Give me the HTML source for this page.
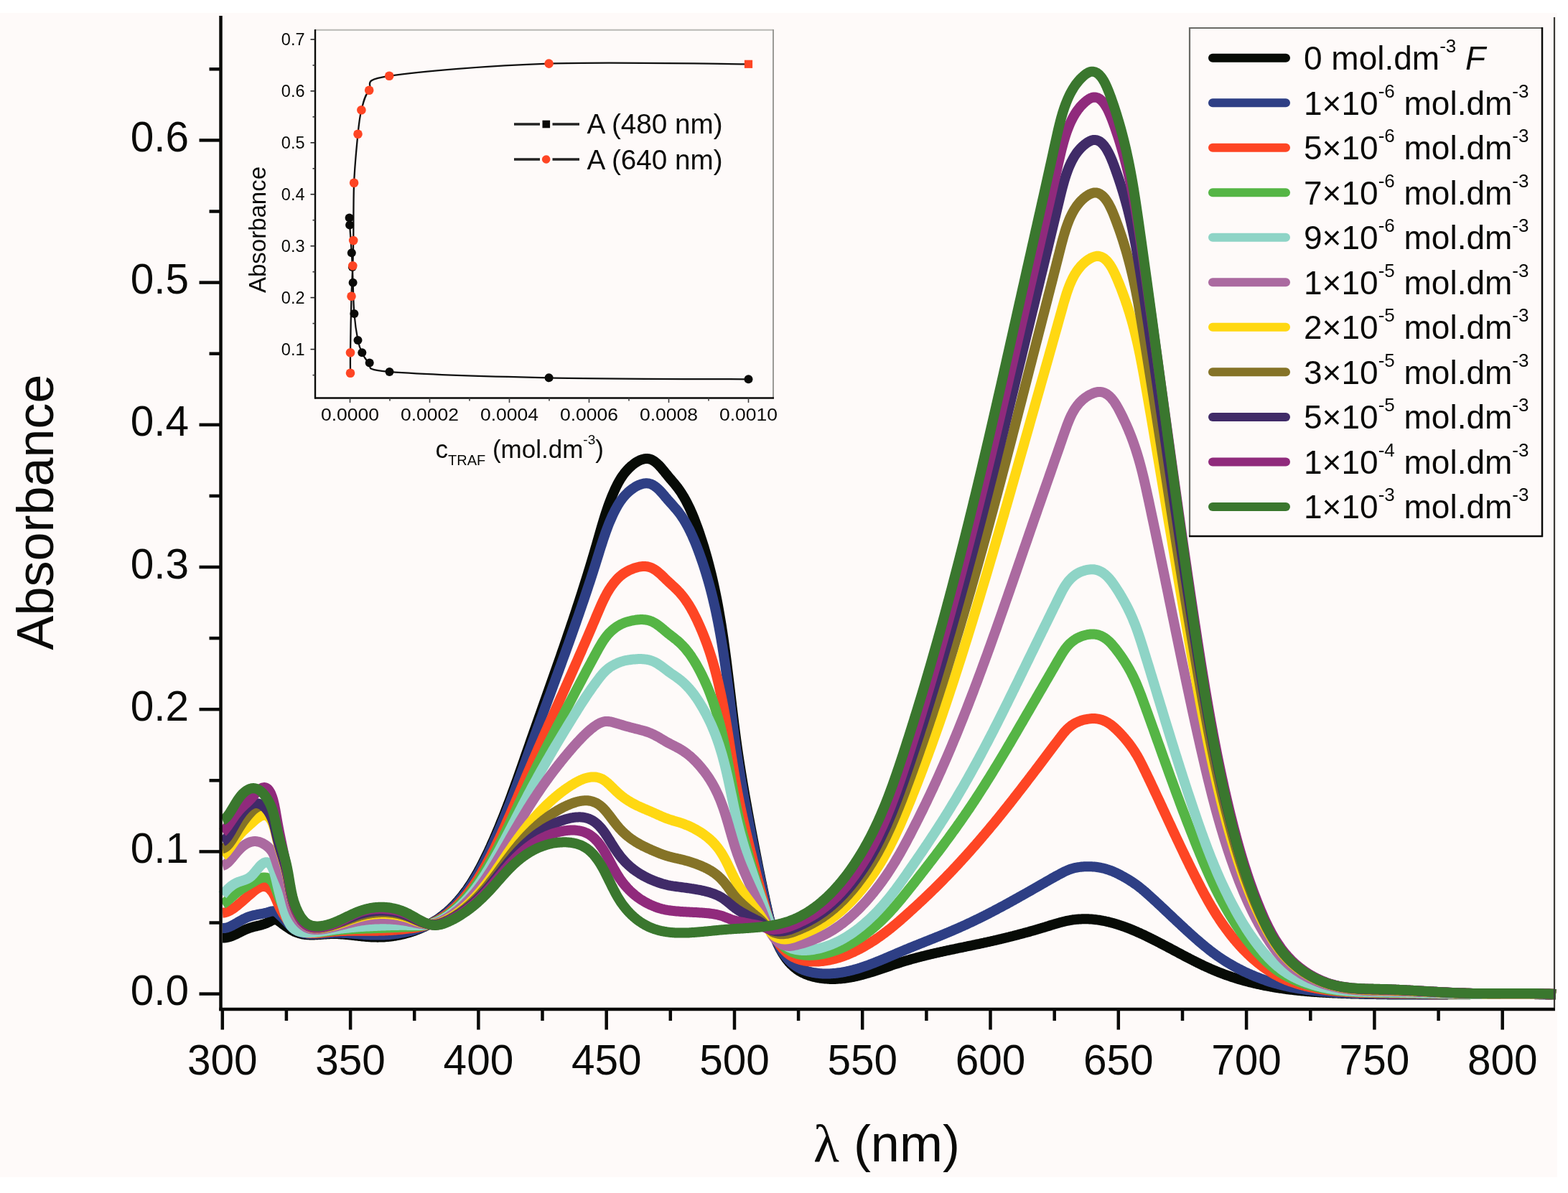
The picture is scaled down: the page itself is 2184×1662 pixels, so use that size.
<!DOCTYPE html><html><head><meta charset="utf-8"><style>html,body{margin:0;padding:0;background:#fff;}svg{display:block;}text{font-family:"Liberation Sans",Arial,sans-serif;fill:#0a0a08;}</style></head><body>
<svg width="2184" height="1662" viewBox="0 0 2184 1662" xmlns="http://www.w3.org/2000/svg">
<rect x="0" y="0" width="2184" height="1662" fill="#ffffff"/>
<rect x="0" y="18" width="2169" height="1622" fill="#fefaf9"/>
<path d="M310.0,1306.4L311.5,1306.4L313.0,1306.4L314.5,1306.3L316.0,1306.1L317.5,1305.7L319.0,1305.3L320.5,1304.9L322.0,1304.4L323.5,1303.8L325.0,1303.2L326.5,1302.5L328.0,1301.8L329.5,1301.1L331.0,1300.4L332.5,1299.6L334.0,1298.9L335.5,1298.1L337.0,1297.4L338.5,1296.6L340.0,1295.9L341.5,1295.2L343.0,1294.6L344.5,1294.0L346.0,1293.4L347.5,1292.9L349.0,1292.4L350.5,1291.9L352.0,1291.5L353.5,1291.1L355.0,1290.7L356.5,1290.4L358.0,1290.0L359.5,1289.6L361.0,1289.3L362.5,1288.9L364.0,1288.5L365.5,1288.0L367.0,1287.6L368.5,1287.1L370.0,1286.5L371.5,1285.9L373.0,1285.2L374.5,1284.5L376.0,1283.7L377.5,1282.9L379.0,1282.2L380.5,1281.7L382.0,1281.3L383.5,1281.2L385.0,1281.5L386.5,1282.1L388.0,1283.0L389.5,1284.1L391.0,1285.2L392.5,1286.4L394.0,1287.5L395.5,1288.6L397.0,1289.7L398.5,1290.8L400.0,1291.8L401.5,1292.8L403.0,1293.8L404.5,1294.8L406.0,1295.6L407.5,1296.5L409.0,1297.2L410.5,1298.0L412.0,1298.6L413.5,1299.2L415.0,1299.7L416.5,1300.2L418.0,1300.6L419.5,1301.0L421.0,1301.3L422.5,1301.6L424.0,1301.8L425.5,1302.0L427.0,1302.1L428.5,1302.3L430.0,1302.3L431.5,1302.4L433.0,1302.4L434.5,1302.4L436.0,1302.4L437.5,1302.4L439.0,1302.3L440.5,1302.3L442.0,1302.2L443.5,1302.1L445.0,1302.0L446.5,1301.9L448.0,1301.8L449.5,1301.7L451.0,1301.6L452.5,1301.5L454.0,1301.4L455.5,1301.3L457.0,1301.2L458.5,1301.2L460.0,1301.1L461.5,1301.1L463.0,1301.0L464.5,1301.0L466.0,1301.0L467.5,1301.0L469.0,1301.1L470.5,1301.1L472.0,1301.2L473.5,1301.3L475.0,1301.4L476.5,1301.5L478.0,1301.6L479.5,1301.7L481.0,1301.8L482.5,1302.0L484.0,1302.1L485.5,1302.3L487.0,1302.4L488.5,1302.6L490.0,1302.8L491.5,1302.9L493.0,1303.1L494.5,1303.3L496.0,1303.5L497.5,1303.6L499.0,1303.8L500.5,1304.0L502.0,1304.1L503.5,1304.3L505.0,1304.5L506.5,1304.6L508.0,1304.7L509.5,1304.9L511.0,1305.0L512.5,1305.1L514.0,1305.2L515.5,1305.3L517.0,1305.4L518.5,1305.5L520.0,1305.6L521.5,1305.6L523.0,1305.6L524.5,1305.6L526.0,1305.7L527.5,1305.6L529.0,1305.6L530.5,1305.6L532.0,1305.5L533.5,1305.4L535.0,1305.4L536.5,1305.3L538.0,1305.1L539.5,1305.0L541.0,1304.9L542.5,1304.7L544.0,1304.5L545.5,1304.4L547.0,1304.2L548.5,1303.9L550.0,1303.7L551.5,1303.5L553.0,1303.2L554.5,1302.9L556.0,1302.6L557.5,1302.3L559.0,1302.0L560.5,1301.6L562.0,1301.3L563.5,1300.9L565.0,1300.5L566.5,1300.1L568.0,1299.7L569.5,1299.3L571.0,1298.8L572.5,1298.3L574.0,1297.9L575.5,1297.4L577.0,1296.8L578.5,1296.3L580.0,1295.7L581.5,1295.2L583.0,1294.6L584.5,1293.9L586.0,1293.3L587.5,1292.7L589.0,1292.0L590.5,1291.3L592.0,1290.6L593.5,1289.8L595.0,1289.1L596.5,1288.3L598.0,1287.5L599.5,1286.7L601.0,1285.8L602.5,1285.0L604.0,1284.1L605.5,1283.1L607.0,1282.2L608.5,1281.2L610.0,1280.2L611.5,1279.2L613.0,1278.1L614.5,1277.0L616.0,1275.9L617.5,1274.7L619.0,1273.5L620.5,1272.3L622.0,1271.1L623.5,1269.8L625.0,1268.4L626.5,1267.0L628.0,1265.6L629.5,1264.2L631.0,1262.7L632.5,1261.1L634.0,1259.6L635.5,1257.9L637.0,1256.3L638.5,1254.6L640.0,1252.8L641.5,1251.0L643.0,1249.2L644.5,1247.3L646.0,1245.3L647.5,1243.3L649.0,1241.3L650.5,1239.2L652.0,1237.0L653.5,1234.8L655.0,1232.5L656.5,1230.2L658.0,1227.9L659.5,1225.4L661.0,1222.9L662.5,1220.4L664.0,1217.8L665.5,1215.2L667.0,1212.4L668.5,1209.7L670.0,1206.9L671.5,1204.0L673.0,1201.0L674.5,1198.0L676.0,1195.0L677.5,1191.9L679.0,1188.8L680.5,1185.6L682.0,1182.3L683.5,1179.1L685.0,1175.7L686.5,1172.4L688.0,1169.0L689.5,1165.5L691.0,1162.1L692.5,1158.5L694.0,1155.0L695.5,1151.4L697.0,1147.7L698.5,1144.0L700.0,1140.3L701.5,1136.5L703.0,1132.7L704.5,1128.9L706.0,1125.0L707.5,1121.1L709.0,1117.1L710.5,1113.1L712.0,1109.1L713.5,1105.0L715.0,1100.9L716.5,1096.8L718.0,1092.7L719.5,1088.5L721.0,1084.3L722.5,1080.1L724.0,1075.8L725.5,1071.6L727.0,1067.3L728.5,1063.0L730.0,1058.7L731.5,1054.4L733.0,1050.1L734.5,1045.8L736.0,1041.5L737.5,1037.2L739.0,1032.9L740.5,1028.6L742.0,1024.4L743.5,1020.1L745.0,1015.8L746.5,1011.6L748.0,1007.3L749.5,1003.1L751.0,998.8L752.5,994.6L754.0,990.4L755.5,986.1L757.0,981.9L758.5,977.6L760.0,973.4L761.5,969.2L763.0,964.9L764.5,960.7L766.0,956.4L767.5,952.2L769.0,947.9L770.5,943.7L772.0,939.4L773.5,935.1L775.0,930.9L776.5,926.6L778.0,922.3L779.5,918.0L781.0,913.7L782.5,909.3L784.0,905.0L785.5,900.7L787.0,896.3L788.5,891.9L790.0,887.5L791.5,883.1L793.0,878.7L794.5,874.3L796.0,869.8L797.5,865.4L799.0,860.9L800.5,856.4L802.0,851.8L803.5,847.3L805.0,842.7L806.5,838.1L808.0,833.5L809.5,828.8L811.0,824.2L812.5,819.4L814.0,814.7L815.5,809.9L817.0,805.1L818.5,800.3L820.0,795.4L821.5,790.5L823.0,785.5L824.5,780.5L826.0,775.5L827.5,770.4L829.0,765.3L830.5,760.1L832.0,754.9L833.5,749.6L835.0,744.3L836.5,739.1L838.0,734.0L839.5,728.9L841.0,723.9L842.5,719.1L844.0,714.5L845.5,710.0L847.0,705.6L848.5,701.4L850.0,697.4L851.5,693.6L853.0,689.9L854.5,686.4L856.0,683.0L857.5,679.8L859.0,676.7L860.5,673.8L862.0,671.0L863.5,668.4L865.0,666.0L866.5,663.8L868.0,661.6L869.5,659.6L871.0,657.8L872.5,656.0L874.0,654.4L875.5,652.8L877.0,651.3L878.5,649.9L880.0,648.6L881.5,647.4L883.0,646.2L884.5,645.1L886.0,644.1L887.5,643.2L889.0,642.4L890.5,641.6L892.0,640.9L893.5,640.4L895.0,639.9L896.5,639.5L898.0,639.2L899.5,639.1L901.0,639.0L902.5,639.1L904.0,639.3L905.5,639.7L907.0,640.2L908.5,640.9L910.0,641.8L911.5,642.7L913.0,643.9L914.5,645.1L916.0,646.5L917.5,647.9L919.0,649.5L920.5,651.2L922.0,652.9L923.5,654.7L925.0,656.5L926.5,658.4L928.0,660.2L929.5,662.1L931.0,663.9L932.5,665.7L934.0,667.5L935.5,669.2L937.0,671.0L938.5,672.8L940.0,674.6L941.5,676.4L943.0,678.3L944.5,680.3L946.0,682.4L947.5,684.5L949.0,686.8L950.5,689.2L952.0,691.6L953.5,694.2L955.0,696.9L956.5,699.8L958.0,702.7L959.5,705.8L961.0,708.9L962.5,712.3L964.0,715.7L965.5,719.3L967.0,723.0L968.5,726.9L970.0,730.9L971.5,735.0L973.0,739.2L974.5,743.6L976.0,748.1L977.5,752.7L979.0,757.4L980.5,762.2L982.0,767.2L983.5,772.4L985.0,777.7L986.5,783.3L988.0,789.0L989.5,794.9L991.0,801.0L992.5,807.4L994.0,814.0L995.5,820.9L997.0,828.1L998.5,835.7L1000.0,843.6L1001.5,851.9L1003.0,860.6L1004.5,869.7L1006.0,879.3L1007.5,889.3L1009.0,899.9L1010.5,911.0L1012.0,922.5L1013.5,934.5L1015.0,946.8L1016.5,959.3L1018.0,971.9L1019.5,984.5L1021.0,996.9L1022.5,1009.1L1024.0,1020.8L1025.5,1032.1L1027.0,1042.9L1028.5,1053.2L1030.0,1063.1L1031.5,1072.7L1033.0,1081.9L1034.5,1090.9L1036.0,1099.7L1037.5,1108.4L1039.0,1116.8L1040.5,1125.1L1042.0,1133.4L1043.5,1141.5L1045.0,1149.5L1046.5,1157.5L1048.0,1165.3L1049.5,1173.2L1051.0,1181.0L1052.5,1188.7L1054.0,1196.4L1055.5,1204.0L1057.0,1211.5L1058.5,1218.9L1060.0,1226.3L1061.5,1233.5L1063.0,1240.7L1064.5,1247.7L1066.0,1254.7L1067.5,1261.6L1069.0,1268.3L1070.5,1274.9L1072.0,1281.1L1073.5,1286.9L1075.0,1292.2L1076.5,1297.1L1078.0,1301.7L1079.5,1305.9L1081.0,1309.8L1082.5,1313.4L1084.0,1316.7L1085.5,1319.8L1087.0,1322.7L1088.5,1325.4L1090.0,1328.0L1091.5,1330.4L1093.0,1332.6L1094.5,1334.7L1096.0,1336.7L1097.5,1338.6L1099.0,1340.4L1100.5,1342.0L1102.0,1343.6L1103.5,1345.0L1105.0,1346.4L1106.5,1347.7L1108.0,1348.9L1109.5,1350.1L1111.0,1351.1L1112.5,1352.1L1114.0,1353.1L1115.5,1353.9L1117.0,1354.8L1118.5,1355.5L1120.0,1356.2L1121.5,1356.9L1123.0,1357.5L1124.5,1358.1L1126.0,1358.6L1127.5,1359.2L1129.0,1359.6L1130.5,1360.1L1132.0,1360.5L1133.5,1360.9L1135.0,1361.2L1136.5,1361.6L1138.0,1361.9L1139.5,1362.2L1141.0,1362.4L1142.5,1362.7L1144.0,1362.9L1145.5,1363.1L1147.0,1363.2L1148.5,1363.4L1150.0,1363.5L1151.5,1363.6L1153.0,1363.7L1154.5,1363.8L1156.0,1363.9L1157.5,1363.9L1159.0,1363.9L1160.5,1363.9L1162.0,1363.9L1163.5,1363.9L1165.0,1363.8L1166.5,1363.7L1168.0,1363.6L1169.5,1363.5L1171.0,1363.4L1172.5,1363.3L1174.0,1363.1L1175.5,1363.0L1177.0,1362.8L1178.5,1362.6L1180.0,1362.4L1181.5,1362.1L1183.0,1361.9L1184.5,1361.6L1186.0,1361.3L1187.5,1361.1L1189.0,1360.8L1190.5,1360.4L1192.0,1360.1L1193.5,1359.8L1195.0,1359.4L1196.5,1359.1L1198.0,1358.7L1199.5,1358.3L1201.0,1357.9L1202.5,1357.5L1204.0,1357.1L1205.5,1356.7L1207.0,1356.2L1208.5,1355.8L1210.0,1355.4L1211.5,1354.9L1213.0,1354.4L1214.5,1354.0L1216.0,1353.5L1217.5,1353.0L1219.0,1352.5L1220.5,1352.0L1222.0,1351.5L1223.5,1351.0L1225.0,1350.5L1226.5,1350.0L1228.0,1349.5L1229.5,1349.0L1231.0,1348.5L1232.5,1348.0L1234.0,1347.5L1235.5,1347.0L1237.0,1346.5L1238.5,1346.0L1240.0,1345.5L1241.5,1344.9L1243.0,1344.4L1244.5,1343.9L1246.0,1343.4L1247.5,1342.9L1249.0,1342.5L1250.5,1342.0L1252.0,1341.5L1253.5,1341.0L1255.0,1340.5L1256.5,1340.1L1258.0,1339.6L1259.5,1339.2L1261.0,1338.7L1262.5,1338.3L1264.0,1337.8L1265.5,1337.4L1267.0,1337.0L1268.5,1336.5L1270.0,1336.1L1271.5,1335.7L1273.0,1335.3L1274.5,1334.9L1276.0,1334.5L1277.5,1334.1L1279.0,1333.7L1280.5,1333.3L1282.0,1332.9L1283.5,1332.5L1285.0,1332.1L1286.5,1331.8L1288.0,1331.4L1289.5,1331.0L1291.0,1330.7L1292.5,1330.3L1294.0,1329.9L1295.5,1329.6L1297.0,1329.2L1298.5,1328.9L1300.0,1328.5L1301.5,1328.2L1303.0,1327.8L1304.5,1327.5L1306.0,1327.2L1307.5,1326.8L1309.0,1326.5L1310.5,1326.2L1312.0,1325.8L1313.5,1325.5L1315.0,1325.2L1316.5,1324.8L1318.0,1324.5L1319.5,1324.2L1321.0,1323.9L1322.5,1323.6L1324.0,1323.2L1325.5,1322.9L1327.0,1322.6L1328.5,1322.3L1330.0,1322.0L1331.5,1321.7L1333.0,1321.3L1334.5,1321.0L1336.0,1320.7L1337.5,1320.4L1339.0,1320.1L1340.5,1319.8L1342.0,1319.5L1343.5,1319.2L1345.0,1318.8L1346.5,1318.5L1348.0,1318.2L1349.5,1317.9L1351.0,1317.6L1352.5,1317.3L1354.0,1317.0L1355.5,1316.7L1357.0,1316.3L1358.5,1316.0L1360.0,1315.7L1361.5,1315.4L1363.0,1315.1L1364.5,1314.8L1366.0,1314.4L1367.5,1314.1L1369.0,1313.8L1370.5,1313.5L1372.0,1313.1L1373.5,1312.8L1375.0,1312.5L1376.5,1312.2L1378.0,1311.8L1379.5,1311.5L1381.0,1311.2L1382.5,1310.8L1384.0,1310.5L1385.5,1310.1L1387.0,1309.8L1388.5,1309.4L1390.0,1309.1L1391.5,1308.7L1393.0,1308.4L1394.5,1308.0L1396.0,1307.7L1397.5,1307.3L1399.0,1306.9L1400.5,1306.6L1402.0,1306.2L1403.5,1305.8L1405.0,1305.5L1406.5,1305.1L1408.0,1304.7L1409.5,1304.3L1411.0,1304.0L1412.5,1303.6L1414.0,1303.2L1415.5,1302.8L1417.0,1302.4L1418.5,1302.0L1420.0,1301.6L1421.5,1301.2L1423.0,1300.8L1424.5,1300.4L1426.0,1300.0L1427.5,1299.6L1429.0,1299.2L1430.5,1298.8L1432.0,1298.4L1433.5,1298.0L1435.0,1297.5L1436.5,1297.1L1438.0,1296.7L1439.5,1296.3L1441.0,1295.8L1442.5,1295.4L1444.0,1294.9L1445.5,1294.5L1447.0,1294.1L1448.5,1293.6L1450.0,1293.2L1451.5,1292.7L1453.0,1292.3L1454.5,1291.8L1456.0,1291.4L1457.5,1290.9L1459.0,1290.4L1460.5,1290.0L1462.0,1289.5L1463.5,1289.0L1465.0,1288.6L1466.5,1288.1L1468.0,1287.7L1469.5,1287.2L1471.0,1286.8L1472.5,1286.3L1474.0,1285.9L1475.5,1285.5L1477.0,1285.1L1478.5,1284.7L1480.0,1284.3L1481.5,1283.9L1483.0,1283.6L1484.5,1283.2L1486.0,1282.9L1487.5,1282.6L1489.0,1282.3L1490.5,1282.0L1492.0,1281.8L1493.5,1281.5L1495.0,1281.3L1496.5,1281.1L1498.0,1280.9L1499.5,1280.8L1501.0,1280.7L1502.5,1280.5L1504.0,1280.4L1505.5,1280.4L1507.0,1280.3L1508.5,1280.3L1510.0,1280.2L1511.5,1280.2L1513.0,1280.3L1514.5,1280.3L1516.0,1280.3L1517.5,1280.4L1519.0,1280.5L1520.5,1280.6L1522.0,1280.7L1523.5,1280.9L1525.0,1281.0L1526.5,1281.2L1528.0,1281.4L1529.5,1281.6L1531.0,1281.8L1532.5,1282.0L1534.0,1282.3L1535.5,1282.6L1537.0,1282.9L1538.5,1283.1L1540.0,1283.5L1541.5,1283.8L1543.0,1284.1L1544.5,1284.5L1546.0,1284.9L1547.5,1285.3L1549.0,1285.7L1550.5,1286.1L1552.0,1286.5L1553.5,1286.9L1555.0,1287.4L1556.5,1287.8L1558.0,1288.3L1559.5,1288.8L1561.0,1289.3L1562.5,1289.8L1564.0,1290.4L1565.5,1290.9L1567.0,1291.4L1568.5,1292.0L1570.0,1292.6L1571.5,1293.1L1573.0,1293.7L1574.5,1294.3L1576.0,1294.9L1577.5,1295.6L1579.0,1296.2L1580.5,1296.8L1582.0,1297.5L1583.5,1298.1L1585.0,1298.8L1586.5,1299.5L1588.0,1300.1L1589.5,1300.8L1591.0,1301.5L1592.5,1302.2L1594.0,1302.9L1595.5,1303.6L1597.0,1304.4L1598.5,1305.1L1600.0,1305.8L1601.5,1306.6L1603.0,1307.3L1604.5,1308.1L1606.0,1308.8L1607.5,1309.6L1609.0,1310.3L1610.5,1311.1L1612.0,1311.9L1613.5,1312.6L1615.0,1313.4L1616.5,1314.2L1618.0,1315.0L1619.5,1315.8L1621.0,1316.6L1622.5,1317.4L1624.0,1318.1L1625.5,1318.9L1627.0,1319.7L1628.5,1320.5L1630.0,1321.3L1631.5,1322.1L1633.0,1322.9L1634.5,1323.7L1636.0,1324.5L1637.5,1325.3L1639.0,1326.1L1640.5,1326.9L1642.0,1327.7L1643.5,1328.5L1645.0,1329.3L1646.5,1330.1L1648.0,1330.9L1649.5,1331.7L1651.0,1332.5L1652.5,1333.3L1654.0,1334.0L1655.5,1334.8L1657.0,1335.6L1658.5,1336.4L1660.0,1337.1L1661.5,1337.9L1663.0,1338.7L1664.5,1339.4L1666.0,1340.2L1667.5,1340.9L1669.0,1341.7L1670.5,1342.4L1672.0,1343.1L1673.5,1343.8L1675.0,1344.6L1676.5,1345.3L1678.0,1346.0L1679.5,1346.7L1681.0,1347.3L1682.5,1348.0L1684.0,1348.7L1685.5,1349.4L1687.0,1350.0L1688.5,1350.7L1690.0,1351.3L1691.5,1352.0L1693.0,1352.6L1694.5,1353.2L1696.0,1353.8L1697.5,1354.4L1699.0,1355.0L1700.5,1355.6L1702.0,1356.2L1703.5,1356.7L1705.0,1357.3L1706.5,1357.8L1708.0,1358.4L1709.5,1358.9L1711.0,1359.4L1712.5,1359.9L1714.0,1360.4L1715.5,1361.0L1717.0,1361.4L1718.5,1361.9L1720.0,1362.4L1721.5,1362.9L1723.0,1363.3L1724.5,1363.8L1726.0,1364.3L1727.5,1364.7L1729.0,1365.1L1730.5,1365.6L1732.0,1366.0L1733.5,1366.4L1735.0,1366.8L1736.5,1367.2L1738.0,1367.6L1739.5,1368.0L1741.0,1368.4L1742.5,1368.7L1744.0,1369.1L1745.5,1369.5L1747.0,1369.8L1748.5,1370.2L1750.0,1370.5L1751.5,1370.9L1753.0,1371.2L1754.5,1371.5L1756.0,1371.8L1757.5,1372.2L1759.0,1372.5L1760.5,1372.8L1762.0,1373.1L1763.5,1373.4L1765.0,1373.6L1766.5,1373.9L1768.0,1374.2L1769.5,1374.5L1771.0,1374.7L1772.5,1375.0L1774.0,1375.3L1775.5,1375.5L1777.0,1375.8L1778.5,1376.0L1780.0,1376.2L1781.5,1376.5L1783.0,1376.7L1784.5,1376.9L1786.0,1377.1L1787.5,1377.3L1789.0,1377.6L1790.5,1377.8L1792.0,1378.0L1793.5,1378.2L1795.0,1378.4L1796.5,1378.5L1798.0,1378.7L1799.5,1378.9L1801.0,1379.1L1802.5,1379.3L1804.0,1379.4L1805.5,1379.6L1807.0,1379.8L1808.5,1379.9L1810.0,1380.1L1811.5,1380.2L1813.0,1380.4L1814.5,1380.5L1816.0,1380.6L1817.5,1380.8L1819.0,1380.9L1820.5,1381.0L1822.0,1381.2L1823.5,1381.3L1825.0,1381.4L1826.5,1381.5L1828.0,1381.7L1829.5,1381.8L1831.0,1381.9L1832.5,1382.0L1834.0,1382.1L1835.5,1382.2L1837.0,1382.3L1838.5,1382.4L1840.0,1382.5L1841.5,1382.6L1843.0,1382.7L1844.5,1382.8L1846.0,1382.8L1847.5,1382.9L1849.0,1383.0L1850.5,1383.1L1852.0,1383.2L1853.5,1383.2L1855.0,1383.3L1856.5,1383.4L1858.0,1383.4L1859.5,1383.5L1861.0,1383.6L1862.5,1383.6L1864.0,1383.7L1865.5,1383.8L1867.0,1383.8L1868.5,1383.9L1870.0,1383.9L1871.5,1384.0L1873.0,1384.1L1874.5,1384.1L1876.0,1384.2L1877.5,1384.2L1879.0,1384.3L1880.5,1384.3L1882.0,1384.4L1883.5,1384.4L1885.0,1384.4L1886.5,1384.5L1888.0,1384.5L1889.5,1384.6L1891.0,1384.6L1892.5,1384.6L1894.0,1384.7L1895.5,1384.7L1897.0,1384.8L1898.5,1384.8L1900.0,1384.8L1901.5,1384.9L1903.0,1384.9L1904.5,1384.9L1906.0,1385.0L1907.5,1385.0L1909.0,1385.0L1910.5,1385.0L1912.0,1385.1L1913.5,1385.1L1915.0,1385.1L1916.5,1385.1L1918.0,1385.2L1919.5,1385.2L1921.0,1385.2L1922.5,1385.2L1924.0,1385.2L1925.5,1385.3L1927.0,1385.3L1928.5,1385.3L1930.0,1385.3L1931.5,1385.3L1933.0,1385.4L1934.5,1385.4L1936.0,1385.4L1937.5,1385.4L1939.0,1385.4L1940.5,1385.4L1942.0,1385.4L1943.5,1385.4L1945.0,1385.4L1946.5,1385.5L1948.0,1385.5L1949.5,1385.5L1951.0,1385.5L1952.5,1385.5L1954.0,1385.5L1955.5,1385.5L1957.0,1385.5L1958.5,1385.5L1960.0,1385.5L1961.5,1385.5L1963.0,1385.5L1964.5,1385.5L1966.0,1385.5L1967.5,1385.5L1969.0,1385.5L1970.5,1385.5L1972.0,1385.5L1973.5,1385.5L1975.0,1385.5L1976.5,1385.5L1978.0,1385.5L1979.5,1385.5L1981.0,1385.5L1982.5,1385.5L1984.0,1385.5L1985.5,1385.5L1987.0,1385.5L1988.5,1385.5L1990.0,1385.5L1991.5,1385.5L1993.0,1385.5L1994.5,1385.5L1996.0,1385.5L1997.5,1385.5L1999.0,1385.4L2000.5,1385.4L2002.0,1385.4L2003.5,1385.4L2005.0,1385.4L2006.5,1385.4L2008.0,1385.4L2009.5,1385.4L2011.0,1385.4L2012.5,1385.4L2014.0,1385.4L2015.5,1385.4L2017.0,1385.3L2018.5,1385.3L2020.0,1385.3L2021.5,1385.3L2023.0,1385.3L2024.5,1385.3L2026.0,1385.3L2027.5,1385.3L2029.0,1385.3L2030.5,1385.3L2032.0,1385.3L2033.5,1385.2L2035.0,1385.2L2036.5,1385.2L2038.0,1385.2L2039.5,1385.2L2041.0,1385.2L2042.5,1385.2L2044.0,1385.2L2045.5,1385.2L2047.0,1385.2L2048.5,1385.1L2050.0,1385.1L2051.5,1385.1L2053.0,1385.1L2054.5,1385.1L2056.0,1385.1L2057.5,1385.1L2059.0,1385.1L2060.5,1385.1L2062.0,1385.1L2063.5,1385.1L2065.0,1385.0L2066.5,1385.0L2068.0,1385.0L2069.5,1385.0L2071.0,1385.0L2072.5,1385.0L2074.0,1385.0L2075.5,1385.0L2077.0,1385.0L2078.5,1385.0L2080.0,1385.0L2081.5,1385.0L2083.0,1385.0L2084.5,1385.0L2086.0,1385.0L2087.5,1385.0L2089.0,1385.0L2090.5,1385.0L2092.0,1385.0L2093.5,1385.0L2095.0,1385.0L2096.5,1385.0L2098.0,1385.0L2099.5,1385.0L2101.0,1385.0L2102.5,1385.0L2104.0,1385.0L2105.5,1385.0L2107.0,1385.0L2108.5,1385.0L2110.0,1385.0L2111.5,1385.0L2113.0,1385.0L2114.5,1385.0L2116.0,1385.0L2117.5,1385.0L2119.0,1385.0L2120.5,1385.0L2122.0,1385.0L2123.5,1385.0L2125.0,1385.0L2126.5,1385.1L2128.0,1385.1L2129.5,1385.1L2131.0,1385.1L2132.5,1385.1L2134.0,1385.1L2135.5,1385.1L2137.0,1385.1L2138.5,1385.2L2140.0,1385.2L2141.5,1385.2L2143.0,1385.2L2144.5,1385.2L2146.0,1385.3L2147.5,1385.3L2149.0,1385.3L2150.5,1385.3L2152.0,1385.3L2153.5,1385.4L2155.0,1385.4L2156.5,1385.4L2158.0,1385.5L2159.5,1385.5L2161.0,1385.5L2162.5,1385.5L2164.0,1385.6L2165.5,1385.6L2167.0,1385.6" fill="none" stroke="#070b06" stroke-width="14" stroke-linejoin="round"/>
<path d="M310.0,1293.0L311.5,1293.0L313.0,1292.9L314.5,1292.6L316.0,1292.3L317.5,1291.8L319.0,1291.3L320.5,1290.7L322.0,1290.0L323.5,1289.2L325.0,1288.4L326.5,1287.6L328.0,1286.8L329.5,1285.9L331.0,1285.0L332.5,1284.1L334.0,1283.3L335.5,1282.4L337.0,1281.6L338.5,1280.8L340.0,1280.0L341.5,1279.3L343.0,1278.6L344.5,1277.9L346.0,1277.4L347.5,1276.8L349.0,1276.3L350.5,1275.9L352.0,1275.5L353.5,1275.1L355.0,1274.8L356.5,1274.5L358.0,1274.2L359.5,1273.9L361.0,1273.6L362.5,1273.3L364.0,1273.1L365.5,1272.8L367.0,1272.5L368.5,1272.2L370.0,1271.8L371.5,1271.5L373.0,1271.1L374.5,1270.6L376.0,1270.1L377.5,1269.7L379.0,1269.4L380.5,1269.3L382.0,1269.4L383.5,1269.9L385.0,1270.7L386.5,1271.9L388.0,1273.2L389.5,1274.7L391.0,1276.2L392.5,1277.6L394.0,1279.1L395.5,1280.6L397.0,1282.0L398.5,1283.5L400.0,1285.0L401.5,1286.6L403.0,1288.2L404.5,1289.8L406.0,1291.3L407.5,1292.6L409.0,1293.8L410.5,1294.8L412.0,1295.8L413.5,1296.6L415.0,1297.3L416.5,1298.0L418.0,1298.6L419.5,1299.1L421.0,1299.6L422.5,1300.0L424.0,1300.3L425.5,1300.6L427.0,1300.8L428.5,1301.0L430.0,1301.2L431.5,1301.3L433.0,1301.4L434.5,1301.4L436.0,1301.4L437.5,1301.4L439.0,1301.4L440.5,1301.3L442.0,1301.3L443.5,1301.2L445.0,1301.1L446.5,1301.0L448.0,1300.9L449.5,1300.8L451.0,1300.7L452.5,1300.5L454.0,1300.4L455.5,1300.3L457.0,1300.2L458.5,1300.1L460.0,1300.0L461.5,1299.9L463.0,1299.9L464.5,1299.8L466.0,1299.8L467.5,1299.7L469.0,1299.7L470.5,1299.7L472.0,1299.7L473.5,1299.8L475.0,1299.8L476.5,1299.8L478.0,1299.9L479.5,1299.9L481.0,1300.0L482.5,1300.1L484.0,1300.2L485.5,1300.3L487.0,1300.4L488.5,1300.5L490.0,1300.6L491.5,1300.7L493.0,1300.8L494.5,1300.9L496.0,1301.0L497.5,1301.2L499.0,1301.3L500.5,1301.4L502.0,1301.5L503.5,1301.6L505.0,1301.7L506.5,1301.9L508.0,1302.0L509.5,1302.1L511.0,1302.2L512.5,1302.2L514.0,1302.3L515.5,1302.4L517.0,1302.5L518.5,1302.5L520.0,1302.6L521.5,1302.6L523.0,1302.6L524.5,1302.6L526.0,1302.6L527.5,1302.6L529.0,1302.6L530.5,1302.6L532.0,1302.5L533.5,1302.5L535.0,1302.4L536.5,1302.3L538.0,1302.2L539.5,1302.1L541.0,1302.0L542.5,1301.9L544.0,1301.8L545.5,1301.6L547.0,1301.4L548.5,1301.3L550.0,1301.1L551.5,1300.9L553.0,1300.7L554.5,1300.5L556.0,1300.2L557.5,1300.0L559.0,1299.7L560.5,1299.4L562.0,1299.2L563.5,1298.9L565.0,1298.5L566.5,1298.2L568.0,1297.9L569.5,1297.5L571.0,1297.2L572.5,1296.8L574.0,1296.4L575.5,1296.0L577.0,1295.6L578.5,1295.1L580.0,1294.6L581.5,1294.2L583.0,1293.7L584.5,1293.1L586.0,1292.6L587.5,1292.1L589.0,1291.5L590.5,1290.9L592.0,1290.2L593.5,1289.6L595.0,1288.9L596.5,1288.2L598.0,1287.5L599.5,1286.8L601.0,1286.0L602.5,1285.2L604.0,1284.4L605.5,1283.5L607.0,1282.6L608.5,1281.7L610.0,1280.7L611.5,1279.8L613.0,1278.7L614.5,1277.7L616.0,1276.6L617.5,1275.5L619.0,1274.3L620.5,1273.1L622.0,1271.9L623.5,1270.6L625.0,1269.3L626.5,1268.0L628.0,1266.6L629.5,1265.2L631.0,1263.7L632.5,1262.2L634.0,1260.7L635.5,1259.1L637.0,1257.5L638.5,1255.8L640.0,1254.1L641.5,1252.4L643.0,1250.6L644.5,1248.7L646.0,1246.8L647.5,1244.9L649.0,1242.9L650.5,1240.8L652.0,1238.8L653.5,1236.6L655.0,1234.4L656.5,1232.2L658.0,1229.9L659.5,1227.5L661.0,1225.1L662.5,1222.6L664.0,1220.1L665.5,1217.5L667.0,1214.9L668.5,1212.2L670.0,1209.4L671.5,1206.6L673.0,1203.8L674.5,1200.9L676.0,1197.9L677.5,1194.9L679.0,1191.8L680.5,1188.7L682.0,1185.6L683.5,1182.4L685.0,1179.2L686.5,1175.9L688.0,1172.6L689.5,1169.2L691.0,1165.9L692.5,1162.4L694.0,1159.0L695.5,1155.5L697.0,1151.9L698.5,1148.4L700.0,1144.7L701.5,1141.1L703.0,1137.4L704.5,1133.7L706.0,1129.9L707.5,1126.1L709.0,1122.3L710.5,1118.4L712.0,1114.5L713.5,1110.6L715.0,1106.7L716.5,1102.7L718.0,1098.7L719.5,1094.6L721.0,1090.6L722.5,1086.5L724.0,1082.4L725.5,1078.3L727.0,1074.2L728.5,1070.1L730.0,1065.9L731.5,1061.8L733.0,1057.7L734.5,1053.5L736.0,1049.4L737.5,1045.2L739.0,1041.1L740.5,1037.0L742.0,1032.9L743.5,1028.8L745.0,1024.7L746.5,1020.6L748.0,1016.5L749.5,1012.4L751.0,1008.3L752.5,1004.3L754.0,1000.2L755.5,996.1L757.0,992.0L758.5,988.0L760.0,983.9L761.5,979.8L763.0,975.8L764.5,971.7L766.0,967.7L767.5,963.6L769.0,959.5L770.5,955.4L772.0,951.4L773.5,947.3L775.0,943.2L776.5,939.1L778.0,935.0L779.5,930.9L781.0,926.8L782.5,922.7L784.0,918.5L785.5,914.4L787.0,910.3L788.5,906.1L790.0,901.9L791.5,897.8L793.0,893.6L794.5,889.4L796.0,885.1L797.5,880.9L799.0,876.7L800.5,872.4L802.0,868.1L803.5,863.8L805.0,859.5L806.5,855.2L808.0,850.8L809.5,846.5L811.0,842.1L812.5,837.7L814.0,833.2L815.5,828.8L817.0,824.3L818.5,819.8L820.0,815.2L821.5,810.7L823.0,806.1L824.5,801.4L826.0,796.8L827.5,792.0L829.0,787.3L830.5,782.5L832.0,777.7L833.5,772.9L835.0,768.0L836.5,763.2L838.0,758.5L839.5,753.8L841.0,749.3L842.5,744.9L844.0,740.7L845.5,736.6L847.0,732.6L848.5,728.8L850.0,725.2L851.5,721.8L853.0,718.4L854.5,715.3L856.0,712.2L857.5,709.3L859.0,706.6L860.5,703.9L862.0,701.5L863.5,699.1L865.0,697.0L866.5,695.0L868.0,693.1L869.5,691.3L871.0,689.6L872.5,688.1L874.0,686.6L875.5,685.2L877.0,683.9L878.5,682.7L880.0,681.6L881.5,680.5L883.0,679.5L884.5,678.5L886.0,677.6L887.5,676.8L889.0,676.1L890.5,675.5L892.0,674.9L893.5,674.4L895.0,674.0L896.5,673.7L898.0,673.4L899.5,673.3L901.0,673.3L902.5,673.4L904.0,673.7L905.5,674.0L907.0,674.6L908.5,675.2L910.0,676.0L911.5,677.0L913.0,678.1L914.5,679.2L916.0,680.5L917.5,681.9L919.0,683.4L920.5,685.0L922.0,686.7L923.5,688.4L925.0,690.1L926.5,691.9L928.0,693.7L929.5,695.4L931.0,697.2L932.5,698.9L934.0,700.5L935.5,702.2L937.0,703.9L938.5,705.6L940.0,707.3L941.5,709.0L943.0,710.8L944.5,712.7L946.0,714.6L947.5,716.6L949.0,718.8L950.5,721.0L952.0,723.3L953.5,725.7L955.0,728.3L956.5,730.9L958.0,733.7L959.5,736.5L961.0,739.5L962.5,742.7L964.0,745.9L965.5,749.3L967.0,752.8L968.5,756.4L970.0,760.1L971.5,764.0L973.0,768.0L974.5,772.1L976.0,776.3L977.5,780.6L979.0,785.0L980.5,789.6L982.0,794.3L983.5,799.2L985.0,804.2L986.5,809.4L988.0,814.7L989.5,820.3L991.0,826.1L992.5,832.0L994.0,838.3L995.5,844.8L997.0,851.6L998.5,858.7L1000.0,866.1L1001.5,873.9L1003.0,882.0L1004.5,890.6L1006.0,899.6L1007.5,909.1L1009.0,919.1L1010.5,929.5L1012.0,940.4L1013.5,951.7L1015.0,963.3L1016.5,975.2L1018.0,987.2L1019.5,999.1L1021.0,1010.9L1022.5,1022.5L1024.0,1033.6L1025.5,1044.4L1027.0,1054.6L1028.5,1064.5L1030.0,1073.9L1031.5,1083.0L1033.0,1091.8L1034.5,1100.3L1036.0,1108.7L1037.5,1116.9L1039.0,1124.9L1040.5,1132.8L1042.0,1140.6L1043.5,1148.3L1045.0,1155.9L1046.5,1163.5L1048.0,1171.0L1049.5,1178.4L1051.0,1185.8L1052.5,1193.2L1054.0,1200.4L1055.5,1207.7L1057.0,1214.8L1058.5,1221.9L1060.0,1228.9L1061.5,1235.9L1063.0,1242.8L1064.5,1249.6L1066.0,1256.3L1067.5,1262.9L1069.0,1269.4L1070.5,1275.7L1072.0,1281.7L1073.5,1287.3L1075.0,1292.4L1076.5,1297.2L1078.0,1301.6L1079.5,1305.6L1081.0,1309.3L1082.5,1312.7L1084.0,1315.9L1085.5,1318.8L1087.0,1321.6L1088.5,1324.1L1090.0,1326.5L1091.5,1328.7L1093.0,1330.8L1094.5,1332.8L1096.0,1334.6L1097.5,1336.3L1099.0,1337.9L1100.5,1339.4L1102.0,1340.8L1103.5,1342.0L1105.0,1343.2L1106.5,1344.4L1108.0,1345.4L1109.5,1346.4L1111.0,1347.3L1112.5,1348.2L1114.0,1348.9L1115.5,1349.7L1117.0,1350.3L1118.5,1351.0L1120.0,1351.5L1121.5,1352.1L1123.0,1352.6L1124.5,1353.0L1126.0,1353.4L1127.5,1353.8L1129.0,1354.2L1130.5,1354.5L1132.0,1354.8L1133.5,1355.1L1135.0,1355.3L1136.5,1355.5L1138.0,1355.7L1139.5,1355.9L1141.0,1356.1L1142.5,1356.2L1144.0,1356.3L1145.5,1356.4L1147.0,1356.4L1148.5,1356.5L1150.0,1356.5L1151.5,1356.5L1153.0,1356.5L1154.5,1356.4L1156.0,1356.4L1157.5,1356.3L1159.0,1356.2L1160.5,1356.1L1162.0,1356.0L1163.5,1355.9L1165.0,1355.7L1166.5,1355.5L1168.0,1355.3L1169.5,1355.1L1171.0,1354.9L1172.5,1354.7L1174.0,1354.4L1175.5,1354.1L1177.0,1353.8L1178.5,1353.5L1180.0,1353.2L1181.5,1352.9L1183.0,1352.5L1184.5,1352.2L1186.0,1351.8L1187.5,1351.4L1189.0,1351.0L1190.5,1350.6L1192.0,1350.2L1193.5,1349.8L1195.0,1349.3L1196.5,1348.8L1198.0,1348.4L1199.5,1347.9L1201.0,1347.4L1202.5,1346.9L1204.0,1346.4L1205.5,1345.9L1207.0,1345.3L1208.5,1344.8L1210.0,1344.3L1211.5,1343.7L1213.0,1343.1L1214.5,1342.6L1216.0,1342.0L1217.5,1341.4L1219.0,1340.8L1220.5,1340.2L1222.0,1339.6L1223.5,1339.0L1225.0,1338.4L1226.5,1337.8L1228.0,1337.2L1229.5,1336.5L1231.0,1335.9L1232.5,1335.3L1234.0,1334.6L1235.5,1334.0L1237.0,1333.4L1238.5,1332.7L1240.0,1332.1L1241.5,1331.4L1243.0,1330.8L1244.5,1330.2L1246.0,1329.5L1247.5,1328.9L1249.0,1328.2L1250.5,1327.6L1252.0,1326.9L1253.5,1326.3L1255.0,1325.7L1256.5,1325.0L1258.0,1324.4L1259.5,1323.8L1261.0,1323.1L1262.5,1322.5L1264.0,1321.9L1265.5,1321.3L1267.0,1320.6L1268.5,1320.0L1270.0,1319.4L1271.5,1318.8L1273.0,1318.2L1274.5,1317.6L1276.0,1317.0L1277.5,1316.4L1279.0,1315.8L1280.5,1315.2L1282.0,1314.6L1283.5,1314.0L1285.0,1313.4L1286.5,1312.8L1288.0,1312.2L1289.5,1311.6L1291.0,1311.0L1292.5,1310.4L1294.0,1309.8L1295.5,1309.2L1297.0,1308.6L1298.5,1308.0L1300.0,1307.4L1301.5,1306.8L1303.0,1306.2L1304.5,1305.6L1306.0,1305.0L1307.5,1304.4L1309.0,1303.8L1310.5,1303.2L1312.0,1302.6L1313.5,1302.0L1315.0,1301.3L1316.5,1300.7L1318.0,1300.1L1319.5,1299.5L1321.0,1298.8L1322.5,1298.2L1324.0,1297.6L1325.5,1296.9L1327.0,1296.3L1328.5,1295.6L1330.0,1295.0L1331.5,1294.3L1333.0,1293.7L1334.5,1293.0L1336.0,1292.4L1337.5,1291.7L1339.0,1291.0L1340.5,1290.3L1342.0,1289.7L1343.5,1289.0L1345.0,1288.3L1346.5,1287.6L1348.0,1286.9L1349.5,1286.2L1351.0,1285.5L1352.5,1284.8L1354.0,1284.1L1355.5,1283.4L1357.0,1282.7L1358.5,1281.9L1360.0,1281.2L1361.5,1280.5L1363.0,1279.8L1364.5,1279.0L1366.0,1278.3L1367.5,1277.5L1369.0,1276.8L1370.5,1276.0L1372.0,1275.3L1373.5,1274.5L1375.0,1273.8L1376.5,1273.0L1378.0,1272.2L1379.5,1271.4L1381.0,1270.7L1382.5,1269.9L1384.0,1269.1L1385.5,1268.3L1387.0,1267.5L1388.5,1266.7L1390.0,1265.9L1391.5,1265.1L1393.0,1264.3L1394.5,1263.5L1396.0,1262.7L1397.5,1261.9L1399.0,1261.1L1400.5,1260.3L1402.0,1259.5L1403.5,1258.7L1405.0,1257.8L1406.5,1257.0L1408.0,1256.2L1409.5,1255.3L1411.0,1254.5L1412.5,1253.7L1414.0,1252.8L1415.5,1252.0L1417.0,1251.2L1418.5,1250.3L1420.0,1249.5L1421.5,1248.6L1423.0,1247.8L1424.5,1247.0L1426.0,1246.1L1427.5,1245.3L1429.0,1244.4L1430.5,1243.6L1432.0,1242.7L1433.5,1241.9L1435.0,1241.0L1436.5,1240.2L1438.0,1239.3L1439.5,1238.4L1441.0,1237.6L1442.5,1236.7L1444.0,1235.9L1445.5,1235.0L1447.0,1234.2L1448.5,1233.3L1450.0,1232.5L1451.5,1231.6L1453.0,1230.7L1454.5,1229.9L1456.0,1229.0L1457.5,1228.1L1459.0,1227.3L1460.5,1226.4L1462.0,1225.6L1463.5,1224.7L1465.0,1223.8L1466.5,1223.0L1468.0,1222.2L1469.5,1221.3L1471.0,1220.5L1472.5,1219.7L1474.0,1218.9L1475.5,1218.1L1477.0,1217.3L1478.5,1216.5L1480.0,1215.7L1481.5,1214.9L1483.0,1214.2L1484.5,1213.5L1486.0,1212.8L1487.5,1212.2L1489.0,1211.6L1490.5,1211.0L1492.0,1210.5L1493.5,1210.1L1495.0,1209.6L1496.5,1209.2L1498.0,1208.9L1499.5,1208.6L1501.0,1208.3L1502.5,1208.1L1504.0,1207.9L1505.5,1207.7L1507.0,1207.5L1508.5,1207.4L1510.0,1207.3L1511.5,1207.2L1513.0,1207.2L1514.5,1207.2L1516.0,1207.2L1517.5,1207.2L1519.0,1207.2L1520.5,1207.3L1522.0,1207.4L1523.5,1207.5L1525.0,1207.6L1526.5,1207.8L1528.0,1208.0L1529.5,1208.2L1531.0,1208.5L1532.5,1208.7L1534.0,1209.0L1535.5,1209.4L1537.0,1209.7L1538.5,1210.1L1540.0,1210.5L1541.5,1211.0L1543.0,1211.4L1544.5,1211.9L1546.0,1212.5L1547.5,1213.0L1549.0,1213.6L1550.5,1214.2L1552.0,1214.9L1553.5,1215.5L1555.0,1216.2L1556.5,1217.0L1558.0,1217.7L1559.5,1218.5L1561.0,1219.3L1562.5,1220.1L1564.0,1220.9L1565.5,1221.7L1567.0,1222.6L1568.5,1223.4L1570.0,1224.3L1571.5,1225.2L1573.0,1226.1L1574.5,1227.1L1576.0,1228.1L1577.5,1229.0L1579.0,1230.1L1580.5,1231.1L1582.0,1232.1L1583.5,1233.2L1585.0,1234.3L1586.5,1235.5L1588.0,1236.7L1589.5,1237.9L1591.0,1239.1L1592.5,1240.4L1594.0,1241.6L1595.5,1242.9L1597.0,1244.3L1598.5,1245.6L1600.0,1247.0L1601.5,1248.3L1603.0,1249.7L1604.5,1251.0L1606.0,1252.4L1607.5,1253.8L1609.0,1255.1L1610.5,1256.5L1612.0,1257.9L1613.5,1259.3L1615.0,1260.7L1616.5,1262.1L1618.0,1263.5L1619.5,1264.9L1621.0,1266.3L1622.5,1267.7L1624.0,1269.2L1625.5,1270.6L1627.0,1272.0L1628.5,1273.4L1630.0,1274.8L1631.5,1276.2L1633.0,1277.7L1634.5,1279.1L1636.0,1280.5L1637.5,1281.9L1639.0,1283.3L1640.5,1284.7L1642.0,1286.1L1643.5,1287.5L1645.0,1288.9L1646.5,1290.3L1648.0,1291.7L1649.5,1293.1L1651.0,1294.5L1652.5,1295.9L1654.0,1297.2L1655.5,1298.6L1657.0,1300.0L1658.5,1301.3L1660.0,1302.7L1661.5,1304.0L1663.0,1305.3L1664.5,1306.7L1666.0,1308.0L1667.5,1309.3L1669.0,1310.6L1670.5,1311.9L1672.0,1313.2L1673.5,1314.4L1675.0,1315.7L1676.5,1316.9L1678.0,1318.2L1679.5,1319.4L1681.0,1320.6L1682.5,1321.8L1684.0,1323.0L1685.5,1324.2L1687.0,1325.4L1688.5,1326.5L1690.0,1327.6L1691.5,1328.7L1693.0,1329.8L1694.5,1330.9L1696.0,1332.0L1697.5,1333.0L1699.0,1334.0L1700.5,1335.0L1702.0,1336.0L1703.5,1337.0L1705.0,1338.0L1706.5,1338.9L1708.0,1339.9L1709.5,1340.8L1711.0,1341.7L1712.5,1342.6L1714.0,1343.5L1715.5,1344.3L1717.0,1345.2L1718.5,1346.0L1720.0,1346.9L1721.5,1347.7L1723.0,1348.5L1724.5,1349.3L1726.0,1350.0L1727.5,1350.8L1729.0,1351.6L1730.5,1352.3L1732.0,1353.1L1733.5,1353.8L1735.0,1354.5L1736.5,1355.2L1738.0,1355.9L1739.5,1356.5L1741.0,1357.2L1742.5,1357.9L1744.0,1358.5L1745.5,1359.1L1747.0,1359.8L1748.5,1360.4L1750.0,1361.0L1751.5,1361.6L1753.0,1362.2L1754.5,1362.7L1756.0,1363.3L1757.5,1363.8L1759.0,1364.4L1760.5,1364.9L1762.0,1365.4L1763.5,1366.0L1765.0,1366.5L1766.5,1367.0L1768.0,1367.5L1769.5,1368.0L1771.0,1368.4L1772.5,1368.9L1774.0,1369.3L1775.5,1369.8L1777.0,1370.2L1778.5,1370.6L1780.0,1371.0L1781.5,1371.4L1783.0,1371.8L1784.5,1372.2L1786.0,1372.6L1787.5,1373.0L1789.0,1373.3L1790.5,1373.7L1792.0,1374.0L1793.5,1374.3L1795.0,1374.6L1796.5,1375.0L1798.0,1375.3L1799.5,1375.6L1801.0,1375.8L1802.5,1376.1L1804.0,1376.4L1805.5,1376.7L1807.0,1376.9L1808.5,1377.2L1810.0,1377.4L1811.5,1377.7L1813.0,1377.9L1814.5,1378.1L1816.0,1378.3L1817.5,1378.6L1819.0,1378.8L1820.5,1379.0L1822.0,1379.2L1823.5,1379.4L1825.0,1379.6L1826.5,1379.7L1828.0,1379.9L1829.5,1380.1L1831.0,1380.3L1832.5,1380.4L1834.0,1380.6L1835.5,1380.7L1837.0,1380.9L1838.5,1381.0L1840.0,1381.2L1841.5,1381.3L1843.0,1381.4L1844.5,1381.6L1846.0,1381.7L1847.5,1381.8L1849.0,1381.9L1850.5,1382.1L1852.0,1382.2L1853.5,1382.3L1855.0,1382.4L1856.5,1382.5L1858.0,1382.6L1859.5,1382.7L1861.0,1382.8L1862.5,1382.9L1864.0,1382.9L1865.5,1383.0L1867.0,1383.1L1868.5,1383.2L1870.0,1383.3L1871.5,1383.3L1873.0,1383.4L1874.5,1383.5L1876.0,1383.5L1877.5,1383.6L1879.0,1383.7L1880.5,1383.7L1882.0,1383.8L1883.5,1383.8L1885.0,1383.9L1886.5,1384.0L1888.0,1384.0L1889.5,1384.1L1891.0,1384.1L1892.5,1384.1L1894.0,1384.2L1895.5,1384.2L1897.0,1384.3L1898.5,1384.3L1900.0,1384.3L1901.5,1384.4L1903.0,1384.4L1904.5,1384.5L1906.0,1384.5L1907.5,1384.5L1909.0,1384.5L1910.5,1384.6L1912.0,1384.6L1913.5,1384.6L1915.0,1384.7L1916.5,1384.7L1918.0,1384.7L1919.5,1384.7L1921.0,1384.7L1922.5,1384.8L1924.0,1384.8L1925.5,1384.8L1927.0,1384.8L1928.5,1384.8L1930.0,1384.9L1931.5,1384.9L1933.0,1384.9L1934.5,1384.9L1936.0,1384.9L1937.5,1384.9L1939.0,1385.0L1940.5,1385.0L1942.0,1385.0L1943.5,1385.0L1945.0,1385.0L1946.5,1385.0L1948.0,1385.0L1949.5,1385.0L1951.0,1385.0L1952.5,1385.1L1954.0,1385.1L1955.5,1385.1L1957.0,1385.1L1958.5,1385.1L1960.0,1385.1L1961.5,1385.1L1963.0,1385.1L1964.5,1385.1L1966.0,1385.1L1967.5,1385.1L1969.0,1385.1L1970.5,1385.1L1972.0,1385.1L1973.5,1385.1L1975.0,1385.2L1976.5,1385.2L1978.0,1385.2L1979.5,1385.2L1981.0,1385.2L1982.5,1385.2L1984.0,1385.2L1985.5,1385.2L1987.0,1385.2L1988.5,1385.2L1990.0,1385.2L1991.5,1385.2L1993.0,1385.2L1994.5,1385.2L1996.0,1385.2L1997.5,1385.2L1999.0,1385.2L2000.5,1385.2L2002.0,1385.2L2003.5,1385.2L2005.0,1385.2L2006.5,1385.2L2008.0,1385.2L2009.5,1385.2L2011.0,1385.2L2012.5,1385.2L2014.0,1385.2L2015.5,1385.2L2017.0,1385.1L2018.5,1385.1L2020.0,1385.1L2021.5,1385.1L2023.0,1385.1L2024.5,1385.1L2026.0,1385.1L2027.5,1385.1L2029.0,1385.1L2030.5,1385.1L2032.0,1385.1L2033.5,1385.1L2035.0,1385.1L2036.5,1385.1L2038.0,1385.1L2039.5,1385.1L2041.0,1385.1L2042.5,1385.1L2044.0,1385.1L2045.5,1385.1L2047.0,1385.0L2048.5,1385.0L2050.0,1385.0L2051.5,1385.0L2053.0,1385.0L2054.5,1385.0L2056.0,1385.0L2057.5,1385.0L2059.0,1385.0L2060.5,1385.0L2062.0,1385.0L2063.5,1385.0L2065.0,1385.0L2066.5,1385.0L2068.0,1385.0L2069.5,1385.0L2071.0,1385.0L2072.5,1384.9L2074.0,1384.9L2075.5,1384.9L2077.0,1384.9L2078.5,1384.9L2080.0,1384.9L2081.5,1384.9L2083.0,1384.9L2084.5,1384.9L2086.0,1384.9L2087.5,1384.9L2089.0,1384.9L2090.5,1384.9L2092.0,1384.9L2093.5,1384.9L2095.0,1384.9L2096.5,1384.9L2098.0,1384.9L2099.5,1384.9L2101.0,1384.9L2102.5,1384.9L2104.0,1384.9L2105.5,1384.9L2107.0,1384.9L2108.5,1384.9L2110.0,1384.9L2111.5,1384.9L2113.0,1384.9L2114.5,1384.9L2116.0,1384.9L2117.5,1384.9L2119.0,1384.9L2120.5,1384.9L2122.0,1385.0L2123.5,1385.0L2125.0,1385.0L2126.5,1385.0L2128.0,1385.0L2129.5,1385.0L2131.0,1385.0L2132.5,1385.0L2134.0,1385.0L2135.5,1385.1L2137.0,1385.1L2138.5,1385.1L2140.0,1385.1L2141.5,1385.1L2143.0,1385.1L2144.5,1385.2L2146.0,1385.2L2147.5,1385.2L2149.0,1385.2L2150.5,1385.3L2152.0,1385.3L2153.5,1385.3L2155.0,1385.3L2156.5,1385.4L2158.0,1385.4L2159.5,1385.4L2161.0,1385.4L2162.5,1385.5L2164.0,1385.5L2165.5,1385.5L2167.0,1385.6" fill="none" stroke="#2e3f85" stroke-width="14" stroke-linejoin="round"/>
<path d="M310.0,1271.7L311.5,1271.6L313.0,1271.3L314.5,1270.9L316.0,1270.4L317.5,1269.8L319.0,1269.1L320.5,1268.4L322.0,1267.5L323.5,1266.6L325.0,1265.6L326.5,1264.5L328.0,1263.4L329.5,1262.2L331.0,1261.0L332.5,1259.8L334.0,1258.5L335.5,1257.2L337.0,1255.9L338.5,1254.6L340.0,1253.3L341.5,1251.9L343.0,1250.6L344.5,1249.3L346.0,1248.0L347.5,1246.7L349.0,1245.4L350.5,1244.1L352.0,1242.8L353.5,1241.6L355.0,1240.4L356.5,1239.2L358.0,1238.2L359.5,1237.3L361.0,1236.5L362.5,1235.8L364.0,1235.3L365.5,1235.0L367.0,1234.9L368.5,1235.0L370.0,1235.3L371.5,1235.8L373.0,1236.5L374.5,1237.5L376.0,1238.8L377.5,1240.4L379.0,1242.2L380.5,1244.5L382.0,1247.2L383.5,1250.3L385.0,1253.7L386.5,1257.2L388.0,1260.6L389.5,1263.8L391.0,1266.8L392.5,1269.6L394.0,1272.2L395.5,1274.6L397.0,1276.9L398.5,1279.0L400.0,1281.1L401.5,1283.2L403.0,1285.3L404.5,1287.3L406.0,1289.1L407.5,1290.6L409.0,1291.9L410.5,1293.1L412.0,1294.1L413.5,1294.9L415.0,1295.7L416.5,1296.4L418.0,1297.1L419.5,1297.6L421.0,1298.1L422.5,1298.5L424.0,1298.9L425.5,1299.2L427.0,1299.4L428.5,1299.6L430.0,1299.8L431.5,1299.9L433.0,1300.0L434.5,1300.0L436.0,1300.1L437.5,1300.0L439.0,1300.0L440.5,1299.9L442.0,1299.9L443.5,1299.8L445.0,1299.7L446.5,1299.5L448.0,1299.4L449.5,1299.2L451.0,1299.1L452.5,1298.9L454.0,1298.8L455.5,1298.6L457.0,1298.5L458.5,1298.3L460.0,1298.1L461.5,1298.0L463.0,1297.9L464.5,1297.7L466.0,1297.6L467.5,1297.5L469.0,1297.4L470.5,1297.3L472.0,1297.2L473.5,1297.1L475.0,1297.1L476.5,1297.0L478.0,1297.0L479.5,1296.9L481.0,1296.9L482.5,1296.8L484.0,1296.8L485.5,1296.8L487.0,1296.7L488.5,1296.7L490.0,1296.7L491.5,1296.7L493.0,1296.7L494.5,1296.7L496.0,1296.7L497.5,1296.7L499.0,1296.7L500.5,1296.7L502.0,1296.7L503.5,1296.7L505.0,1296.7L506.5,1296.7L508.0,1296.7L509.5,1296.7L511.0,1296.8L512.5,1296.8L514.0,1296.8L515.5,1296.8L517.0,1296.8L518.5,1296.8L520.0,1296.8L521.5,1296.7L523.0,1296.7L524.5,1296.7L526.0,1296.7L527.5,1296.6L529.0,1296.6L530.5,1296.6L532.0,1296.5L533.5,1296.4L535.0,1296.4L536.5,1296.3L538.0,1296.2L539.5,1296.2L541.0,1296.1L542.5,1296.0L544.0,1295.9L545.5,1295.8L547.0,1295.7L548.5,1295.6L550.0,1295.5L551.5,1295.4L553.0,1295.2L554.5,1295.1L556.0,1295.0L557.5,1294.8L559.0,1294.7L560.5,1294.5L562.0,1294.4L563.5,1294.2L565.0,1294.1L566.5,1293.9L568.0,1293.7L569.5,1293.6L571.0,1293.4L572.5,1293.2L574.0,1293.0L575.5,1292.8L577.0,1292.6L578.5,1292.3L580.0,1292.1L581.5,1291.8L583.0,1291.5L584.5,1291.2L586.0,1290.9L587.5,1290.6L589.0,1290.2L590.5,1289.9L592.0,1289.4L593.5,1289.0L595.0,1288.6L596.5,1288.1L598.0,1287.5L599.5,1287.0L601.0,1286.4L602.5,1285.8L604.0,1285.1L605.5,1284.4L607.0,1283.7L608.5,1282.9L610.0,1282.1L611.5,1281.2L613.0,1280.3L614.5,1279.4L616.0,1278.4L617.5,1277.4L619.0,1276.4L620.5,1275.3L622.0,1274.2L623.5,1273.1L625.0,1271.9L626.5,1270.7L628.0,1269.4L629.5,1268.1L631.0,1266.8L632.5,1265.4L634.0,1264.0L635.5,1262.6L637.0,1261.1L638.5,1259.6L640.0,1258.0L641.5,1256.4L643.0,1254.8L644.5,1253.1L646.0,1251.4L647.5,1249.6L649.0,1247.8L650.5,1245.9L652.0,1244.0L653.5,1242.0L655.0,1240.0L656.5,1238.0L658.0,1235.9L659.5,1233.7L661.0,1231.5L662.5,1229.3L664.0,1227.0L665.5,1224.6L667.0,1222.2L668.5,1219.8L670.0,1217.3L671.5,1214.7L673.0,1212.1L674.5,1209.5L676.0,1206.8L677.5,1204.1L679.0,1201.3L680.5,1198.4L682.0,1195.6L683.5,1192.7L685.0,1189.7L686.5,1186.8L688.0,1183.8L689.5,1180.7L691.0,1177.6L692.5,1174.5L694.0,1171.4L695.5,1168.2L697.0,1165.0L698.5,1161.8L700.0,1158.5L701.5,1155.2L703.0,1151.9L704.5,1148.6L706.0,1145.2L707.5,1141.8L709.0,1138.4L710.5,1134.9L712.0,1131.5L713.5,1128.0L715.0,1124.5L716.5,1121.0L718.0,1117.5L719.5,1113.9L721.0,1110.4L722.5,1106.8L724.0,1103.3L725.5,1099.7L727.0,1096.1L728.5,1092.6L730.0,1089.0L731.5,1085.4L733.0,1081.8L734.5,1078.3L736.0,1074.7L737.5,1071.2L739.0,1067.7L740.5,1064.2L742.0,1060.6L743.5,1057.2L745.0,1053.7L746.5,1050.2L748.0,1046.8L749.5,1043.3L751.0,1039.9L752.5,1036.4L754.0,1033.0L755.5,1029.6L757.0,1026.2L758.5,1022.8L760.0,1019.4L761.5,1016.0L763.0,1012.6L764.5,1009.2L766.0,1005.9L767.5,1002.5L769.0,999.1L770.5,995.8L772.0,992.4L773.5,989.0L775.0,985.7L776.5,982.3L778.0,979.0L779.5,975.6L781.0,972.2L782.5,968.9L784.0,965.5L785.5,962.2L787.0,958.8L788.5,955.4L790.0,952.0L791.5,948.7L793.0,945.3L794.5,941.9L796.0,938.5L797.5,935.1L799.0,931.7L800.5,928.3L802.0,924.9L803.5,921.5L805.0,918.1L806.5,914.6L808.0,911.2L809.5,907.8L811.0,904.3L812.5,900.8L814.0,897.4L815.5,893.9L817.0,890.4L818.5,887.0L820.0,883.5L821.5,880.0L823.0,876.5L824.5,873.0L826.0,869.4L827.5,865.9L829.0,862.4L830.5,858.8L832.0,855.3L833.5,851.7L835.0,848.2L836.5,844.7L838.0,841.4L839.5,838.1L841.0,835.0L842.5,832.0L844.0,829.1L845.5,826.3L847.0,823.7L848.5,821.3L850.0,819.0L851.5,816.8L853.0,814.7L854.5,812.7L856.0,810.8L857.5,809.1L859.0,807.4L860.5,805.8L862.0,804.3L863.5,802.9L865.0,801.7L866.5,800.5L868.0,799.4L869.5,798.4L871.0,797.4L872.5,796.5L874.0,795.7L875.5,794.9L877.0,794.2L878.5,793.5L880.0,792.9L881.5,792.3L883.0,791.7L884.5,791.2L886.0,790.8L887.5,790.3L889.0,790.0L890.5,789.7L892.0,789.4L893.5,789.2L895.0,789.1L896.5,789.0L898.0,789.0L899.5,789.1L901.0,789.3L902.5,789.5L904.0,789.9L905.5,790.4L907.0,790.9L908.5,791.6L910.0,792.4L911.5,793.3L913.0,794.2L914.5,795.3L916.0,796.5L917.5,797.7L919.0,799.0L920.5,800.3L922.0,801.7L923.5,803.2L925.0,804.6L926.5,806.1L928.0,807.6L929.5,809.0L931.0,810.4L932.5,811.8L934.0,813.2L935.5,814.6L937.0,816.0L938.5,817.3L940.0,818.7L941.5,820.2L943.0,821.6L944.5,823.2L946.0,824.8L947.5,826.4L949.0,828.2L950.5,830.0L952.0,831.9L953.5,833.9L955.0,836.0L956.5,838.2L958.0,840.4L959.5,842.8L961.0,845.2L962.5,847.8L964.0,850.5L965.5,853.2L967.0,856.1L968.5,859.1L970.0,862.1L971.5,865.3L973.0,868.6L974.5,871.9L976.0,875.3L977.5,878.9L979.0,882.5L980.5,886.3L982.0,890.1L983.5,894.1L985.0,898.2L986.5,902.5L988.0,906.8L989.5,911.4L991.0,916.1L992.5,921.1L994.0,926.2L995.5,931.5L997.0,937.1L998.5,942.9L1000.0,949.0L1001.5,955.5L1003.0,962.2L1004.5,969.2L1006.0,976.7L1007.5,984.5L1009.0,992.6L1010.5,1001.2L1012.0,1010.1L1013.5,1019.4L1015.0,1028.8L1016.5,1038.5L1018.0,1048.2L1019.5,1057.8L1021.0,1067.4L1022.5,1076.6L1024.0,1085.6L1025.5,1094.2L1027.0,1102.4L1028.5,1110.3L1030.0,1117.8L1031.5,1125.1L1033.0,1132.1L1034.5,1139.0L1036.0,1145.7L1037.5,1152.3L1039.0,1158.8L1040.5,1165.2L1042.0,1171.4L1043.5,1177.6L1045.0,1183.8L1046.5,1189.8L1048.0,1195.9L1049.5,1201.9L1051.0,1207.8L1052.5,1213.7L1054.0,1219.6L1055.5,1225.4L1057.0,1231.1L1058.5,1236.9L1060.0,1242.6L1061.5,1248.2L1063.0,1253.8L1064.5,1259.4L1066.0,1264.9L1067.5,1270.4L1069.0,1275.7L1070.5,1280.9L1072.0,1285.8L1073.5,1290.3L1075.0,1294.4L1076.5,1298.2L1078.0,1301.6L1079.5,1304.8L1081.0,1307.7L1082.5,1310.4L1084.0,1312.9L1085.5,1315.1L1087.0,1317.3L1088.5,1319.2L1090.0,1321.1L1091.5,1322.7L1093.0,1324.3L1094.5,1325.8L1096.0,1327.1L1097.5,1328.4L1099.0,1329.5L1100.5,1330.6L1102.0,1331.6L1103.5,1332.5L1105.0,1333.3L1106.5,1334.0L1108.0,1334.7L1109.5,1335.3L1111.0,1335.9L1112.5,1336.4L1114.0,1336.9L1115.5,1337.3L1117.0,1337.7L1118.5,1338.0L1120.0,1338.3L1121.5,1338.6L1123.0,1338.8L1124.5,1339.0L1126.0,1339.2L1127.5,1339.3L1129.0,1339.4L1130.5,1339.5L1132.0,1339.5L1133.5,1339.6L1135.0,1339.6L1136.5,1339.6L1138.0,1339.5L1139.5,1339.4L1141.0,1339.4L1142.5,1339.2L1144.0,1339.1L1145.5,1339.0L1147.0,1338.8L1148.5,1338.6L1150.0,1338.4L1151.5,1338.1L1153.0,1337.9L1154.5,1337.6L1156.0,1337.3L1157.5,1337.0L1159.0,1336.7L1160.5,1336.3L1162.0,1335.9L1163.5,1335.6L1165.0,1335.1L1166.5,1334.7L1168.0,1334.3L1169.5,1333.8L1171.0,1333.3L1172.5,1332.8L1174.0,1332.3L1175.5,1331.8L1177.0,1331.2L1178.5,1330.6L1180.0,1330.1L1181.5,1329.4L1183.0,1328.8L1184.5,1328.2L1186.0,1327.5L1187.5,1326.8L1189.0,1326.2L1190.5,1325.4L1192.0,1324.7L1193.5,1324.0L1195.0,1323.2L1196.5,1322.5L1198.0,1321.7L1199.5,1320.9L1201.0,1320.0L1202.5,1319.2L1204.0,1318.4L1205.5,1317.5L1207.0,1316.6L1208.5,1315.7L1210.0,1314.8L1211.5,1313.9L1213.0,1313.0L1214.5,1312.0L1216.0,1311.1L1217.5,1310.1L1219.0,1309.1L1220.5,1308.1L1222.0,1307.0L1223.5,1306.0L1225.0,1305.0L1226.5,1303.9L1228.0,1302.8L1229.5,1301.7L1231.0,1300.6L1232.5,1299.5L1234.0,1298.3L1235.5,1297.2L1237.0,1296.0L1238.5,1294.9L1240.0,1293.7L1241.5,1292.5L1243.0,1291.2L1244.5,1290.0L1246.0,1288.8L1247.5,1287.5L1249.0,1286.2L1250.5,1285.0L1252.0,1283.7L1253.5,1282.4L1255.0,1281.1L1256.5,1279.7L1258.0,1278.4L1259.5,1277.1L1261.0,1275.8L1262.5,1274.4L1264.0,1273.1L1265.5,1271.7L1267.0,1270.4L1268.5,1269.0L1270.0,1267.6L1271.5,1266.3L1273.0,1264.9L1274.5,1263.5L1276.0,1262.2L1277.5,1260.8L1279.0,1259.4L1280.5,1258.0L1282.0,1256.6L1283.5,1255.2L1285.0,1253.8L1286.5,1252.4L1288.0,1251.0L1289.5,1249.5L1291.0,1248.1L1292.5,1246.7L1294.0,1245.2L1295.5,1243.8L1297.0,1242.3L1298.5,1240.9L1300.0,1239.4L1301.5,1238.0L1303.0,1236.5L1304.5,1235.0L1306.0,1233.5L1307.5,1232.0L1309.0,1230.5L1310.5,1229.0L1312.0,1227.5L1313.5,1226.0L1315.0,1224.4L1316.5,1222.9L1318.0,1221.4L1319.5,1219.8L1321.0,1218.3L1322.5,1216.7L1324.0,1215.1L1325.5,1213.6L1327.0,1212.0L1328.5,1210.4L1330.0,1208.8L1331.5,1207.2L1333.0,1205.6L1334.5,1204.0L1336.0,1202.3L1337.5,1200.7L1339.0,1199.1L1340.5,1197.4L1342.0,1195.8L1343.5,1194.1L1345.0,1192.5L1346.5,1190.8L1348.0,1189.1L1349.5,1187.5L1351.0,1185.8L1352.5,1184.1L1354.0,1182.4L1355.5,1180.7L1357.0,1179.0L1358.5,1177.3L1360.0,1175.6L1361.5,1173.8L1363.0,1172.1L1364.5,1170.4L1366.0,1168.6L1367.5,1166.9L1369.0,1165.1L1370.5,1163.3L1372.0,1161.6L1373.5,1159.8L1375.0,1158.0L1376.5,1156.2L1378.0,1154.4L1379.5,1152.6L1381.0,1150.8L1382.5,1149.0L1384.0,1147.2L1385.5,1145.4L1387.0,1143.6L1388.5,1141.7L1390.0,1139.9L1391.5,1138.0L1393.0,1136.2L1394.5,1134.3L1396.0,1132.5L1397.5,1130.6L1399.0,1128.7L1400.5,1126.8L1402.0,1125.0L1403.5,1123.1L1405.0,1121.2L1406.5,1119.3L1408.0,1117.4L1409.5,1115.5L1411.0,1113.6L1412.5,1111.6L1414.0,1109.7L1415.5,1107.8L1417.0,1105.9L1418.5,1103.9L1420.0,1102.0L1421.5,1100.1L1423.0,1098.1L1424.5,1096.2L1426.0,1094.2L1427.5,1092.3L1429.0,1090.3L1430.5,1088.4L1432.0,1086.4L1433.5,1084.4L1435.0,1082.5L1436.5,1080.5L1438.0,1078.5L1439.5,1076.6L1441.0,1074.6L1442.5,1072.6L1444.0,1070.7L1445.5,1068.7L1447.0,1066.7L1448.5,1064.7L1450.0,1062.8L1451.5,1060.8L1453.0,1058.8L1454.5,1056.8L1456.0,1054.8L1457.5,1052.8L1459.0,1050.8L1460.5,1048.8L1462.0,1046.8L1463.5,1044.8L1465.0,1042.8L1466.5,1040.8L1468.0,1038.8L1469.5,1036.8L1471.0,1034.9L1472.5,1032.9L1474.0,1030.9L1475.5,1028.9L1477.0,1027.0L1478.5,1025.0L1480.0,1023.1L1481.5,1021.2L1483.0,1019.5L1484.5,1017.8L1486.0,1016.2L1487.5,1014.8L1489.0,1013.4L1490.5,1012.2L1492.0,1011.0L1493.5,1009.9L1495.0,1009.0L1496.5,1008.1L1498.0,1007.2L1499.5,1006.5L1501.0,1005.8L1502.5,1005.1L1504.0,1004.6L1505.5,1004.0L1507.0,1003.5L1508.5,1003.1L1510.0,1002.7L1511.5,1002.4L1513.0,1002.1L1514.5,1001.8L1516.0,1001.6L1517.5,1001.4L1519.0,1001.2L1520.5,1001.1L1522.0,1001.1L1523.5,1001.1L1525.0,1001.1L1526.5,1001.2L1528.0,1001.4L1529.5,1001.6L1531.0,1001.9L1532.5,1002.3L1534.0,1002.7L1535.5,1003.2L1537.0,1003.8L1538.5,1004.4L1540.0,1005.1L1541.5,1005.9L1543.0,1006.8L1544.5,1007.7L1546.0,1008.7L1547.5,1009.8L1549.0,1011.0L1550.5,1012.2L1552.0,1013.6L1553.5,1014.9L1555.0,1016.3L1556.5,1017.8L1558.0,1019.3L1559.5,1020.8L1561.0,1022.4L1562.5,1024.0L1564.0,1025.6L1565.5,1027.3L1567.0,1029.1L1568.5,1030.8L1570.0,1032.7L1571.5,1034.5L1573.0,1036.5L1574.5,1038.5L1576.0,1040.6L1577.5,1042.7L1579.0,1044.9L1580.5,1047.3L1582.0,1049.7L1583.5,1052.1L1585.0,1054.7L1586.5,1057.4L1588.0,1060.2L1589.5,1063.1L1591.0,1066.1L1592.5,1069.1L1594.0,1072.2L1595.5,1075.3L1597.0,1078.4L1598.5,1081.5L1600.0,1084.6L1601.5,1087.8L1603.0,1090.9L1604.5,1094.1L1606.0,1097.3L1607.5,1100.5L1609.0,1103.7L1610.5,1106.9L1612.0,1110.1L1613.5,1113.3L1615.0,1116.5L1616.5,1119.7L1618.0,1123.0L1619.5,1126.2L1621.0,1129.4L1622.5,1132.7L1624.0,1135.9L1625.5,1139.1L1627.0,1142.4L1628.5,1145.6L1630.0,1148.8L1631.5,1152.0L1633.0,1155.3L1634.5,1158.5L1636.0,1161.7L1637.5,1164.9L1639.0,1168.1L1640.5,1171.2L1642.0,1174.4L1643.5,1177.6L1645.0,1180.7L1646.5,1183.9L1648.0,1187.0L1649.5,1190.1L1651.0,1193.3L1652.5,1196.3L1654.0,1199.4L1655.5,1202.5L1657.0,1205.6L1658.5,1208.6L1660.0,1211.6L1661.5,1214.6L1663.0,1217.6L1664.5,1220.6L1666.0,1223.5L1667.5,1226.5L1669.0,1229.4L1670.5,1232.3L1672.0,1235.2L1673.5,1238.1L1675.0,1240.9L1676.5,1243.7L1678.0,1246.5L1679.5,1249.2L1681.0,1251.9L1682.5,1254.6L1684.0,1257.2L1685.5,1259.8L1687.0,1262.4L1688.5,1264.9L1690.0,1267.4L1691.5,1269.9L1693.0,1272.3L1694.5,1274.7L1696.0,1277.0L1697.5,1279.3L1699.0,1281.6L1700.5,1283.8L1702.0,1286.0L1703.5,1288.1L1705.0,1290.2L1706.5,1292.3L1708.0,1294.4L1709.5,1296.4L1711.0,1298.4L1712.5,1300.3L1714.0,1302.3L1715.5,1304.2L1717.0,1306.0L1718.5,1307.9L1720.0,1309.7L1721.5,1311.4L1723.0,1313.2L1724.5,1314.9L1726.0,1316.6L1727.5,1318.3L1729.0,1319.9L1730.5,1321.5L1732.0,1323.1L1733.5,1324.6L1735.0,1326.1L1736.5,1327.6L1738.0,1329.1L1739.5,1330.5L1741.0,1331.9L1742.5,1333.3L1744.0,1334.6L1745.5,1335.9L1747.0,1337.2L1748.5,1338.5L1750.0,1339.8L1751.5,1341.0L1753.0,1342.2L1754.5,1343.4L1756.0,1344.5L1757.5,1345.7L1759.0,1346.8L1760.5,1347.9L1762.0,1348.9L1763.5,1350.0L1765.0,1351.0L1766.5,1352.0L1768.0,1353.0L1769.5,1354.0L1771.0,1354.9L1772.5,1355.8L1774.0,1356.7L1775.5,1357.5L1777.0,1358.3L1778.5,1359.1L1780.0,1359.9L1781.5,1360.7L1783.0,1361.4L1784.5,1362.1L1786.0,1362.8L1787.5,1363.5L1789.0,1364.2L1790.5,1364.8L1792.0,1365.4L1793.5,1366.0L1795.0,1366.6L1796.5,1367.1L1798.0,1367.7L1799.5,1368.2L1801.0,1368.7L1802.5,1369.2L1804.0,1369.7L1805.5,1370.2L1807.0,1370.6L1808.5,1371.1L1810.0,1371.5L1811.5,1371.9L1813.0,1372.3L1814.5,1372.7L1816.0,1373.1L1817.5,1373.5L1819.0,1373.9L1820.5,1374.2L1822.0,1374.6L1823.5,1374.9L1825.0,1375.2L1826.5,1375.6L1828.0,1375.9L1829.5,1376.2L1831.0,1376.5L1832.5,1376.7L1834.0,1377.0L1835.5,1377.3L1837.0,1377.5L1838.5,1377.8L1840.0,1378.0L1841.5,1378.3L1843.0,1378.5L1844.5,1378.7L1846.0,1379.0L1847.5,1379.2L1849.0,1379.4L1850.5,1379.6L1852.0,1379.8L1853.5,1379.9L1855.0,1380.1L1856.5,1380.3L1858.0,1380.4L1859.5,1380.6L1861.0,1380.8L1862.5,1380.9L1864.0,1381.0L1865.5,1381.2L1867.0,1381.3L1868.5,1381.4L1870.0,1381.5L1871.5,1381.6L1873.0,1381.8L1874.5,1381.9L1876.0,1382.0L1877.5,1382.0L1879.0,1382.1L1880.5,1382.2L1882.0,1382.3L1883.5,1382.4L1885.0,1382.5L1886.5,1382.5L1888.0,1382.6L1889.5,1382.7L1891.0,1382.7L1892.5,1382.8L1894.0,1382.8L1895.5,1382.9L1897.0,1382.9L1898.5,1383.0L1900.0,1383.0L1901.5,1383.1L1903.0,1383.1L1904.5,1383.1L1906.0,1383.2L1907.5,1383.2L1909.0,1383.2L1910.5,1383.3L1912.0,1383.3L1913.5,1383.3L1915.0,1383.4L1916.5,1383.4L1918.0,1383.4L1919.5,1383.4L1921.0,1383.5L1922.5,1383.5L1924.0,1383.5L1925.5,1383.5L1927.0,1383.5L1928.5,1383.6L1930.0,1383.6L1931.5,1383.6L1933.0,1383.6L1934.5,1383.6L1936.0,1383.7L1937.5,1383.7L1939.0,1383.7L1940.5,1383.7L1942.0,1383.7L1943.5,1383.8L1945.0,1383.8L1946.5,1383.8L1948.0,1383.8L1949.5,1383.8L1951.0,1383.9L1952.5,1383.9L1954.0,1383.9L1955.5,1383.9L1957.0,1383.9L1958.5,1384.0L1960.0,1384.0L1961.5,1384.0L1963.0,1384.0L1964.5,1384.0L1966.0,1384.1L1967.5,1384.1L1969.0,1384.1L1970.5,1384.1L1972.0,1384.1L1973.5,1384.2L1975.0,1384.2L1976.5,1384.2L1978.0,1384.2L1979.5,1384.2L1981.0,1384.3L1982.5,1384.3L1984.0,1384.3L1985.5,1384.3L1987.0,1384.3L1988.5,1384.3L1990.0,1384.4L1991.5,1384.4L1993.0,1384.4L1994.5,1384.4L1996.0,1384.4L1997.5,1384.4L1999.0,1384.5L2000.5,1384.5L2002.0,1384.5L2003.5,1384.5L2005.0,1384.5L2006.5,1384.5L2008.0,1384.6L2009.5,1384.6L2011.0,1384.6L2012.5,1384.6L2014.0,1384.6L2015.5,1384.6L2017.0,1384.6L2018.5,1384.6L2020.0,1384.7L2021.5,1384.7L2023.0,1384.7L2024.5,1384.7L2026.0,1384.7L2027.5,1384.7L2029.0,1384.7L2030.5,1384.7L2032.0,1384.7L2033.5,1384.7L2035.0,1384.7L2036.5,1384.8L2038.0,1384.8L2039.5,1384.8L2041.0,1384.8L2042.5,1384.8L2044.0,1384.8L2045.5,1384.8L2047.0,1384.8L2048.5,1384.8L2050.0,1384.8L2051.5,1384.8L2053.0,1384.8L2054.5,1384.8L2056.0,1384.8L2057.5,1384.8L2059.0,1384.8L2060.5,1384.8L2062.0,1384.8L2063.5,1384.8L2065.0,1384.8L2066.5,1384.8L2068.0,1384.8L2069.5,1384.8L2071.0,1384.8L2072.5,1384.8L2074.0,1384.8L2075.5,1384.8L2077.0,1384.8L2078.5,1384.8L2080.0,1384.8L2081.5,1384.8L2083.0,1384.8L2084.5,1384.7L2086.0,1384.7L2087.5,1384.7L2089.0,1384.7L2090.5,1384.7L2092.0,1384.7L2093.5,1384.7L2095.0,1384.7L2096.5,1384.7L2098.0,1384.7L2099.5,1384.7L2101.0,1384.7L2102.5,1384.7L2104.0,1384.7L2105.5,1384.7L2107.0,1384.7L2108.5,1384.7L2110.0,1384.7L2111.5,1384.7L2113.0,1384.7L2114.5,1384.7L2116.0,1384.7L2117.5,1384.7L2119.0,1384.8L2120.5,1384.8L2122.0,1384.8L2123.5,1384.8L2125.0,1384.8L2126.5,1384.8L2128.0,1384.8L2129.5,1384.8L2131.0,1384.8L2132.5,1384.8L2134.0,1384.9L2135.5,1384.9L2137.0,1384.9L2138.5,1384.9L2140.0,1384.9L2141.5,1384.9L2143.0,1385.0L2144.5,1385.0L2146.0,1385.0L2147.5,1385.0L2149.0,1385.1L2150.5,1385.1L2152.0,1385.1L2153.5,1385.1L2155.0,1385.2L2156.5,1385.2L2158.0,1385.2L2159.5,1385.3L2161.0,1385.3L2162.5,1385.3L2164.0,1385.4L2165.5,1385.4L2167.0,1385.5" fill="none" stroke="#fe4524" stroke-width="14" stroke-linejoin="round"/>
<path d="M310.0,1259.7L311.5,1258.7L313.0,1257.7L314.5,1256.5L316.0,1255.4L317.5,1254.1L319.0,1252.9L320.5,1251.6L322.0,1250.2L323.5,1248.9L325.0,1247.6L326.5,1246.3L328.0,1245.0L329.5,1243.8L331.0,1242.6L332.5,1241.4L334.0,1240.3L335.5,1239.3L337.0,1238.3L338.5,1237.3L340.0,1236.4L341.5,1235.5L343.0,1234.6L344.5,1233.7L346.0,1232.8L347.5,1232.0L349.0,1231.1L350.5,1230.2L352.0,1229.3L353.5,1228.4L355.0,1227.4L356.5,1226.5L358.0,1225.7L359.5,1224.9L361.0,1224.2L362.5,1223.6L364.0,1223.1L365.5,1222.7L367.0,1222.5L368.5,1222.4L370.0,1222.6L371.5,1222.8L373.0,1223.3L374.5,1224.0L376.0,1225.0L377.5,1226.2L379.0,1227.9L380.5,1230.1L382.0,1232.8L383.5,1236.3L385.0,1240.2L386.5,1244.4L388.0,1248.4L389.5,1252.2L391.0,1255.6L392.5,1258.9L394.0,1262.0L395.5,1264.9L397.0,1267.6L398.5,1270.3L400.0,1273.1L401.5,1275.9L403.0,1278.9L404.5,1281.7L406.0,1284.2L407.5,1286.3L409.0,1288.1L410.5,1289.7L412.0,1291.0L413.5,1292.2L415.0,1293.2L416.5,1294.2L418.0,1295.0L419.5,1295.7L421.0,1296.4L422.5,1296.9L424.0,1297.4L425.5,1297.8L427.0,1298.2L428.5,1298.4L430.0,1298.6L431.5,1298.8L433.0,1298.9L434.5,1299.0L436.0,1299.0L437.5,1299.0L439.0,1298.9L440.5,1298.9L442.0,1298.8L443.5,1298.7L445.0,1298.6L446.5,1298.4L448.0,1298.3L449.5,1298.1L451.0,1298.0L452.5,1297.8L454.0,1297.6L455.5,1297.4L457.0,1297.2L458.5,1297.0L460.0,1296.9L461.5,1296.7L463.0,1296.5L464.5,1296.3L466.0,1296.2L467.5,1296.0L469.0,1295.9L470.5,1295.7L472.0,1295.6L473.5,1295.5L475.0,1295.3L476.5,1295.2L478.0,1295.1L479.5,1295.0L481.0,1294.9L482.5,1294.8L484.0,1294.7L485.5,1294.6L487.0,1294.5L488.5,1294.4L490.0,1294.4L491.5,1294.3L493.0,1294.2L494.5,1294.1L496.0,1294.1L497.5,1294.0L499.0,1293.9L500.5,1293.9L502.0,1293.8L503.5,1293.8L505.0,1293.7L506.5,1293.7L508.0,1293.6L509.5,1293.6L511.0,1293.5L512.5,1293.5L514.0,1293.5L515.5,1293.4L517.0,1293.4L518.5,1293.3L520.0,1293.3L521.5,1293.2L523.0,1293.2L524.5,1293.1L526.0,1293.1L527.5,1293.0L529.0,1293.0L530.5,1292.9L532.0,1292.9L533.5,1292.8L535.0,1292.7L536.5,1292.7L538.0,1292.6L539.5,1292.5L541.0,1292.5L542.5,1292.4L544.0,1292.3L545.5,1292.2L547.0,1292.2L548.5,1292.1L550.0,1292.0L551.5,1292.0L553.0,1291.9L554.5,1291.8L556.0,1291.7L557.5,1291.7L559.0,1291.6L560.5,1291.5L562.0,1291.4L563.5,1291.4L565.0,1291.3L566.5,1291.2L568.0,1291.2L569.5,1291.1L571.0,1291.0L572.5,1290.9L574.0,1290.9L575.5,1290.8L577.0,1290.7L578.5,1290.6L580.0,1290.5L581.5,1290.3L583.0,1290.2L584.5,1290.0L586.0,1289.9L587.5,1289.7L589.0,1289.4L590.5,1289.2L592.0,1288.9L593.5,1288.6L595.0,1288.3L596.5,1288.0L598.0,1287.6L599.5,1287.1L601.0,1286.7L602.5,1286.2L604.0,1285.6L605.5,1285.0L607.0,1284.4L608.5,1283.7L610.0,1283.0L611.5,1282.2L613.0,1281.4L614.5,1280.6L616.0,1279.7L617.5,1278.8L619.0,1277.8L620.5,1276.8L622.0,1275.8L623.5,1274.7L625.0,1273.6L626.5,1272.5L628.0,1271.3L629.5,1270.1L631.0,1268.9L632.5,1267.6L634.0,1266.3L635.5,1264.9L637.0,1263.5L638.5,1262.1L640.0,1260.7L641.5,1259.2L643.0,1257.6L644.5,1256.0L646.0,1254.4L647.5,1252.8L649.0,1251.1L650.5,1249.3L652.0,1247.5L653.5,1245.7L655.0,1243.8L656.5,1241.9L658.0,1239.9L659.5,1237.9L661.0,1235.8L662.5,1233.7L664.0,1231.6L665.5,1229.4L667.0,1227.2L668.5,1224.9L670.0,1222.5L671.5,1220.2L673.0,1217.7L674.5,1215.3L676.0,1212.7L677.5,1210.2L679.0,1207.6L680.5,1204.9L682.0,1202.3L683.5,1199.5L685.0,1196.8L686.5,1194.0L688.0,1191.2L689.5,1188.4L691.0,1185.5L692.5,1182.6L694.0,1179.7L695.5,1176.7L697.0,1173.8L698.5,1170.8L700.0,1167.7L701.5,1164.7L703.0,1161.6L704.5,1158.5L706.0,1155.4L707.5,1152.3L709.0,1149.2L710.5,1146.0L712.0,1142.9L713.5,1139.7L715.0,1136.5L716.5,1133.3L718.0,1130.1L719.5,1126.9L721.0,1123.7L722.5,1120.5L724.0,1117.3L725.5,1114.1L727.0,1110.9L728.5,1107.7L730.0,1104.5L731.5,1101.3L733.0,1098.1L734.5,1095.0L736.0,1091.8L737.5,1088.7L739.0,1085.5L740.5,1082.4L742.0,1079.4L743.5,1076.3L745.0,1073.2L746.5,1070.2L748.0,1067.1L749.5,1064.1L751.0,1061.1L752.5,1058.1L754.0,1055.1L755.5,1052.1L757.0,1049.2L758.5,1046.2L760.0,1043.3L761.5,1040.3L763.0,1037.4L764.5,1034.5L766.0,1031.6L767.5,1028.6L769.0,1025.7L770.5,1022.9L772.0,1020.0L773.5,1017.1L775.0,1014.2L776.5,1011.3L778.0,1008.5L779.5,1005.6L781.0,1002.7L782.5,999.9L784.0,997.0L785.5,994.2L787.0,991.3L788.5,988.4L790.0,985.6L791.5,982.7L793.0,979.9L794.5,977.0L796.0,974.2L797.5,971.3L799.0,968.5L800.5,965.6L802.0,962.8L803.5,959.9L805.0,957.1L806.5,954.2L808.0,951.4L809.5,948.6L811.0,945.7L812.5,942.9L814.0,940.1L815.5,937.2L817.0,934.4L818.5,931.6L820.0,928.8L821.5,926.0L823.0,923.2L824.5,920.4L826.0,917.7L827.5,914.9L829.0,912.1L830.5,909.4L832.0,906.6L833.5,903.9L835.0,901.3L836.5,898.7L838.0,896.2L839.5,893.8L841.0,891.5L842.5,889.4L844.0,887.3L845.5,885.4L847.0,883.7L848.5,882.0L850.0,880.5L851.5,879.1L853.0,877.7L854.5,876.5L856.0,875.3L857.5,874.2L859.0,873.1L860.5,872.2L862.0,871.3L863.5,870.4L865.0,869.7L866.5,869.0L868.0,868.3L869.5,867.7L871.0,867.2L872.5,866.7L874.0,866.2L875.5,865.8L877.0,865.4L878.5,865.0L880.0,864.7L881.5,864.4L883.0,864.1L884.5,863.9L886.0,863.6L887.5,863.5L889.0,863.3L890.5,863.2L892.0,863.1L893.5,863.1L895.0,863.1L896.5,863.2L898.0,863.3L899.5,863.5L901.0,863.7L902.5,864.0L904.0,864.4L905.5,864.9L907.0,865.5L908.5,866.1L910.0,866.9L911.5,867.7L913.0,868.6L914.5,869.5L916.0,870.6L917.5,871.6L919.0,872.8L920.5,874.0L922.0,875.2L923.5,876.4L925.0,877.7L926.5,879.0L928.0,880.2L929.5,881.5L931.0,882.7L932.5,883.9L934.0,885.0L935.5,886.2L937.0,887.3L938.5,888.5L940.0,889.7L941.5,890.9L943.0,892.1L944.5,893.4L946.0,894.7L947.5,896.1L949.0,897.6L950.5,899.1L952.0,900.7L953.5,902.3L955.0,904.1L956.5,905.9L958.0,907.8L959.5,909.7L961.0,911.8L962.5,913.9L964.0,916.2L965.5,918.5L967.0,920.9L968.5,923.4L970.0,925.9L971.5,928.6L973.0,931.3L974.5,934.1L976.0,937.0L977.5,940.0L979.0,943.1L980.5,946.2L982.0,949.5L983.5,952.8L985.0,956.3L986.5,959.9L988.0,963.6L989.5,967.5L991.0,971.5L992.5,975.6L994.0,980.0L995.5,984.5L997.0,989.3L998.5,994.2L1000.0,999.4L1001.5,1004.9L1003.0,1010.6L1004.5,1016.6L1006.0,1022.9L1007.5,1029.6L1009.0,1036.6L1010.5,1043.9L1012.0,1051.5L1013.5,1059.4L1015.0,1067.5L1016.5,1075.7L1018.0,1084.0L1019.5,1092.2L1021.0,1100.4L1022.5,1108.3L1024.0,1115.9L1025.5,1123.2L1027.0,1130.3L1028.5,1137.0L1030.0,1143.4L1031.5,1149.6L1033.0,1155.7L1034.5,1161.5L1036.0,1167.3L1037.5,1172.9L1039.0,1178.4L1040.5,1183.8L1042.0,1189.2L1043.5,1194.5L1045.0,1199.7L1046.5,1204.9L1048.0,1210.0L1049.5,1215.1L1051.0,1220.2L1052.5,1225.2L1054.0,1230.2L1055.5,1235.1L1057.0,1240.1L1058.5,1244.9L1060.0,1249.8L1061.5,1254.7L1063.0,1259.5L1064.5,1264.2L1066.0,1268.9L1067.5,1273.6L1069.0,1278.2L1070.5,1282.7L1072.0,1286.8L1073.5,1290.7L1075.0,1294.2L1076.5,1297.4L1078.0,1300.4L1079.5,1303.1L1081.0,1305.6L1082.5,1307.8L1084.0,1310.0L1085.5,1311.9L1087.0,1313.7L1088.5,1315.4L1090.0,1316.9L1091.5,1318.3L1093.0,1319.7L1094.5,1320.9L1096.0,1322.0L1097.5,1323.1L1099.0,1324.0L1100.5,1324.9L1102.0,1325.7L1103.5,1326.4L1105.0,1327.0L1106.5,1327.6L1108.0,1328.1L1109.5,1328.5L1111.0,1329.0L1112.5,1329.3L1114.0,1329.6L1115.5,1329.9L1117.0,1330.1L1118.5,1330.3L1120.0,1330.5L1121.5,1330.6L1123.0,1330.7L1124.5,1330.8L1126.0,1330.8L1127.5,1330.9L1129.0,1330.8L1130.5,1330.8L1132.0,1330.7L1133.5,1330.6L1135.0,1330.5L1136.5,1330.4L1138.0,1330.2L1139.5,1330.0L1141.0,1329.8L1142.5,1329.6L1144.0,1329.4L1145.5,1329.1L1147.0,1328.8L1148.5,1328.5L1150.0,1328.2L1151.5,1327.8L1153.0,1327.4L1154.5,1327.0L1156.0,1326.6L1157.5,1326.2L1159.0,1325.7L1160.5,1325.2L1162.0,1324.7L1163.5,1324.2L1165.0,1323.7L1166.5,1323.1L1168.0,1322.5L1169.5,1321.9L1171.0,1321.3L1172.5,1320.7L1174.0,1320.0L1175.5,1319.3L1177.0,1318.6L1178.5,1317.9L1180.0,1317.2L1181.5,1316.4L1183.0,1315.6L1184.5,1314.8L1186.0,1314.0L1187.5,1313.1L1189.0,1312.2L1190.5,1311.4L1192.0,1310.5L1193.5,1309.5L1195.0,1308.6L1196.5,1307.6L1198.0,1306.6L1199.5,1305.6L1201.0,1304.6L1202.5,1303.5L1204.0,1302.4L1205.5,1301.3L1207.0,1300.2L1208.5,1299.1L1210.0,1297.9L1211.5,1296.7L1213.0,1295.5L1214.5,1294.3L1216.0,1293.1L1217.5,1291.8L1219.0,1290.5L1220.5,1289.2L1222.0,1287.8L1223.5,1286.5L1225.0,1285.1L1226.5,1283.7L1228.0,1282.3L1229.5,1280.8L1231.0,1279.3L1232.5,1277.8L1234.0,1276.3L1235.5,1274.8L1237.0,1273.2L1238.5,1271.6L1240.0,1270.0L1241.5,1268.3L1243.0,1266.7L1244.5,1265.0L1246.0,1263.3L1247.5,1261.6L1249.0,1259.8L1250.5,1258.1L1252.0,1256.3L1253.5,1254.5L1255.0,1252.7L1256.5,1250.9L1258.0,1249.0L1259.5,1247.2L1261.0,1245.3L1262.5,1243.5L1264.0,1241.6L1265.5,1239.7L1267.0,1237.8L1268.5,1236.0L1270.0,1234.1L1271.5,1232.2L1273.0,1230.3L1274.5,1228.4L1276.0,1226.5L1277.5,1224.6L1279.0,1222.7L1280.5,1220.8L1282.0,1218.8L1283.5,1216.9L1285.0,1215.0L1286.5,1213.1L1288.0,1211.1L1289.5,1209.2L1291.0,1207.3L1292.5,1205.3L1294.0,1203.4L1295.5,1201.4L1297.0,1199.5L1298.5,1197.5L1300.0,1195.5L1301.5,1193.6L1303.0,1191.6L1304.5,1189.6L1306.0,1187.7L1307.5,1185.7L1309.0,1183.7L1310.5,1181.7L1312.0,1179.7L1313.5,1177.7L1315.0,1175.7L1316.5,1173.6L1318.0,1171.6L1319.5,1169.6L1321.0,1167.6L1322.5,1165.5L1324.0,1163.5L1325.5,1161.4L1327.0,1159.3L1328.5,1157.2L1330.0,1155.2L1331.5,1153.1L1333.0,1151.0L1334.5,1148.8L1336.0,1146.7L1337.5,1144.6L1339.0,1142.5L1340.5,1140.3L1342.0,1138.1L1343.5,1136.0L1345.0,1133.8L1346.5,1131.6L1348.0,1129.4L1349.5,1127.2L1351.0,1125.0L1352.5,1122.7L1354.0,1120.5L1355.5,1118.2L1357.0,1116.0L1358.5,1113.7L1360.0,1111.4L1361.5,1109.1L1363.0,1106.8L1364.5,1104.5L1366.0,1102.1L1367.5,1099.8L1369.0,1097.4L1370.5,1095.1L1372.0,1092.7L1373.5,1090.3L1375.0,1087.9L1376.5,1085.5L1378.0,1083.1L1379.5,1080.7L1381.0,1078.3L1382.5,1075.8L1384.0,1073.4L1385.5,1070.9L1387.0,1068.5L1388.5,1066.0L1390.0,1063.5L1391.5,1061.0L1393.0,1058.5L1394.5,1056.0L1396.0,1053.5L1397.5,1051.0L1399.0,1048.5L1400.5,1046.0L1402.0,1043.4L1403.5,1040.9L1405.0,1038.3L1406.5,1035.8L1408.0,1033.2L1409.5,1030.7L1411.0,1028.1L1412.5,1025.5L1414.0,1023.0L1415.5,1020.4L1417.0,1017.8L1418.5,1015.2L1420.0,1012.7L1421.5,1010.1L1423.0,1007.5L1424.5,1004.9L1426.0,1002.3L1427.5,999.7L1429.0,997.2L1430.5,994.6L1432.0,992.0L1433.5,989.4L1435.0,986.8L1436.5,984.2L1438.0,981.7L1439.5,979.1L1441.0,976.5L1442.5,973.9L1444.0,971.3L1445.5,968.7L1447.0,966.2L1448.5,963.6L1450.0,961.0L1451.5,958.4L1453.0,955.8L1454.5,953.2L1456.0,950.6L1457.5,948.0L1459.0,945.4L1460.5,942.9L1462.0,940.3L1463.5,937.7L1465.0,935.1L1466.5,932.5L1468.0,929.9L1469.5,927.3L1471.0,924.7L1472.5,922.1L1474.0,919.5L1475.5,917.0L1477.0,914.4L1478.5,911.9L1480.0,909.5L1481.5,907.2L1483.0,905.0L1484.5,903.0L1486.0,901.1L1487.5,899.4L1489.0,897.8L1490.5,896.3L1492.0,895.0L1493.5,893.7L1495.0,892.6L1496.5,891.5L1498.0,890.5L1499.5,889.6L1501.0,888.8L1502.5,888.1L1504.0,887.4L1505.5,886.8L1507.0,886.2L1508.5,885.7L1510.0,885.3L1511.5,884.8L1513.0,884.5L1514.5,884.2L1516.0,883.9L1517.5,883.7L1519.0,883.5L1520.5,883.4L1522.0,883.4L1523.5,883.4L1525.0,883.6L1526.5,883.8L1528.0,884.1L1529.5,884.4L1531.0,884.9L1532.5,885.5L1534.0,886.1L1535.5,886.8L1537.0,887.7L1538.5,888.6L1540.0,889.6L1541.5,890.7L1543.0,892.0L1544.5,893.3L1546.0,894.7L1547.5,896.3L1549.0,897.9L1550.5,899.7L1552.0,901.5L1553.5,903.3L1555.0,905.3L1556.5,907.2L1558.0,909.2L1559.5,911.3L1561.0,913.4L1562.5,915.5L1564.0,917.7L1565.5,920.0L1567.0,922.4L1568.5,924.8L1570.0,927.2L1571.5,929.8L1573.0,932.4L1574.5,935.2L1576.0,938.0L1577.5,941.0L1579.0,944.0L1580.5,947.2L1582.0,950.5L1583.5,954.0L1585.0,957.6L1586.5,961.3L1588.0,965.2L1589.5,969.1L1591.0,973.2L1592.5,977.2L1594.0,981.3L1595.5,985.4L1597.0,989.6L1598.5,993.7L1600.0,997.8L1601.5,1002.0L1603.0,1006.2L1604.5,1010.3L1606.0,1014.5L1607.5,1018.7L1609.0,1022.9L1610.5,1027.1L1612.0,1031.3L1613.5,1035.5L1615.0,1039.7L1616.5,1043.9L1618.0,1048.1L1619.5,1052.3L1621.0,1056.5L1622.5,1060.7L1624.0,1064.8L1625.5,1069.0L1627.0,1073.2L1628.5,1077.3L1630.0,1081.5L1631.5,1085.6L1633.0,1089.7L1634.5,1093.8L1636.0,1097.9L1637.5,1102.0L1639.0,1106.1L1640.5,1110.1L1642.0,1114.2L1643.5,1118.2L1645.0,1122.2L1646.5,1126.2L1648.0,1130.2L1649.5,1134.1L1651.0,1138.0L1652.5,1142.0L1654.0,1145.9L1655.5,1149.7L1657.0,1153.6L1658.5,1157.4L1660.0,1161.2L1661.5,1165.0L1663.0,1168.8L1664.5,1172.6L1666.0,1176.3L1667.5,1180.0L1669.0,1183.7L1670.5,1187.4L1672.0,1191.0L1673.5,1194.6L1675.0,1198.2L1676.5,1201.8L1678.0,1205.3L1679.5,1208.7L1681.0,1212.1L1682.5,1215.5L1684.0,1218.8L1685.5,1222.1L1687.0,1225.4L1688.5,1228.5L1690.0,1231.7L1691.5,1234.8L1693.0,1237.9L1694.5,1240.9L1696.0,1243.8L1697.5,1246.7L1699.0,1249.6L1700.5,1252.5L1702.0,1255.2L1703.5,1258.0L1705.0,1260.7L1706.5,1263.4L1708.0,1266.0L1709.5,1268.6L1711.0,1271.2L1712.5,1273.7L1714.0,1276.2L1715.5,1278.6L1717.0,1281.0L1718.5,1283.4L1720.0,1285.8L1721.5,1288.1L1723.0,1290.4L1724.5,1292.6L1726.0,1294.8L1727.5,1297.0L1729.0,1299.2L1730.5,1301.3L1732.0,1303.3L1733.5,1305.4L1735.0,1307.4L1736.5,1309.3L1738.0,1311.2L1739.5,1313.1L1741.0,1315.0L1742.5,1316.8L1744.0,1318.6L1745.5,1320.4L1747.0,1322.1L1748.5,1323.8L1750.0,1325.5L1751.5,1327.1L1753.0,1328.8L1754.5,1330.3L1756.0,1331.9L1757.5,1333.4L1759.0,1335.0L1760.5,1336.4L1762.0,1337.9L1763.5,1339.3L1765.0,1340.7L1766.5,1342.0L1768.0,1343.4L1769.5,1344.6L1771.0,1345.9L1772.5,1347.1L1774.0,1348.3L1775.5,1349.4L1777.0,1350.5L1778.5,1351.6L1780.0,1352.6L1781.5,1353.6L1783.0,1354.6L1784.5,1355.6L1786.0,1356.5L1787.5,1357.4L1789.0,1358.3L1790.5,1359.1L1792.0,1359.9L1793.5,1360.7L1795.0,1361.5L1796.5,1362.2L1798.0,1362.9L1799.5,1363.6L1801.0,1364.3L1802.5,1365.0L1804.0,1365.6L1805.5,1366.2L1807.0,1366.8L1808.5,1367.4L1810.0,1368.0L1811.5,1368.5L1813.0,1369.0L1814.5,1369.5L1816.0,1370.0L1817.5,1370.5L1819.0,1371.0L1820.5,1371.5L1822.0,1371.9L1823.5,1372.3L1825.0,1372.8L1826.5,1373.2L1828.0,1373.6L1829.5,1374.0L1831.0,1374.3L1832.5,1374.7L1834.0,1375.0L1835.5,1375.4L1837.0,1375.7L1838.5,1376.0L1840.0,1376.3L1841.5,1376.6L1843.0,1376.9L1844.5,1377.2L1846.0,1377.5L1847.5,1377.7L1849.0,1378.0L1850.5,1378.2L1852.0,1378.5L1853.5,1378.7L1855.0,1378.9L1856.5,1379.1L1858.0,1379.3L1859.5,1379.5L1861.0,1379.7L1862.5,1379.8L1864.0,1380.0L1865.5,1380.2L1867.0,1380.3L1868.5,1380.5L1870.0,1380.6L1871.5,1380.7L1873.0,1380.9L1874.5,1381.0L1876.0,1381.1L1877.5,1381.2L1879.0,1381.3L1880.5,1381.4L1882.0,1381.5L1883.5,1381.6L1885.0,1381.7L1886.5,1381.7L1888.0,1381.8L1889.5,1381.9L1891.0,1381.9L1892.5,1382.0L1894.0,1382.1L1895.5,1382.1L1897.0,1382.2L1898.5,1382.2L1900.0,1382.3L1901.5,1382.3L1903.0,1382.4L1904.5,1382.4L1906.0,1382.4L1907.5,1382.5L1909.0,1382.5L1910.5,1382.5L1912.0,1382.6L1913.5,1382.6L1915.0,1382.6L1916.5,1382.6L1918.0,1382.7L1919.5,1382.7L1921.0,1382.7L1922.5,1382.7L1924.0,1382.8L1925.5,1382.8L1927.0,1382.8L1928.5,1382.8L1930.0,1382.8L1931.5,1382.9L1933.0,1382.9L1934.5,1382.9L1936.0,1382.9L1937.5,1383.0L1939.0,1383.0L1940.5,1383.0L1942.0,1383.0L1943.5,1383.1L1945.0,1383.1L1946.5,1383.1L1948.0,1383.1L1949.5,1383.2L1951.0,1383.2L1952.5,1383.2L1954.0,1383.3L1955.5,1383.3L1957.0,1383.3L1958.5,1383.3L1960.0,1383.4L1961.5,1383.4L1963.0,1383.4L1964.5,1383.4L1966.0,1383.5L1967.5,1383.5L1969.0,1383.5L1970.5,1383.6L1972.0,1383.6L1973.5,1383.6L1975.0,1383.6L1976.5,1383.7L1978.0,1383.7L1979.5,1383.7L1981.0,1383.8L1982.5,1383.8L1984.0,1383.8L1985.5,1383.8L1987.0,1383.9L1988.5,1383.9L1990.0,1383.9L1991.5,1384.0L1993.0,1384.0L1994.5,1384.0L1996.0,1384.0L1997.5,1384.1L1999.0,1384.1L2000.5,1384.1L2002.0,1384.1L2003.5,1384.2L2005.0,1384.2L2006.5,1384.2L2008.0,1384.2L2009.5,1384.3L2011.0,1384.3L2012.5,1384.3L2014.0,1384.3L2015.5,1384.3L2017.0,1384.4L2018.5,1384.4L2020.0,1384.4L2021.5,1384.4L2023.0,1384.4L2024.5,1384.5L2026.0,1384.5L2027.5,1384.5L2029.0,1384.5L2030.5,1384.5L2032.0,1384.5L2033.5,1384.6L2035.0,1384.6L2036.5,1384.6L2038.0,1384.6L2039.5,1384.6L2041.0,1384.6L2042.5,1384.6L2044.0,1384.6L2045.5,1384.6L2047.0,1384.7L2048.5,1384.7L2050.0,1384.7L2051.5,1384.7L2053.0,1384.7L2054.5,1384.7L2056.0,1384.7L2057.5,1384.7L2059.0,1384.7L2060.5,1384.7L2062.0,1384.7L2063.5,1384.7L2065.0,1384.7L2066.5,1384.7L2068.0,1384.7L2069.5,1384.7L2071.0,1384.7L2072.5,1384.7L2074.0,1384.7L2075.5,1384.7L2077.0,1384.7L2078.5,1384.7L2080.0,1384.7L2081.5,1384.7L2083.0,1384.7L2084.5,1384.7L2086.0,1384.7L2087.5,1384.6L2089.0,1384.6L2090.5,1384.6L2092.0,1384.6L2093.5,1384.6L2095.0,1384.6L2096.5,1384.6L2098.0,1384.6L2099.5,1384.6L2101.0,1384.6L2102.5,1384.6L2104.0,1384.6L2105.5,1384.6L2107.0,1384.6L2108.5,1384.6L2110.0,1384.6L2111.5,1384.6L2113.0,1384.6L2114.5,1384.6L2116.0,1384.6L2117.5,1384.6L2119.0,1384.6L2120.5,1384.7L2122.0,1384.7L2123.5,1384.7L2125.0,1384.7L2126.5,1384.7L2128.0,1384.7L2129.5,1384.7L2131.0,1384.7L2132.5,1384.7L2134.0,1384.7L2135.5,1384.8L2137.0,1384.8L2138.5,1384.8L2140.0,1384.8L2141.5,1384.8L2143.0,1384.9L2144.5,1384.9L2146.0,1384.9L2147.5,1384.9L2149.0,1385.0L2150.5,1385.0L2152.0,1385.0L2153.5,1385.0L2155.0,1385.1L2156.5,1385.1L2158.0,1385.1L2159.5,1385.2L2161.0,1385.2L2162.5,1385.3L2164.0,1385.3L2165.5,1385.3L2167.0,1385.4" fill="none" stroke="#55b545" stroke-width="14" stroke-linejoin="round"/>
<path d="M310.0,1246.9L311.5,1245.0L313.0,1243.2L314.5,1241.5L316.0,1239.9L317.5,1238.4L319.0,1237.0L320.5,1235.7L322.0,1234.5L323.5,1233.4L325.0,1232.3L326.5,1231.4L328.0,1230.6L329.5,1229.9L331.0,1229.2L332.5,1228.6L334.0,1228.1L335.5,1227.6L337.0,1227.1L338.5,1226.6L340.0,1226.1L341.5,1225.6L343.0,1225.0L344.5,1224.3L346.0,1223.4L347.5,1222.5L349.0,1221.4L350.5,1220.1L352.0,1218.6L353.5,1216.9L355.0,1215.2L356.5,1213.3L358.0,1211.5L359.5,1209.7L361.0,1207.9L362.5,1206.3L364.0,1204.8L365.5,1203.5L367.0,1202.5L368.5,1201.7L370.0,1201.3L371.5,1201.2L373.0,1201.5L374.5,1202.2L376.0,1203.5L377.5,1205.3L379.0,1207.9L380.5,1211.2L382.0,1215.5L383.5,1220.8L385.0,1226.9L386.5,1233.3L388.0,1239.6L389.5,1245.7L391.0,1251.6L392.5,1257.2L394.0,1262.5L395.5,1267.5L397.0,1272.0L398.5,1276.2L400.0,1279.8L401.5,1283.2L403.0,1286.1L404.5,1288.7L406.0,1290.7L407.5,1292.3L409.0,1293.7L410.5,1294.8L412.0,1295.6L413.5,1296.4L415.0,1297.0L416.5,1297.5L418.0,1297.9L419.5,1298.3L421.0,1298.6L422.5,1298.8L424.0,1299.0L425.5,1299.1L427.0,1299.2L428.5,1299.3L430.0,1299.3L431.5,1299.3L433.0,1299.2L434.5,1299.1L436.0,1299.0L437.5,1298.9L439.0,1298.8L440.5,1298.6L442.0,1298.4L443.5,1298.2L445.0,1298.0L446.5,1297.8L448.0,1297.6L449.5,1297.4L451.0,1297.1L452.5,1296.9L454.0,1296.7L455.5,1296.4L457.0,1296.2L458.5,1295.9L460.0,1295.7L461.5,1295.5L463.0,1295.2L464.5,1295.0L466.0,1294.8L467.5,1294.6L469.0,1294.4L470.5,1294.2L472.0,1294.0L473.5,1293.8L475.0,1293.6L476.5,1293.5L478.0,1293.3L479.5,1293.1L481.0,1293.0L482.5,1292.8L484.0,1292.7L485.5,1292.5L487.0,1292.4L488.5,1292.2L490.0,1292.1L491.5,1292.0L493.0,1291.8L494.5,1291.7L496.0,1291.6L497.5,1291.4L499.0,1291.3L500.5,1291.2L502.0,1291.1L503.5,1291.0L505.0,1290.9L506.5,1290.8L508.0,1290.7L509.5,1290.6L511.0,1290.6L512.5,1290.5L514.0,1290.4L515.5,1290.3L517.0,1290.3L518.5,1290.2L520.0,1290.1L521.5,1290.1L523.0,1290.0L524.5,1289.9L526.0,1289.8L527.5,1289.8L529.0,1289.7L530.5,1289.6L532.0,1289.6L533.5,1289.5L535.0,1289.5L536.5,1289.4L538.0,1289.3L539.5,1289.3L541.0,1289.2L542.5,1289.2L544.0,1289.1L545.5,1289.1L547.0,1289.0L548.5,1289.0L550.0,1289.0L551.5,1288.9L553.0,1288.9L554.5,1288.9L556.0,1288.8L557.5,1288.8L559.0,1288.8L560.5,1288.8L562.0,1288.8L563.5,1288.8L565.0,1288.8L566.5,1288.8L568.0,1288.9L569.5,1288.9L571.0,1288.9L572.5,1288.9L574.0,1289.0L575.5,1289.0L577.0,1289.0L578.5,1289.0L580.0,1289.0L581.5,1289.0L583.0,1289.0L584.5,1289.0L586.0,1288.9L587.5,1288.9L589.0,1288.8L590.5,1288.6L592.0,1288.5L593.5,1288.3L595.0,1288.1L596.5,1287.9L598.0,1287.6L599.5,1287.3L601.0,1286.9L602.5,1286.5L604.0,1286.0L605.5,1285.6L607.0,1285.0L608.5,1284.4L610.0,1283.8L611.5,1283.1L613.0,1282.4L614.5,1281.6L616.0,1280.8L617.5,1279.9L619.0,1279.0L620.5,1278.1L622.0,1277.2L623.5,1276.2L625.0,1275.1L626.5,1274.1L628.0,1273.0L629.5,1271.9L631.0,1270.7L632.5,1269.6L634.0,1268.3L635.5,1267.1L637.0,1265.8L638.5,1264.5L640.0,1263.1L641.5,1261.7L643.0,1260.3L644.5,1258.8L646.0,1257.3L647.5,1255.7L649.0,1254.1L650.5,1252.5L652.0,1250.8L653.5,1249.1L655.0,1247.3L656.5,1245.5L658.0,1243.7L659.5,1241.8L661.0,1239.9L662.5,1237.9L664.0,1235.9L665.5,1233.8L667.0,1231.7L668.5,1229.6L670.0,1227.4L671.5,1225.1L673.0,1222.8L674.5,1220.5L676.0,1218.1L677.5,1215.7L679.0,1213.3L680.5,1210.8L682.0,1208.2L683.5,1205.7L685.0,1203.1L686.5,1200.5L688.0,1197.8L689.5,1195.2L691.0,1192.5L692.5,1189.8L694.0,1187.0L695.5,1184.3L697.0,1181.5L698.5,1178.7L700.0,1175.9L701.5,1173.0L703.0,1170.2L704.5,1167.3L706.0,1164.4L707.5,1161.6L709.0,1158.7L710.5,1155.8L712.0,1152.9L713.5,1149.9L715.0,1147.0L716.5,1144.1L718.0,1141.2L719.5,1138.3L721.0,1135.3L722.5,1132.4L724.0,1129.5L725.5,1126.6L727.0,1123.7L728.5,1120.8L730.0,1117.9L731.5,1115.0L733.0,1112.1L734.5,1109.2L736.0,1106.3L737.5,1103.5L739.0,1100.7L740.5,1097.9L742.0,1095.1L743.5,1092.3L745.0,1089.5L746.5,1086.8L748.0,1084.1L749.5,1081.3L751.0,1078.6L752.5,1075.9L754.0,1073.3L755.5,1070.6L757.0,1068.0L758.5,1065.3L760.0,1062.7L761.5,1060.1L763.0,1057.5L764.5,1054.9L766.0,1052.3L767.5,1049.7L769.0,1047.2L770.5,1044.6L772.0,1042.1L773.5,1039.5L775.0,1037.0L776.5,1034.5L778.0,1032.0L779.5,1029.5L781.0,1027.0L782.5,1024.5L784.0,1022.0L785.5,1019.5L787.0,1017.0L788.5,1014.6L790.0,1012.1L791.5,1009.6L793.0,1007.2L794.5,1004.8L796.0,1002.3L797.5,999.9L799.0,997.5L800.5,995.1L802.0,992.7L803.5,990.3L805.0,987.9L806.5,985.5L808.0,983.1L809.5,980.8L811.0,978.5L812.5,976.2L814.0,973.9L815.5,971.6L817.0,969.3L818.5,967.1L820.0,964.9L821.5,962.7L823.0,960.5L824.5,958.4L826.0,956.3L827.5,954.2L829.0,952.2L830.5,950.1L832.0,948.1L833.5,946.1L835.0,944.1L836.5,942.2L838.0,940.4L839.5,938.7L841.0,937.0L842.5,935.5L844.0,934.0L845.5,932.7L847.0,931.5L848.5,930.3L850.0,929.3L851.5,928.3L853.0,927.4L854.5,926.5L856.0,925.8L857.5,925.0L859.0,924.3L860.5,923.6L862.0,923.0L863.5,922.4L865.0,921.9L866.5,921.4L868.0,921.0L869.5,920.6L871.0,920.2L872.5,919.9L874.0,919.7L875.5,919.4L877.0,919.2L878.5,919.0L880.0,918.8L881.5,918.6L883.0,918.5L884.5,918.4L886.0,918.3L887.5,918.2L889.0,918.1L890.5,918.1L892.0,918.1L893.5,918.1L895.0,918.2L896.5,918.3L898.0,918.4L899.5,918.6L901.0,918.8L902.5,919.1L904.0,919.4L905.5,919.8L907.0,920.3L908.5,920.8L910.0,921.5L911.5,922.2L913.0,922.9L914.5,923.7L916.0,924.6L917.5,925.6L919.0,926.6L920.5,927.6L922.0,928.7L923.5,929.8L925.0,930.9L926.5,932.1L928.0,933.2L929.5,934.4L931.0,935.5L932.5,936.6L934.0,937.7L935.5,938.7L937.0,939.7L938.5,940.8L940.0,941.8L941.5,942.8L943.0,943.9L944.5,945.0L946.0,946.1L947.5,947.3L949.0,948.5L950.5,949.8L952.0,951.1L953.5,952.5L955.0,954.0L956.5,955.5L958.0,957.1L959.5,958.7L961.0,960.4L962.5,962.2L964.0,964.1L965.5,966.0L967.0,968.0L968.5,970.1L970.0,972.2L971.5,974.5L973.0,976.8L974.5,979.1L976.0,981.6L977.5,984.1L979.0,986.6L980.5,989.3L982.0,992.0L983.5,994.8L985.0,997.7L986.5,1000.6L988.0,1003.7L989.5,1006.9L991.0,1010.2L992.5,1013.7L994.0,1017.2L995.5,1021.0L997.0,1024.8L998.5,1028.9L1000.0,1033.2L1001.5,1037.6L1003.0,1042.3L1004.5,1047.2L1006.0,1052.3L1007.5,1057.8L1009.0,1063.5L1010.5,1069.5L1012.0,1075.8L1013.5,1082.4L1015.0,1089.3L1016.5,1096.4L1018.0,1103.6L1019.5,1110.8L1021.0,1118.0L1022.5,1125.1L1024.0,1132.0L1025.5,1138.7L1027.0,1145.1L1028.5,1151.2L1030.0,1157.0L1031.5,1162.5L1033.0,1167.9L1034.5,1173.1L1036.0,1178.2L1037.5,1183.2L1039.0,1188.0L1040.5,1192.8L1042.0,1197.5L1043.5,1202.1L1045.0,1206.7L1046.5,1211.2L1048.0,1215.7L1049.5,1220.2L1051.0,1224.6L1052.5,1229.0L1054.0,1233.3L1055.5,1237.6L1057.0,1242.0L1058.5,1246.3L1060.0,1250.7L1061.5,1255.1L1063.0,1259.4L1064.5,1263.8L1066.0,1268.2L1067.5,1272.5L1069.0,1276.8L1070.5,1281.0L1072.0,1284.9L1073.5,1288.6L1075.0,1292.1L1076.5,1295.2L1078.0,1298.0L1079.5,1300.6L1081.0,1303.0L1082.5,1305.2L1084.0,1307.2L1085.5,1309.0L1087.0,1310.7L1088.5,1312.2L1090.0,1313.6L1091.5,1314.9L1093.0,1316.1L1094.5,1317.2L1096.0,1318.2L1097.5,1319.1L1099.0,1319.8L1100.5,1320.5L1102.0,1321.1L1103.5,1321.7L1105.0,1322.1L1106.5,1322.5L1108.0,1322.8L1109.5,1323.1L1111.0,1323.4L1112.5,1323.6L1114.0,1323.7L1115.5,1323.8L1117.0,1323.9L1118.5,1323.9L1120.0,1323.9L1121.5,1323.9L1123.0,1323.9L1124.5,1323.8L1126.0,1323.7L1127.5,1323.5L1129.0,1323.4L1130.5,1323.2L1132.0,1323.0L1133.5,1322.8L1135.0,1322.5L1136.5,1322.2L1138.0,1321.9L1139.5,1321.6L1141.0,1321.3L1142.5,1320.9L1144.0,1320.5L1145.5,1320.1L1147.0,1319.6L1148.5,1319.2L1150.0,1318.7L1151.5,1318.2L1153.0,1317.7L1154.5,1317.1L1156.0,1316.6L1157.5,1316.0L1159.0,1315.4L1160.5,1314.7L1162.0,1314.1L1163.5,1313.4L1165.0,1312.7L1166.5,1312.0L1168.0,1311.2L1169.5,1310.5L1171.0,1309.7L1172.5,1308.9L1174.0,1308.0L1175.5,1307.2L1177.0,1306.3L1178.5,1305.4L1180.0,1304.5L1181.5,1303.5L1183.0,1302.6L1184.5,1301.6L1186.0,1300.6L1187.5,1299.6L1189.0,1298.5L1190.5,1297.4L1192.0,1296.3L1193.5,1295.2L1195.0,1294.1L1196.5,1292.9L1198.0,1291.7L1199.5,1290.5L1201.0,1289.3L1202.5,1288.0L1204.0,1286.7L1205.5,1285.4L1207.0,1284.1L1208.5,1282.8L1210.0,1281.4L1211.5,1280.0L1213.0,1278.6L1214.5,1277.1L1216.0,1275.7L1217.5,1274.2L1219.0,1272.7L1220.5,1271.1L1222.0,1269.6L1223.5,1268.0L1225.0,1266.4L1226.5,1264.7L1228.0,1263.1L1229.5,1261.4L1231.0,1259.6L1232.5,1257.9L1234.0,1256.1L1235.5,1254.3L1237.0,1252.5L1238.5,1250.7L1240.0,1248.8L1241.5,1246.9L1243.0,1245.0L1244.5,1243.0L1246.0,1241.0L1247.5,1239.1L1249.0,1237.0L1250.5,1235.0L1252.0,1233.0L1253.5,1230.9L1255.0,1228.8L1256.5,1226.7L1258.0,1224.6L1259.5,1222.4L1261.0,1220.3L1262.5,1218.2L1264.0,1216.0L1265.5,1213.9L1267.0,1211.7L1268.5,1209.5L1270.0,1207.4L1271.5,1205.2L1273.0,1203.0L1274.5,1200.9L1276.0,1198.7L1277.5,1196.5L1279.0,1194.3L1280.5,1192.1L1282.0,1189.9L1283.5,1187.7L1285.0,1185.5L1286.5,1183.3L1288.0,1181.0L1289.5,1178.8L1291.0,1176.6L1292.5,1174.3L1294.0,1172.1L1295.5,1169.8L1297.0,1167.5L1298.5,1165.3L1300.0,1163.0L1301.5,1160.7L1303.0,1158.4L1304.5,1156.1L1306.0,1153.8L1307.5,1151.4L1309.0,1149.1L1310.5,1146.8L1312.0,1144.4L1313.5,1142.0L1315.0,1139.7L1316.5,1137.3L1318.0,1134.9L1319.5,1132.5L1321.0,1130.1L1322.5,1127.6L1324.0,1125.2L1325.5,1122.7L1327.0,1120.2L1328.5,1117.8L1330.0,1115.3L1331.5,1112.8L1333.0,1110.2L1334.5,1107.7L1336.0,1105.2L1337.5,1102.6L1339.0,1100.0L1340.5,1097.5L1342.0,1094.9L1343.5,1092.3L1345.0,1089.6L1346.5,1087.0L1348.0,1084.4L1349.5,1081.7L1351.0,1079.0L1352.5,1076.3L1354.0,1073.6L1355.5,1070.9L1357.0,1068.2L1358.5,1065.5L1360.0,1062.7L1361.5,1060.0L1363.0,1057.2L1364.5,1054.4L1366.0,1051.6L1367.5,1048.8L1369.0,1046.0L1370.5,1043.1L1372.0,1040.3L1373.5,1037.4L1375.0,1034.6L1376.5,1031.7L1378.0,1028.8L1379.5,1025.9L1381.0,1023.0L1382.5,1020.1L1384.0,1017.2L1385.5,1014.2L1387.0,1011.3L1388.5,1008.3L1390.0,1005.3L1391.5,1002.4L1393.0,999.4L1394.5,996.4L1396.0,993.4L1397.5,990.4L1399.0,987.4L1400.5,984.3L1402.0,981.3L1403.5,978.3L1405.0,975.2L1406.5,972.2L1408.0,969.1L1409.5,966.1L1411.0,963.0L1412.5,960.0L1414.0,956.9L1415.5,953.8L1417.0,950.8L1418.5,947.7L1420.0,944.6L1421.5,941.5L1423.0,938.4L1424.5,935.4L1426.0,932.3L1427.5,929.2L1429.0,926.1L1430.5,923.0L1432.0,920.0L1433.5,916.9L1435.0,913.8L1436.5,910.7L1438.0,907.7L1439.5,904.6L1441.0,901.5L1442.5,898.4L1444.0,895.4L1445.5,892.3L1447.0,889.2L1448.5,886.2L1450.0,883.1L1451.5,880.0L1453.0,877.0L1454.5,873.9L1456.0,870.8L1457.5,867.8L1459.0,864.7L1460.5,861.6L1462.0,858.6L1463.5,855.5L1465.0,852.4L1466.5,849.4L1468.0,846.3L1469.5,843.3L1471.0,840.2L1472.5,837.2L1474.0,834.1L1475.5,831.1L1477.0,828.1L1478.5,825.1L1480.0,822.3L1481.5,819.6L1483.0,817.1L1484.5,814.8L1486.0,812.6L1487.5,810.6L1489.0,808.8L1490.5,807.1L1492.0,805.6L1493.5,804.2L1495.0,802.9L1496.5,801.7L1498.0,800.6L1499.5,799.6L1501.0,798.8L1502.5,797.9L1504.0,797.2L1505.5,796.6L1507.0,796.0L1508.5,795.4L1510.0,795.0L1511.5,794.5L1513.0,794.2L1514.5,793.9L1516.0,793.6L1517.5,793.4L1519.0,793.3L1520.5,793.2L1522.0,793.2L1523.5,793.3L1525.0,793.5L1526.5,793.8L1528.0,794.2L1529.5,794.7L1531.0,795.3L1532.5,795.9L1534.0,796.7L1535.5,797.6L1537.0,798.6L1538.5,799.8L1540.0,801.0L1541.5,802.4L1543.0,803.9L1544.5,805.5L1546.0,807.2L1547.5,809.0L1549.0,811.0L1550.5,813.1L1552.0,815.2L1553.5,817.4L1555.0,819.7L1556.5,822.0L1558.0,824.4L1559.5,826.8L1561.0,829.3L1562.5,831.8L1564.0,834.4L1565.5,837.1L1567.0,839.8L1568.5,842.6L1570.0,845.5L1571.5,848.5L1573.0,851.6L1574.5,854.8L1576.0,858.1L1577.5,861.6L1579.0,865.2L1580.5,868.9L1582.0,872.8L1583.5,876.9L1585.0,881.1L1586.5,885.5L1588.0,890.0L1589.5,894.7L1591.0,899.4L1592.5,904.2L1594.0,909.0L1595.5,913.8L1597.0,918.7L1598.5,923.5L1600.0,928.4L1601.5,933.3L1603.0,938.2L1604.5,943.1L1606.0,948.0L1607.5,952.9L1609.0,957.8L1610.5,962.7L1612.0,967.7L1613.5,972.6L1615.0,977.5L1616.5,982.5L1618.0,987.4L1619.5,992.3L1621.0,997.2L1622.5,1002.2L1624.0,1007.1L1625.5,1012.0L1627.0,1016.9L1628.5,1021.7L1630.0,1026.6L1631.5,1031.5L1633.0,1036.3L1634.5,1041.1L1636.0,1046.0L1637.5,1050.8L1639.0,1055.5L1640.5,1060.3L1642.0,1065.0L1643.5,1069.8L1645.0,1074.5L1646.5,1079.2L1648.0,1083.8L1649.5,1088.5L1651.0,1093.1L1652.5,1097.7L1654.0,1102.3L1655.5,1106.8L1657.0,1111.3L1658.5,1115.8L1660.0,1120.3L1661.5,1124.8L1663.0,1129.2L1664.5,1133.6L1666.0,1138.0L1667.5,1142.4L1669.0,1146.7L1670.5,1151.0L1672.0,1155.3L1673.5,1159.5L1675.0,1163.7L1676.5,1167.8L1678.0,1171.9L1679.5,1176.0L1681.0,1180.0L1682.5,1183.9L1684.0,1187.8L1685.5,1191.7L1687.0,1195.5L1688.5,1199.2L1690.0,1202.9L1691.5,1206.6L1693.0,1210.1L1694.5,1213.7L1696.0,1217.2L1697.5,1220.6L1699.0,1224.0L1700.5,1227.3L1702.0,1230.6L1703.5,1233.8L1705.0,1237.0L1706.5,1240.1L1708.0,1243.2L1709.5,1246.3L1711.0,1249.3L1712.5,1252.3L1714.0,1255.2L1715.5,1258.1L1717.0,1261.0L1718.5,1263.8L1720.0,1266.6L1721.5,1269.4L1723.0,1272.1L1724.5,1274.7L1726.0,1277.4L1727.5,1280.0L1729.0,1282.5L1730.5,1285.0L1732.0,1287.5L1733.5,1289.9L1735.0,1292.3L1736.5,1294.7L1738.0,1297.0L1739.5,1299.2L1741.0,1301.5L1742.5,1303.6L1744.0,1305.8L1745.5,1307.9L1747.0,1310.0L1748.5,1312.0L1750.0,1314.0L1751.5,1316.0L1753.0,1318.0L1754.5,1319.9L1756.0,1321.8L1757.5,1323.6L1759.0,1325.4L1760.5,1327.2L1762.0,1329.0L1763.5,1330.7L1765.0,1332.3L1766.5,1334.0L1768.0,1335.6L1769.5,1337.1L1771.0,1338.6L1772.5,1340.1L1774.0,1341.5L1775.5,1342.8L1777.0,1344.2L1778.5,1345.5L1780.0,1346.7L1781.5,1347.9L1783.0,1349.1L1784.5,1350.3L1786.0,1351.4L1787.5,1352.4L1789.0,1353.5L1790.5,1354.5L1792.0,1355.5L1793.5,1356.4L1795.0,1357.3L1796.5,1358.2L1798.0,1359.1L1799.5,1359.9L1801.0,1360.7L1802.5,1361.5L1804.0,1362.2L1805.5,1363.0L1807.0,1363.7L1808.5,1364.4L1810.0,1365.0L1811.5,1365.7L1813.0,1366.3L1814.5,1366.9L1816.0,1367.5L1817.5,1368.1L1819.0,1368.6L1820.5,1369.2L1822.0,1369.7L1823.5,1370.2L1825.0,1370.7L1826.5,1371.2L1828.0,1371.7L1829.5,1372.1L1831.0,1372.6L1832.5,1373.0L1834.0,1373.4L1835.5,1373.8L1837.0,1374.2L1838.5,1374.5L1840.0,1374.9L1841.5,1375.3L1843.0,1375.6L1844.5,1375.9L1846.0,1376.2L1847.5,1376.5L1849.0,1376.8L1850.5,1377.1L1852.0,1377.4L1853.5,1377.6L1855.0,1377.9L1856.5,1378.1L1858.0,1378.3L1859.5,1378.6L1861.0,1378.8L1862.5,1379.0L1864.0,1379.2L1865.5,1379.3L1867.0,1379.5L1868.5,1379.7L1870.0,1379.8L1871.5,1380.0L1873.0,1380.1L1874.5,1380.3L1876.0,1380.4L1877.5,1380.5L1879.0,1380.6L1880.5,1380.7L1882.0,1380.8L1883.5,1380.9L1885.0,1381.0L1886.5,1381.1L1888.0,1381.2L1889.5,1381.3L1891.0,1381.3L1892.5,1381.4L1894.0,1381.5L1895.5,1381.5L1897.0,1381.6L1898.5,1381.6L1900.0,1381.7L1901.5,1381.7L1903.0,1381.8L1904.5,1381.8L1906.0,1381.8L1907.5,1381.9L1909.0,1381.9L1910.5,1381.9L1912.0,1382.0L1913.5,1382.0L1915.0,1382.0L1916.5,1382.1L1918.0,1382.1L1919.5,1382.1L1921.0,1382.1L1922.5,1382.2L1924.0,1382.2L1925.5,1382.2L1927.0,1382.2L1928.5,1382.2L1930.0,1382.3L1931.5,1382.3L1933.0,1382.3L1934.5,1382.3L1936.0,1382.4L1937.5,1382.4L1939.0,1382.4L1940.5,1382.5L1942.0,1382.5L1943.5,1382.5L1945.0,1382.5L1946.5,1382.6L1948.0,1382.6L1949.5,1382.6L1951.0,1382.7L1952.5,1382.7L1954.0,1382.7L1955.5,1382.8L1957.0,1382.8L1958.5,1382.8L1960.0,1382.9L1961.5,1382.9L1963.0,1382.9L1964.5,1383.0L1966.0,1383.0L1967.5,1383.0L1969.0,1383.1L1970.5,1383.1L1972.0,1383.1L1973.5,1383.2L1975.0,1383.2L1976.5,1383.2L1978.0,1383.3L1979.5,1383.3L1981.0,1383.4L1982.5,1383.4L1984.0,1383.4L1985.5,1383.5L1987.0,1383.5L1988.5,1383.5L1990.0,1383.6L1991.5,1383.6L1993.0,1383.6L1994.5,1383.7L1996.0,1383.7L1997.5,1383.7L1999.0,1383.8L2000.5,1383.8L2002.0,1383.8L2003.5,1383.9L2005.0,1383.9L2006.5,1383.9L2008.0,1384.0L2009.5,1384.0L2011.0,1384.0L2012.5,1384.1L2014.0,1384.1L2015.5,1384.1L2017.0,1384.1L2018.5,1384.2L2020.0,1384.2L2021.5,1384.2L2023.0,1384.2L2024.5,1384.3L2026.0,1384.3L2027.5,1384.3L2029.0,1384.3L2030.5,1384.4L2032.0,1384.4L2033.5,1384.4L2035.0,1384.4L2036.5,1384.4L2038.0,1384.5L2039.5,1384.5L2041.0,1384.5L2042.5,1384.5L2044.0,1384.5L2045.5,1384.5L2047.0,1384.5L2048.5,1384.5L2050.0,1384.6L2051.5,1384.6L2053.0,1384.6L2054.5,1384.6L2056.0,1384.6L2057.5,1384.6L2059.0,1384.6L2060.5,1384.6L2062.0,1384.6L2063.5,1384.6L2065.0,1384.6L2066.5,1384.6L2068.0,1384.6L2069.5,1384.6L2071.0,1384.6L2072.5,1384.6L2074.0,1384.6L2075.5,1384.6L2077.0,1384.6L2078.5,1384.6L2080.0,1384.6L2081.5,1384.6L2083.0,1384.6L2084.5,1384.6L2086.0,1384.6L2087.5,1384.6L2089.0,1384.6L2090.5,1384.6L2092.0,1384.6L2093.5,1384.6L2095.0,1384.6L2096.5,1384.6L2098.0,1384.6L2099.5,1384.6L2101.0,1384.5L2102.5,1384.5L2104.0,1384.5L2105.5,1384.5L2107.0,1384.5L2108.5,1384.5L2110.0,1384.5L2111.5,1384.5L2113.0,1384.5L2114.5,1384.6L2116.0,1384.6L2117.5,1384.6L2119.0,1384.6L2120.5,1384.6L2122.0,1384.6L2123.5,1384.6L2125.0,1384.6L2126.5,1384.6L2128.0,1384.6L2129.5,1384.6L2131.0,1384.6L2132.5,1384.6L2134.0,1384.7L2135.5,1384.7L2137.0,1384.7L2138.5,1384.7L2140.0,1384.7L2141.5,1384.7L2143.0,1384.8L2144.5,1384.8L2146.0,1384.8L2147.5,1384.8L2149.0,1384.9L2150.5,1384.9L2152.0,1384.9L2153.5,1385.0L2155.0,1385.0L2156.5,1385.0L2158.0,1385.1L2159.5,1385.1L2161.0,1385.1L2162.5,1385.2L2164.0,1385.2L2165.5,1385.3L2167.0,1385.3" fill="none" stroke="#8ed4c6" stroke-width="14" stroke-linejoin="round"/>
<path d="M310.0,1205.9L311.5,1205.5L313.0,1204.8L314.5,1203.9L316.0,1202.7L317.5,1201.5L319.0,1200.0L320.5,1198.4L322.0,1196.7L323.5,1195.0L325.0,1193.1L326.5,1191.3L328.0,1189.5L329.5,1187.7L331.0,1186.0L332.5,1184.4L334.0,1182.8L335.5,1181.4L337.0,1180.0L338.5,1178.8L340.0,1177.6L341.5,1176.6L343.0,1175.7L344.5,1174.8L346.0,1174.1L347.5,1173.5L349.0,1173.0L350.5,1172.6L352.0,1172.3L353.5,1172.1L355.0,1172.0L356.5,1172.1L358.0,1172.3L359.5,1172.6L361.0,1172.9L362.5,1173.4L364.0,1174.0L365.5,1174.7L367.0,1175.5L368.5,1176.4L370.0,1177.4L371.5,1178.5L373.0,1179.7L374.5,1181.1L376.0,1182.6L377.5,1184.4L379.0,1186.5L380.5,1189.1L382.0,1192.4L383.5,1196.4L385.0,1200.9L386.5,1205.5L388.0,1209.8L389.5,1213.7L391.0,1217.4L392.5,1221.1L394.0,1224.7L395.5,1228.4L397.0,1232.2L398.5,1236.2L400.0,1240.7L401.5,1246.0L403.0,1251.9L404.5,1257.8L406.0,1263.0L407.5,1267.4L409.0,1271.1L410.5,1274.2L412.0,1276.9L413.5,1279.4L415.0,1281.5L416.5,1283.5L418.0,1285.3L419.5,1286.8L421.0,1288.2L422.5,1289.5L424.0,1290.5L425.5,1291.5L427.0,1292.3L428.5,1292.9L430.0,1293.5L431.5,1293.9L433.0,1294.3L434.5,1294.5L436.0,1294.7L437.5,1294.9L439.0,1295.0L440.5,1295.0L442.0,1295.0L443.5,1294.9L445.0,1294.8L446.5,1294.7L448.0,1294.6L449.5,1294.4L451.0,1294.2L452.5,1293.9L454.0,1293.7L455.5,1293.4L457.0,1293.1L458.5,1292.8L460.0,1292.5L461.5,1292.2L463.0,1291.8L464.5,1291.5L466.0,1291.1L467.5,1290.8L469.0,1290.4L470.5,1290.0L472.0,1289.7L473.5,1289.3L475.0,1288.9L476.5,1288.5L478.0,1288.1L479.5,1287.8L481.0,1287.4L482.5,1287.0L484.0,1286.6L485.5,1286.2L487.0,1285.9L488.5,1285.5L490.0,1285.1L491.5,1284.8L493.0,1284.5L494.5,1284.1L496.0,1283.8L497.5,1283.5L499.0,1283.2L500.5,1283.0L502.0,1282.7L503.5,1282.4L505.0,1282.2L506.5,1282.0L508.0,1281.8L509.5,1281.6L511.0,1281.4L512.5,1281.3L514.0,1281.1L515.5,1281.0L517.0,1280.9L518.5,1280.8L520.0,1280.7L521.5,1280.6L523.0,1280.5L524.5,1280.5L526.0,1280.4L527.5,1280.4L529.0,1280.3L530.5,1280.3L532.0,1280.3L533.5,1280.3L535.0,1280.3L536.5,1280.3L538.0,1280.3L539.5,1280.4L541.0,1280.4L542.5,1280.5L544.0,1280.6L545.5,1280.7L547.0,1280.8L548.5,1280.9L550.0,1281.0L551.5,1281.1L553.0,1281.3L554.5,1281.4L556.0,1281.6L557.5,1281.8L559.0,1282.0L560.5,1282.2L562.0,1282.4L563.5,1282.7L565.0,1282.9L566.5,1283.2L568.0,1283.5L569.5,1283.8L571.0,1284.1L572.5,1284.4L574.0,1284.7L575.5,1285.0L577.0,1285.3L578.5,1285.6L580.0,1285.9L581.5,1286.2L583.0,1286.4L584.5,1286.7L586.0,1286.9L587.5,1287.1L589.0,1287.3L590.5,1287.4L592.0,1287.6L593.5,1287.6L595.0,1287.7L596.5,1287.7L598.0,1287.6L599.5,1287.5L601.0,1287.4L602.5,1287.2L604.0,1286.9L605.5,1286.6L607.0,1286.2L608.5,1285.7L610.0,1285.2L611.5,1284.6L613.0,1284.0L614.5,1283.3L616.0,1282.6L617.5,1281.8L619.0,1281.0L620.5,1280.2L622.0,1279.3L623.5,1278.3L625.0,1277.4L626.5,1276.4L628.0,1275.4L629.5,1274.3L631.0,1273.3L632.5,1272.1L634.0,1271.0L635.5,1269.8L637.0,1268.6L638.5,1267.4L640.0,1266.1L641.5,1264.8L643.0,1263.5L644.5,1262.1L646.0,1260.7L647.5,1259.3L649.0,1257.8L650.5,1256.3L652.0,1254.7L653.5,1253.2L655.0,1251.5L656.5,1249.9L658.0,1248.2L659.5,1246.5L661.0,1244.7L662.5,1242.9L664.0,1241.0L665.5,1239.2L667.0,1237.2L668.5,1235.3L670.0,1233.3L671.5,1231.2L673.0,1229.1L674.5,1227.0L676.0,1224.9L677.5,1222.7L679.0,1220.4L680.5,1218.1L682.0,1215.8L683.5,1213.5L685.0,1211.1L686.5,1208.7L688.0,1206.3L689.5,1203.9L691.0,1201.4L692.5,1198.9L694.0,1196.4L695.5,1193.9L697.0,1191.4L698.5,1188.8L700.0,1186.2L701.5,1183.7L703.0,1181.1L704.5,1178.5L706.0,1175.9L707.5,1173.3L709.0,1170.7L710.5,1168.0L712.0,1165.4L713.5,1162.8L715.0,1160.2L716.5,1157.7L718.0,1155.1L719.5,1152.5L721.0,1149.9L722.5,1147.4L724.0,1144.8L725.5,1142.3L727.0,1139.8L728.5,1137.3L730.0,1134.8L731.5,1132.3L733.0,1129.9L734.5,1127.4L736.0,1125.0L737.5,1122.6L739.0,1120.2L740.5,1117.9L742.0,1115.6L743.5,1113.2L745.0,1111.0L746.5,1108.7L748.0,1106.4L749.5,1104.2L751.0,1102.0L752.5,1099.8L754.0,1097.6L755.5,1095.5L757.0,1093.3L758.5,1091.2L760.0,1089.1L761.5,1087.0L763.0,1085.0L764.5,1082.9L766.0,1080.9L767.5,1078.9L769.0,1076.9L770.5,1074.9L772.0,1072.9L773.5,1071.0L775.0,1069.0L776.5,1067.1L778.0,1065.2L779.5,1063.3L781.0,1061.4L782.5,1059.5L784.0,1057.7L785.5,1055.8L787.0,1054.0L788.5,1052.2L790.0,1050.4L791.5,1048.6L793.0,1046.9L794.5,1045.1L796.0,1043.4L797.5,1041.6L799.0,1039.9L800.5,1038.2L802.0,1036.6L803.5,1034.9L805.0,1033.3L806.5,1031.7L808.0,1030.1L809.5,1028.5L811.0,1027.0L812.5,1025.4L814.0,1024.0L815.5,1022.5L817.0,1021.1L818.5,1019.7L820.0,1018.4L821.5,1017.1L823.0,1015.8L824.5,1014.6L826.0,1013.5L827.5,1012.3L829.0,1011.3L830.5,1010.3L832.0,1009.3L833.5,1008.4L835.0,1007.6L836.5,1006.9L838.0,1006.3L839.5,1005.8L841.0,1005.4L842.5,1005.1L844.0,1005.0L845.5,1005.0L847.0,1005.0L848.5,1005.2L850.0,1005.4L851.5,1005.7L853.0,1006.1L854.5,1006.5L856.0,1006.9L857.5,1007.3L859.0,1007.8L860.5,1008.2L862.0,1008.7L863.5,1009.1L865.0,1009.6L866.5,1010.0L868.0,1010.5L869.5,1010.9L871.0,1011.4L872.5,1011.8L874.0,1012.2L875.5,1012.6L877.0,1013.0L878.5,1013.4L880.0,1013.8L881.5,1014.2L883.0,1014.6L884.5,1015.0L886.0,1015.4L887.5,1015.7L889.0,1016.1L890.5,1016.5L892.0,1016.9L893.5,1017.3L895.0,1017.7L896.5,1018.1L898.0,1018.5L899.5,1019.0L901.0,1019.5L902.5,1020.0L904.0,1020.6L905.5,1021.1L907.0,1021.8L908.5,1022.4L910.0,1023.2L911.5,1023.9L913.0,1024.7L914.5,1025.5L916.0,1026.3L917.5,1027.1L919.0,1028.0L920.5,1028.9L922.0,1029.8L923.5,1030.7L925.0,1031.6L926.5,1032.5L928.0,1033.4L929.5,1034.2L931.0,1035.0L932.5,1035.8L934.0,1036.6L935.5,1037.4L937.0,1038.1L938.5,1038.9L940.0,1039.6L941.5,1040.4L943.0,1041.2L944.5,1042.0L946.0,1042.8L947.5,1043.7L949.0,1044.6L950.5,1045.6L952.0,1046.5L953.5,1047.6L955.0,1048.6L956.5,1049.7L958.0,1050.9L959.5,1052.1L961.0,1053.3L962.5,1054.6L964.0,1056.0L965.5,1057.4L967.0,1058.8L968.5,1060.4L970.0,1061.9L971.5,1063.5L973.0,1065.2L974.5,1066.9L976.0,1068.6L977.5,1070.4L979.0,1072.3L980.5,1074.2L982.0,1076.1L983.5,1078.2L985.0,1080.3L986.5,1082.5L988.0,1084.7L989.5,1087.1L991.0,1089.6L992.5,1092.1L994.0,1094.8L995.5,1097.6L997.0,1100.6L998.5,1103.7L1000.0,1106.9L1001.5,1110.3L1003.0,1113.9L1004.5,1117.7L1006.0,1121.7L1007.5,1125.9L1009.0,1130.4L1010.5,1135.0L1012.0,1139.9L1013.5,1144.9L1015.0,1150.0L1016.5,1155.3L1018.0,1160.5L1019.5,1165.7L1021.0,1170.8L1022.5,1175.8L1024.0,1180.6L1025.5,1185.2L1027.0,1189.6L1028.5,1193.7L1030.0,1197.8L1031.5,1201.7L1033.0,1205.5L1034.5,1209.2L1036.0,1212.8L1037.5,1216.3L1039.0,1219.8L1040.5,1223.3L1042.0,1226.7L1043.5,1230.0L1045.0,1233.4L1046.5,1236.7L1048.0,1240.0L1049.5,1243.2L1051.0,1246.5L1052.5,1249.7L1054.0,1252.9L1055.5,1256.0L1057.0,1259.3L1058.5,1262.7L1060.0,1266.2L1061.5,1269.8L1063.0,1273.5L1064.5,1277.3L1066.0,1281.0L1067.5,1284.9L1069.0,1288.6L1070.5,1292.3L1072.0,1295.7L1073.5,1298.8L1075.0,1301.5L1076.5,1303.9L1078.0,1306.1L1079.5,1307.9L1081.0,1309.6L1082.5,1311.1L1084.0,1312.3L1085.5,1313.4L1087.0,1314.4L1088.5,1315.2L1090.0,1316.0L1091.5,1316.5L1093.0,1317.0L1094.5,1317.4L1096.0,1317.7L1097.5,1317.8L1099.0,1317.9L1100.5,1317.9L1102.0,1317.8L1103.5,1317.6L1105.0,1317.3L1106.5,1317.0L1108.0,1316.7L1109.5,1316.4L1111.0,1316.0L1112.5,1315.6L1114.0,1315.2L1115.5,1314.8L1117.0,1314.4L1118.5,1314.0L1120.0,1313.5L1121.5,1313.0L1123.0,1312.5L1124.5,1312.0L1126.0,1311.5L1127.5,1311.0L1129.0,1310.5L1130.5,1310.0L1132.0,1309.4L1133.5,1308.8L1135.0,1308.2L1136.5,1307.6L1138.0,1307.0L1139.5,1306.4L1141.0,1305.7L1142.5,1305.0L1144.0,1304.3L1145.5,1303.6L1147.0,1302.9L1148.5,1302.1L1150.0,1301.4L1151.5,1300.6L1153.0,1299.8L1154.5,1298.9L1156.0,1298.1L1157.5,1297.2L1159.0,1296.3L1160.5,1295.4L1162.0,1294.4L1163.5,1293.4L1165.0,1292.4L1166.5,1291.4L1168.0,1290.4L1169.5,1289.3L1171.0,1288.2L1172.5,1287.1L1174.0,1286.0L1175.5,1284.8L1177.0,1283.6L1178.5,1282.4L1180.0,1281.2L1181.5,1279.9L1183.0,1278.6L1184.5,1277.3L1186.0,1276.0L1187.5,1274.6L1189.0,1273.2L1190.5,1271.8L1192.0,1270.4L1193.5,1269.0L1195.0,1267.5L1196.5,1266.0L1198.0,1264.5L1199.5,1262.9L1201.0,1261.3L1202.5,1259.7L1204.0,1258.1L1205.5,1256.5L1207.0,1254.8L1208.5,1253.1L1210.0,1251.4L1211.5,1249.6L1213.0,1247.9L1214.5,1246.1L1216.0,1244.3L1217.5,1242.4L1219.0,1240.5L1220.5,1238.6L1222.0,1236.7L1223.5,1234.7L1225.0,1232.8L1226.5,1230.7L1228.0,1228.7L1229.5,1226.6L1231.0,1224.5L1232.5,1222.4L1234.0,1220.2L1235.5,1218.0L1237.0,1215.8L1238.5,1213.5L1240.0,1211.2L1241.5,1208.8L1243.0,1206.5L1244.5,1204.1L1246.0,1201.6L1247.5,1199.2L1249.0,1196.6L1250.5,1194.1L1252.0,1191.5L1253.5,1188.9L1255.0,1186.3L1256.5,1183.6L1258.0,1180.9L1259.5,1178.2L1261.0,1175.4L1262.5,1172.6L1264.0,1169.8L1265.5,1166.9L1267.0,1164.1L1268.5,1161.2L1270.0,1158.3L1271.5,1155.4L1273.0,1152.4L1274.5,1149.5L1276.0,1146.5L1277.5,1143.6L1279.0,1140.6L1280.5,1137.6L1282.0,1134.5L1283.5,1131.5L1285.0,1128.5L1286.5,1125.4L1288.0,1122.3L1289.5,1119.2L1291.0,1116.1L1292.5,1112.9L1294.0,1109.8L1295.5,1106.6L1297.0,1103.4L1298.5,1100.2L1300.0,1097.0L1301.5,1093.7L1303.0,1090.5L1304.5,1087.2L1306.0,1083.9L1307.5,1080.5L1309.0,1077.2L1310.5,1073.8L1312.0,1070.4L1313.5,1067.0L1315.0,1063.6L1316.5,1060.2L1318.0,1056.7L1319.5,1053.2L1321.0,1049.7L1322.5,1046.2L1324.0,1042.7L1325.5,1039.1L1327.0,1035.5L1328.5,1031.9L1330.0,1028.3L1331.5,1024.7L1333.0,1021.0L1334.5,1017.3L1336.0,1013.6L1337.5,1009.9L1339.0,1006.2L1340.5,1002.4L1342.0,998.6L1343.5,994.8L1345.0,991.0L1346.5,987.2L1348.0,983.4L1349.5,979.5L1351.0,975.6L1352.5,971.7L1354.0,967.8L1355.5,963.9L1357.0,959.9L1358.5,955.9L1360.0,952.0L1361.5,948.0L1363.0,943.9L1364.5,939.9L1366.0,935.9L1367.5,931.8L1369.0,927.7L1370.5,923.6L1372.0,919.5L1373.5,915.4L1375.0,911.3L1376.5,907.1L1378.0,903.0L1379.5,898.8L1381.0,894.6L1382.5,890.4L1384.0,886.2L1385.5,882.0L1387.0,877.8L1388.5,873.6L1390.0,869.3L1391.5,865.1L1393.0,860.8L1394.5,856.5L1396.0,852.2L1397.5,847.9L1399.0,843.6L1400.5,839.3L1402.0,835.0L1403.5,830.7L1405.0,826.4L1406.5,822.1L1408.0,817.8L1409.5,813.4L1411.0,809.1L1412.5,804.7L1414.0,800.4L1415.5,796.1L1417.0,791.7L1418.5,787.4L1420.0,783.0L1421.5,778.7L1423.0,774.3L1424.5,770.0L1426.0,765.6L1427.5,761.3L1429.0,756.9L1430.5,752.6L1432.0,748.2L1433.5,743.9L1435.0,739.5L1436.5,735.2L1438.0,730.9L1439.5,726.5L1441.0,722.2L1442.5,717.9L1444.0,713.6L1445.5,709.3L1447.0,705.0L1448.5,700.7L1450.0,696.4L1451.5,692.0L1453.0,687.7L1454.5,683.4L1456.0,679.1L1457.5,674.8L1459.0,670.5L1460.5,666.2L1462.0,661.9L1463.5,657.6L1465.0,653.3L1466.5,649.0L1468.0,644.6L1469.5,640.3L1471.0,636.0L1472.5,631.7L1474.0,627.4L1475.5,623.1L1477.0,618.8L1478.5,614.5L1480.0,610.1L1481.5,605.8L1483.0,601.5L1484.5,597.3L1486.0,593.1L1487.5,589.2L1489.0,585.5L1490.5,582.0L1492.0,578.8L1493.5,575.9L1495.0,573.1L1496.5,570.6L1498.0,568.3L1499.5,566.2L1501.0,564.2L1502.5,562.4L1504.0,560.7L1505.5,559.2L1507.0,557.7L1508.5,556.4L1510.0,555.2L1511.5,554.0L1513.0,553.0L1514.5,552.0L1516.0,551.1L1517.5,550.2L1519.0,549.5L1520.5,548.8L1522.0,548.1L1523.5,547.5L1525.0,547.0L1526.5,546.5L1528.0,546.2L1529.5,546.0L1531.0,545.9L1532.5,545.9L1534.0,546.1L1535.5,546.4L1537.0,546.9L1538.5,547.4L1540.0,548.2L1541.5,549.0L1543.0,550.1L1544.5,551.3L1546.0,552.6L1547.5,554.1L1549.0,555.9L1550.5,557.7L1552.0,559.8L1553.5,562.1L1555.0,564.5L1556.5,567.0L1558.0,569.8L1559.5,572.6L1561.0,575.5L1562.5,578.5L1564.0,581.5L1565.5,584.7L1567.0,587.9L1568.5,591.2L1570.0,594.6L1571.5,598.1L1573.0,601.7L1574.5,605.4L1576.0,609.3L1577.5,613.3L1579.0,617.4L1580.5,621.8L1582.0,626.3L1583.5,631.0L1585.0,635.9L1586.5,641.0L1588.0,646.3L1589.5,652.0L1591.0,657.9L1592.5,664.0L1594.0,670.4L1595.5,677.0L1597.0,683.8L1598.5,690.7L1600.0,697.6L1601.5,704.6L1603.0,711.6L1604.5,718.7L1606.0,725.8L1607.5,732.9L1609.0,740.0L1610.5,747.2L1612.0,754.4L1613.5,761.6L1615.0,768.8L1616.5,776.1L1618.0,783.3L1619.5,790.6L1621.0,797.9L1622.5,805.2L1624.0,812.6L1625.5,819.9L1627.0,827.2L1628.5,834.6L1630.0,841.9L1631.5,849.2L1633.0,856.6L1634.5,863.9L1636.0,871.2L1637.5,878.5L1639.0,885.8L1640.5,893.1L1642.0,900.4L1643.5,907.6L1645.0,914.9L1646.5,922.1L1648.0,929.3L1649.5,936.4L1651.0,943.6L1652.5,950.7L1654.0,957.8L1655.5,964.8L1657.0,971.8L1658.5,978.8L1660.0,985.8L1661.5,992.7L1663.0,999.6L1664.5,1006.4L1666.0,1013.2L1667.5,1019.9L1669.0,1026.6L1670.5,1033.3L1672.0,1039.9L1673.5,1046.5L1675.0,1053.0L1676.5,1059.5L1678.0,1065.9L1679.5,1072.3L1681.0,1078.6L1682.5,1084.8L1684.0,1090.9L1685.5,1096.9L1687.0,1102.9L1688.5,1108.8L1690.0,1114.6L1691.5,1120.3L1693.0,1125.8L1694.5,1131.4L1696.0,1136.8L1697.5,1142.1L1699.0,1147.3L1700.5,1152.5L1702.0,1157.5L1703.5,1162.5L1705.0,1167.4L1706.5,1172.2L1708.0,1176.9L1709.5,1181.5L1711.0,1186.1L1712.5,1190.5L1714.0,1194.9L1715.5,1199.3L1717.0,1203.5L1718.5,1207.7L1720.0,1211.8L1721.5,1215.9L1723.0,1219.9L1724.5,1223.8L1726.0,1227.7L1727.5,1231.5L1729.0,1235.2L1730.5,1238.9L1732.0,1242.5L1733.5,1246.1L1735.0,1249.5L1736.5,1253.0L1738.0,1256.3L1739.5,1259.6L1741.0,1262.8L1742.5,1266.0L1744.0,1269.1L1745.5,1272.2L1747.0,1275.2L1748.5,1278.1L1750.0,1281.0L1751.5,1283.8L1753.0,1286.6L1754.5,1289.3L1756.0,1291.9L1757.5,1294.6L1759.0,1297.1L1760.5,1299.7L1762.0,1302.1L1763.5,1304.6L1765.0,1307.0L1766.5,1309.3L1768.0,1311.6L1769.5,1313.9L1771.0,1316.1L1772.5,1318.2L1774.0,1320.3L1775.5,1322.3L1777.0,1324.3L1778.5,1326.2L1780.0,1328.0L1781.5,1329.8L1783.0,1331.6L1784.5,1333.3L1786.0,1334.9L1787.5,1336.5L1789.0,1338.0L1790.5,1339.5L1792.0,1340.9L1793.5,1342.3L1795.0,1343.7L1796.5,1345.0L1798.0,1346.2L1799.5,1347.5L1801.0,1348.7L1802.5,1349.8L1804.0,1350.9L1805.5,1352.0L1807.0,1353.0L1808.5,1354.0L1810.0,1355.0L1811.5,1355.9L1813.0,1356.9L1814.5,1357.8L1816.0,1358.6L1817.5,1359.4L1819.0,1360.3L1820.5,1361.0L1822.0,1361.8L1823.5,1362.6L1825.0,1363.3L1826.5,1364.0L1828.0,1364.7L1829.5,1365.3L1831.0,1366.0L1832.5,1366.6L1834.0,1367.2L1835.5,1367.8L1837.0,1368.4L1838.5,1368.9L1840.0,1369.5L1841.5,1370.0L1843.0,1370.5L1844.5,1371.0L1846.0,1371.5L1847.5,1371.9L1849.0,1372.4L1850.5,1372.8L1852.0,1373.2L1853.5,1373.6L1855.0,1374.0L1856.5,1374.4L1858.0,1374.7L1859.5,1375.1L1861.0,1375.4L1862.5,1375.7L1864.0,1376.0L1865.5,1376.3L1867.0,1376.6L1868.5,1376.8L1870.0,1377.1L1871.5,1377.3L1873.0,1377.5L1874.5,1377.7L1876.0,1377.9L1877.5,1378.1L1879.0,1378.3L1880.5,1378.5L1882.0,1378.6L1883.5,1378.8L1885.0,1378.9L1886.5,1379.1L1888.0,1379.2L1889.5,1379.3L1891.0,1379.4L1892.5,1379.5L1894.0,1379.6L1895.5,1379.7L1897.0,1379.8L1898.5,1379.9L1900.0,1380.0L1901.5,1380.0L1903.0,1380.1L1904.5,1380.2L1906.0,1380.2L1907.5,1380.3L1909.0,1380.3L1910.5,1380.4L1912.0,1380.4L1913.5,1380.4L1915.0,1380.5L1916.5,1380.5L1918.0,1380.5L1919.5,1380.5L1921.0,1380.6L1922.5,1380.6L1924.0,1380.6L1925.5,1380.6L1927.0,1380.7L1928.5,1380.7L1930.0,1380.7L1931.5,1380.7L1933.0,1380.7L1934.5,1380.8L1936.0,1380.8L1937.5,1380.8L1939.0,1380.8L1940.5,1380.9L1942.0,1380.9L1943.5,1380.9L1945.0,1381.0L1946.5,1381.0L1948.0,1381.0L1949.5,1381.1L1951.0,1381.1L1952.5,1381.1L1954.0,1381.2L1955.5,1381.2L1957.0,1381.3L1958.5,1381.3L1960.0,1381.3L1961.5,1381.4L1963.0,1381.4L1964.5,1381.5L1966.0,1381.5L1967.5,1381.6L1969.0,1381.6L1970.5,1381.7L1972.0,1381.7L1973.5,1381.8L1975.0,1381.8L1976.5,1381.9L1978.0,1381.9L1979.5,1382.0L1981.0,1382.0L1982.5,1382.1L1984.0,1382.1L1985.5,1382.2L1987.0,1382.2L1988.5,1382.3L1990.0,1382.3L1991.5,1382.4L1993.0,1382.4L1994.5,1382.5L1996.0,1382.6L1997.5,1382.6L1999.0,1382.7L2000.5,1382.7L2002.0,1382.8L2003.5,1382.8L2005.0,1382.9L2006.5,1382.9L2008.0,1383.0L2009.5,1383.0L2011.0,1383.1L2012.5,1383.1L2014.0,1383.2L2015.5,1383.2L2017.0,1383.3L2018.5,1383.3L2020.0,1383.4L2021.5,1383.4L2023.0,1383.5L2024.5,1383.5L2026.0,1383.6L2027.5,1383.6L2029.0,1383.6L2030.5,1383.7L2032.0,1383.7L2033.5,1383.8L2035.0,1383.8L2036.5,1383.8L2038.0,1383.9L2039.5,1383.9L2041.0,1384.0L2042.5,1384.0L2044.0,1384.0L2045.5,1384.0L2047.0,1384.1L2048.5,1384.1L2050.0,1384.1L2051.5,1384.2L2053.0,1384.2L2054.5,1384.2L2056.0,1384.2L2057.5,1384.2L2059.0,1384.3L2060.5,1384.3L2062.0,1384.3L2063.5,1384.3L2065.0,1384.3L2066.5,1384.3L2068.0,1384.3L2069.5,1384.3L2071.0,1384.3L2072.5,1384.3L2074.0,1384.4L2075.5,1384.4L2077.0,1384.4L2078.5,1384.4L2080.0,1384.4L2081.5,1384.4L2083.0,1384.4L2084.5,1384.4L2086.0,1384.4L2087.5,1384.4L2089.0,1384.4L2090.5,1384.4L2092.0,1384.4L2093.5,1384.4L2095.0,1384.4L2096.5,1384.4L2098.0,1384.4L2099.5,1384.4L2101.0,1384.4L2102.5,1384.4L2104.0,1384.4L2105.5,1384.4L2107.0,1384.4L2108.5,1384.4L2110.0,1384.4L2111.5,1384.4L2113.0,1384.4L2114.5,1384.4L2116.0,1384.4L2117.5,1384.4L2119.0,1384.4L2120.5,1384.4L2122.0,1384.4L2123.5,1384.4L2125.0,1384.4L2126.5,1384.4L2128.0,1384.4L2129.5,1384.4L2131.0,1384.4L2132.5,1384.4L2134.0,1384.4L2135.5,1384.4L2137.0,1384.5L2138.5,1384.5L2140.0,1384.5L2141.5,1384.5L2143.0,1384.5L2144.5,1384.6L2146.0,1384.6L2147.5,1384.6L2149.0,1384.6L2150.5,1384.7L2152.0,1384.7L2153.5,1384.7L2155.0,1384.7L2156.5,1384.8L2158.0,1384.8L2159.5,1384.9L2161.0,1384.9L2162.5,1384.9L2164.0,1385.0L2165.5,1385.0L2167.0,1385.1" fill="none" stroke="#ab6aa0" stroke-width="14" stroke-linejoin="round"/>
<path d="M310.0,1192.2L311.5,1191.0L313.0,1189.5L314.5,1188.0L316.0,1186.3L317.5,1184.4L319.0,1182.5L320.5,1180.5L322.0,1178.4L323.5,1176.3L325.0,1174.1L326.5,1172.0L328.0,1169.9L329.5,1167.9L331.0,1166.0L332.5,1164.2L334.0,1162.4L335.5,1160.7L337.0,1159.1L338.5,1157.6L340.0,1156.2L341.5,1154.7L343.0,1153.4L344.5,1152.0L346.0,1150.7L347.5,1149.3L349.0,1148.0L350.5,1146.7L352.0,1145.3L353.5,1144.0L355.0,1142.6L356.5,1141.4L358.0,1140.2L359.5,1139.1L361.0,1138.1L362.5,1137.2L364.0,1136.5L365.5,1136.0L367.0,1135.7L368.5,1135.7L370.0,1135.9L371.5,1136.4L373.0,1137.2L374.5,1138.5L376.0,1140.1L377.5,1142.2L379.0,1145.0L380.5,1148.5L382.0,1153.0L383.5,1158.5L385.0,1164.8L386.5,1171.1L388.0,1176.8L389.5,1182.0L391.0,1187.0L392.5,1191.8L394.0,1196.7L395.5,1201.7L397.0,1207.0L398.5,1212.5L400.0,1218.8L401.5,1226.1L403.0,1234.3L404.5,1242.5L406.0,1249.7L407.5,1255.7L409.0,1260.8L410.5,1265.0L412.0,1268.7L413.5,1272.0L415.0,1274.9L416.5,1277.5L418.0,1279.9L419.5,1282.0L421.0,1283.8L422.5,1285.5L424.0,1286.9L425.5,1288.2L427.0,1289.2L428.5,1290.1L430.0,1290.9L431.5,1291.5L433.0,1292.0L434.5,1292.4L436.0,1292.7L437.5,1292.9L439.0,1293.0L440.5,1293.1L442.0,1293.2L443.5,1293.1L445.0,1293.1L446.5,1293.0L448.0,1292.8L449.5,1292.6L451.0,1292.4L452.5,1292.2L454.0,1291.9L455.5,1291.6L457.0,1291.3L458.5,1290.9L460.0,1290.5L461.5,1290.2L463.0,1289.8L464.5,1289.3L466.0,1288.9L467.5,1288.5L469.0,1288.0L470.5,1287.5L472.0,1287.0L473.5,1286.5L475.0,1286.0L476.5,1285.5L478.0,1285.0L479.5,1284.5L481.0,1284.0L482.5,1283.5L484.0,1282.9L485.5,1282.4L487.0,1281.9L488.5,1281.4L490.0,1280.9L491.5,1280.3L493.0,1279.9L494.5,1279.4L496.0,1278.9L497.5,1278.4L499.0,1278.0L500.5,1277.6L502.0,1277.2L503.5,1276.8L505.0,1276.4L506.5,1276.0L508.0,1275.7L509.5,1275.4L511.0,1275.1L512.5,1274.8L514.0,1274.6L515.5,1274.4L517.0,1274.1L518.5,1273.9L520.0,1273.8L521.5,1273.6L523.0,1273.5L524.5,1273.4L526.0,1273.3L527.5,1273.2L529.0,1273.1L530.5,1273.1L532.0,1273.1L533.5,1273.1L535.0,1273.1L536.5,1273.1L538.0,1273.2L539.5,1273.2L541.0,1273.3L542.5,1273.5L544.0,1273.6L545.5,1273.8L547.0,1273.9L548.5,1274.1L550.0,1274.3L551.5,1274.6L553.0,1274.9L554.5,1275.1L556.0,1275.4L557.5,1275.8L559.0,1276.1L560.5,1276.5L562.0,1276.9L563.5,1277.3L565.0,1277.7L566.5,1278.2L568.0,1278.7L569.5,1279.2L571.0,1279.7L572.5,1280.3L574.0,1280.8L575.5,1281.4L577.0,1281.9L578.5,1282.5L580.0,1283.0L581.5,1283.5L583.0,1284.1L584.5,1284.6L586.0,1285.0L587.5,1285.5L589.0,1285.9L590.5,1286.3L592.0,1286.7L593.5,1287.0L595.0,1287.3L596.5,1287.5L598.0,1287.6L599.5,1287.8L601.0,1287.8L602.5,1287.8L604.0,1287.7L605.5,1287.5L607.0,1287.3L608.5,1287.0L610.0,1286.6L611.5,1286.2L613.0,1285.7L614.5,1285.1L616.0,1284.5L617.5,1283.9L619.0,1283.1L620.5,1282.4L622.0,1281.6L623.5,1280.8L625.0,1280.0L626.5,1279.1L628.0,1278.2L629.5,1277.2L631.0,1276.3L632.5,1275.3L634.0,1274.3L635.5,1273.2L637.0,1272.2L638.5,1271.1L640.0,1269.9L641.5,1268.8L643.0,1267.6L644.5,1266.4L646.0,1265.1L647.5,1263.8L649.0,1262.5L650.5,1261.2L652.0,1259.8L653.5,1258.4L655.0,1257.0L656.5,1255.5L658.0,1254.0L659.5,1252.5L661.0,1250.9L662.5,1249.4L664.0,1247.7L665.5,1246.1L667.0,1244.4L668.5,1242.6L670.0,1240.9L671.5,1239.1L673.0,1237.2L674.5,1235.3L676.0,1233.4L677.5,1231.5L679.0,1229.5L680.5,1227.5L682.0,1225.5L683.5,1223.4L685.0,1221.3L686.5,1219.2L688.0,1217.1L689.5,1214.9L691.0,1212.7L692.5,1210.5L694.0,1208.3L695.5,1206.1L697.0,1203.9L698.5,1201.7L700.0,1199.4L701.5,1197.2L703.0,1195.0L704.5,1192.7L706.0,1190.5L707.5,1188.3L709.0,1186.1L710.5,1183.8L712.0,1181.7L713.5,1179.5L715.0,1177.3L716.5,1175.2L718.0,1173.0L719.5,1170.9L721.0,1168.8L722.5,1166.8L724.0,1164.7L725.5,1162.7L727.0,1160.7L728.5,1158.7L730.0,1156.7L731.5,1154.8L733.0,1152.9L734.5,1151.0L736.0,1149.1L737.5,1147.3L739.0,1145.5L740.5,1143.7L742.0,1141.9L743.5,1140.2L745.0,1138.5L746.5,1136.8L748.0,1135.1L749.5,1133.5L751.0,1131.9L752.5,1130.3L754.0,1128.7L755.5,1127.2L757.0,1125.6L758.5,1124.1L760.0,1122.7L761.5,1121.2L763.0,1119.8L764.5,1118.4L766.0,1117.0L767.5,1115.6L769.0,1114.3L770.5,1113.0L772.0,1111.7L773.5,1110.4L775.0,1109.2L776.5,1107.9L778.0,1106.7L779.5,1105.5L781.0,1104.3L782.5,1103.2L784.0,1102.1L785.5,1100.9L787.0,1099.9L788.5,1098.8L790.0,1097.7L791.5,1096.7L793.0,1095.7L794.5,1094.7L796.0,1093.8L797.5,1092.9L799.0,1092.0L800.5,1091.1L802.0,1090.2L803.5,1089.4L805.0,1088.6L806.5,1087.9L808.0,1087.1L809.5,1086.5L811.0,1085.8L812.5,1085.2L814.0,1084.7L815.5,1084.2L817.0,1083.8L818.5,1083.4L820.0,1083.1L821.5,1082.8L823.0,1082.6L824.5,1082.5L826.0,1082.4L827.5,1082.4L829.0,1082.5L830.5,1082.7L832.0,1083.0L833.5,1083.3L835.0,1083.8L836.5,1084.3L838.0,1085.0L839.5,1085.8L841.0,1086.7L842.5,1087.7L844.0,1088.9L845.5,1090.1L847.0,1091.4L848.5,1092.8L850.0,1094.2L851.5,1095.7L853.0,1097.2L854.5,1098.6L856.0,1100.1L857.5,1101.5L859.0,1103.0L860.5,1104.3L862.0,1105.7L863.5,1107.0L865.0,1108.2L866.5,1109.4L868.0,1110.6L869.5,1111.7L871.0,1112.7L872.5,1113.8L874.0,1114.8L875.5,1115.7L877.0,1116.6L878.5,1117.5L880.0,1118.4L881.5,1119.2L883.0,1120.0L884.5,1120.8L886.0,1121.6L887.5,1122.3L889.0,1123.0L890.5,1123.7L892.0,1124.4L893.5,1125.1L895.0,1125.7L896.5,1126.4L898.0,1127.0L899.5,1127.6L901.0,1128.3L902.5,1128.9L904.0,1129.5L905.5,1130.2L907.0,1130.8L908.5,1131.5L910.0,1132.2L911.5,1132.8L913.0,1133.5L914.5,1134.2L916.0,1134.9L917.5,1135.5L919.0,1136.2L920.5,1136.9L922.0,1137.5L923.5,1138.2L925.0,1138.8L926.5,1139.4L928.0,1140.0L929.5,1140.5L931.0,1141.1L932.5,1141.6L934.0,1142.1L935.5,1142.5L937.0,1143.0L938.5,1143.5L940.0,1143.9L941.5,1144.3L943.0,1144.8L944.5,1145.2L946.0,1145.7L947.5,1146.2L949.0,1146.7L950.5,1147.2L952.0,1147.7L953.5,1148.3L955.0,1148.9L956.5,1149.5L958.0,1150.1L959.5,1150.7L961.0,1151.4L962.5,1152.1L964.0,1152.8L965.5,1153.6L967.0,1154.4L968.5,1155.2L970.0,1156.0L971.5,1156.9L973.0,1157.8L974.5,1158.7L976.0,1159.6L977.5,1160.6L979.0,1161.6L980.5,1162.7L982.0,1163.8L983.5,1164.9L985.0,1166.1L986.5,1167.3L988.0,1168.6L989.5,1169.9L991.0,1171.3L992.5,1172.8L994.0,1174.3L995.5,1176.0L997.0,1177.7L998.5,1179.5L1000.0,1181.4L1001.5,1183.4L1003.0,1185.6L1004.5,1187.8L1006.0,1190.2L1007.5,1192.8L1009.0,1195.4L1010.5,1198.2L1012.0,1201.2L1013.5,1204.2L1015.0,1207.3L1016.5,1210.5L1018.0,1213.6L1019.5,1216.7L1021.0,1219.8L1022.5,1222.7L1024.0,1225.6L1025.5,1228.3L1027.0,1230.9L1028.5,1233.4L1030.0,1235.8L1031.5,1238.1L1033.0,1240.3L1034.5,1242.5L1036.0,1244.7L1037.5,1246.8L1039.0,1248.9L1040.5,1251.0L1042.0,1253.0L1043.5,1255.0L1045.0,1257.0L1046.5,1259.0L1048.0,1261.0L1049.5,1262.9L1051.0,1264.9L1052.5,1266.8L1054.0,1268.7L1055.5,1270.6L1057.0,1272.6L1058.5,1274.7L1060.0,1277.0L1061.5,1279.3L1063.0,1281.8L1064.5,1284.3L1066.0,1286.9L1067.5,1289.5L1069.0,1292.1L1070.5,1294.6L1072.0,1296.8L1073.5,1298.8L1075.0,1300.5L1076.5,1302.0L1078.0,1303.3L1079.5,1304.4L1081.0,1305.3L1082.5,1306.0L1084.0,1306.7L1085.5,1307.2L1087.0,1307.6L1088.5,1308.0L1090.0,1308.2L1091.5,1308.4L1093.0,1308.4L1094.5,1308.4L1096.0,1308.3L1097.5,1308.2L1099.0,1307.9L1100.5,1307.6L1102.0,1307.2L1103.5,1306.8L1105.0,1306.3L1106.5,1305.8L1108.0,1305.2L1109.5,1304.7L1111.0,1304.1L1112.5,1303.5L1114.0,1302.9L1115.5,1302.3L1117.0,1301.7L1118.5,1301.1L1120.0,1300.5L1121.5,1299.8L1123.0,1299.2L1124.5,1298.5L1126.0,1297.8L1127.5,1297.2L1129.0,1296.5L1130.5,1295.8L1132.0,1295.0L1133.5,1294.3L1135.0,1293.6L1136.5,1292.8L1138.0,1292.0L1139.5,1291.2L1141.0,1290.4L1142.5,1289.5L1144.0,1288.7L1145.5,1287.8L1147.0,1286.9L1148.5,1286.0L1150.0,1285.0L1151.5,1284.1L1153.0,1283.1L1154.5,1282.1L1156.0,1281.1L1157.5,1280.0L1159.0,1278.9L1160.5,1277.8L1162.0,1276.7L1163.5,1275.5L1165.0,1274.4L1166.5,1273.2L1168.0,1271.9L1169.5,1270.7L1171.0,1269.4L1172.5,1268.1L1174.0,1266.8L1175.5,1265.4L1177.0,1264.0L1178.5,1262.6L1180.0,1261.2L1181.5,1259.7L1183.0,1258.3L1184.5,1256.7L1186.0,1255.2L1187.5,1253.6L1189.0,1252.0L1190.5,1250.4L1192.0,1248.8L1193.5,1247.1L1195.0,1245.4L1196.5,1243.6L1198.0,1241.8L1199.5,1240.0L1201.0,1238.2L1202.5,1236.3L1204.0,1234.5L1205.5,1232.5L1207.0,1230.6L1208.5,1228.6L1210.0,1226.6L1211.5,1224.5L1213.0,1222.4L1214.5,1220.3L1216.0,1218.1L1217.5,1215.9L1219.0,1213.6L1220.5,1211.4L1222.0,1209.0L1223.5,1206.7L1225.0,1204.3L1226.5,1201.8L1228.0,1199.3L1229.5,1196.8L1231.0,1194.2L1232.5,1191.6L1234.0,1188.9L1235.5,1186.1L1237.0,1183.4L1238.5,1180.5L1240.0,1177.7L1241.5,1174.7L1243.0,1171.8L1244.5,1168.7L1246.0,1165.6L1247.5,1162.5L1249.0,1159.3L1250.5,1156.1L1252.0,1152.8L1253.5,1149.5L1255.0,1146.1L1256.5,1142.7L1258.0,1139.2L1259.5,1135.7L1261.0,1132.2L1262.5,1128.6L1264.0,1125.0L1265.5,1121.3L1267.0,1117.7L1268.5,1114.0L1270.0,1110.3L1271.5,1106.5L1273.0,1102.8L1274.5,1099.0L1276.0,1095.2L1277.5,1091.4L1279.0,1087.5L1280.5,1083.6L1282.0,1079.7L1283.5,1075.8L1285.0,1071.9L1286.5,1067.9L1288.0,1063.9L1289.5,1059.9L1291.0,1055.9L1292.5,1051.8L1294.0,1047.7L1295.5,1043.6L1297.0,1039.5L1298.5,1035.3L1300.0,1031.2L1301.5,1027.0L1303.0,1022.7L1304.5,1018.5L1306.0,1014.2L1307.5,1009.9L1309.0,1005.6L1310.5,1001.3L1312.0,996.9L1313.5,992.5L1315.0,988.1L1316.5,983.7L1318.0,979.2L1319.5,974.8L1321.0,970.3L1322.5,965.8L1324.0,961.2L1325.5,956.7L1327.0,952.1L1328.5,947.5L1330.0,942.9L1331.5,938.2L1333.0,933.6L1334.5,928.9L1336.0,924.2L1337.5,919.5L1339.0,914.8L1340.5,910.1L1342.0,905.3L1343.5,900.5L1345.0,895.7L1346.5,890.9L1348.0,886.1L1349.5,881.2L1351.0,876.4L1352.5,871.5L1354.0,866.6L1355.5,861.7L1357.0,856.8L1358.5,851.9L1360.0,847.0L1361.5,842.0L1363.0,837.0L1364.5,832.1L1366.0,827.1L1367.5,822.1L1369.0,817.1L1370.5,812.0L1372.0,807.0L1373.5,801.9L1375.0,796.9L1376.5,791.8L1378.0,786.7L1379.5,781.6L1381.0,776.5L1382.5,771.4L1384.0,766.3L1385.5,761.1L1387.0,756.0L1388.5,750.8L1390.0,745.7L1391.5,740.5L1393.0,735.3L1394.5,730.1L1396.0,724.9L1397.5,719.7L1399.0,714.5L1400.5,709.2L1402.0,704.0L1403.5,698.8L1405.0,693.5L1406.5,688.3L1408.0,683.0L1409.5,677.7L1411.0,672.5L1412.5,667.2L1414.0,661.9L1415.5,656.6L1417.0,651.3L1418.5,646.0L1420.0,640.7L1421.5,635.4L1423.0,630.1L1424.5,624.8L1426.0,619.5L1427.5,614.2L1429.0,608.9L1430.5,603.6L1432.0,598.3L1433.5,593.0L1435.0,587.7L1436.5,582.4L1438.0,577.1L1439.5,571.8L1441.0,566.5L1442.5,561.2L1444.0,555.9L1445.5,550.6L1447.0,545.3L1448.5,540.0L1450.0,534.7L1451.5,529.4L1453.0,524.1L1454.5,518.8L1456.0,513.5L1457.5,508.2L1459.0,502.9L1460.5,497.6L1462.0,492.2L1463.5,486.9L1465.0,481.6L1466.5,476.2L1468.0,470.9L1469.5,465.5L1471.0,460.2L1472.5,454.8L1474.0,449.4L1475.5,444.0L1477.0,438.7L1478.5,433.3L1480.0,427.9L1481.5,422.5L1483.0,417.4L1484.5,412.4L1486.0,407.7L1487.5,403.4L1489.0,399.3L1490.5,395.5L1492.0,392.1L1493.5,388.9L1495.0,385.9L1496.5,383.2L1498.0,380.7L1499.5,378.4L1501.0,376.2L1502.5,374.2L1504.0,372.4L1505.5,370.6L1507.0,369.0L1508.5,367.6L1510.0,366.2L1511.5,364.9L1513.0,363.7L1514.5,362.6L1516.0,361.6L1517.5,360.7L1519.0,359.8L1520.5,359.0L1522.0,358.3L1523.5,357.8L1525.0,357.3L1526.5,357.0L1528.0,356.8L1529.5,356.8L1531.0,357.0L1532.5,357.4L1534.0,357.9L1535.5,358.6L1537.0,359.4L1538.5,360.5L1540.0,361.8L1541.5,363.2L1543.0,364.9L1544.5,366.8L1546.0,368.9L1547.5,371.2L1549.0,373.8L1550.5,376.6L1552.0,379.6L1553.5,382.8L1555.0,386.2L1556.5,389.7L1558.0,393.3L1559.5,397.0L1561.0,400.8L1562.5,404.7L1564.0,408.7L1565.5,412.8L1567.0,417.0L1568.5,421.4L1570.0,425.8L1571.5,430.5L1573.0,435.2L1574.5,440.2L1576.0,445.3L1577.5,450.7L1579.0,456.2L1580.5,462.0L1582.0,468.1L1583.5,474.4L1585.0,481.0L1586.5,487.9L1588.0,495.2L1589.5,502.8L1591.0,510.6L1592.5,518.8L1594.0,527.1L1595.5,535.7L1597.0,544.2L1598.5,552.8L1600.0,561.5L1601.5,570.2L1603.0,578.9L1604.5,587.6L1606.0,596.4L1607.5,605.2L1609.0,614.1L1610.5,622.9L1612.0,631.8L1613.5,640.7L1615.0,649.6L1616.5,658.5L1618.0,667.5L1619.5,676.4L1621.0,685.4L1622.5,694.4L1624.0,703.4L1625.5,712.3L1627.0,721.3L1628.5,730.3L1630.0,739.2L1631.5,748.2L1633.0,757.2L1634.5,766.1L1636.0,775.0L1637.5,783.9L1639.0,792.8L1640.5,801.7L1642.0,810.5L1643.5,819.3L1645.0,828.1L1646.5,836.9L1648.0,845.6L1649.5,854.3L1651.0,862.9L1652.5,871.6L1654.0,880.1L1655.5,888.7L1657.0,897.2L1658.5,905.6L1660.0,914.1L1661.5,922.4L1663.0,930.7L1664.5,939.0L1666.0,947.2L1667.5,955.4L1669.0,963.5L1670.5,971.6L1672.0,979.6L1673.5,987.6L1675.0,995.5L1676.5,1003.3L1678.0,1011.0L1679.5,1018.6L1681.0,1026.2L1682.5,1033.6L1684.0,1040.9L1685.5,1048.2L1687.0,1055.3L1688.5,1062.3L1690.0,1069.2L1691.5,1076.0L1693.0,1082.7L1694.5,1089.2L1696.0,1095.7L1697.5,1102.0L1699.0,1108.2L1700.5,1114.3L1702.0,1120.4L1703.5,1126.3L1705.0,1132.1L1706.5,1137.8L1708.0,1143.4L1709.5,1148.9L1711.0,1154.3L1712.5,1159.6L1714.0,1164.8L1715.5,1170.0L1717.0,1175.0L1718.5,1180.0L1720.0,1184.9L1721.5,1189.7L1723.0,1194.4L1724.5,1199.1L1726.0,1203.6L1727.5,1208.1L1729.0,1212.5L1730.5,1216.9L1732.0,1221.1L1733.5,1225.3L1735.0,1229.3L1736.5,1233.3L1738.0,1237.3L1739.5,1241.1L1741.0,1244.9L1742.5,1248.5L1744.0,1252.2L1745.5,1255.7L1747.0,1259.2L1748.5,1262.6L1750.0,1265.9L1751.5,1269.2L1753.0,1272.4L1754.5,1275.6L1756.0,1278.7L1757.5,1281.7L1759.0,1284.7L1760.5,1287.6L1762.0,1290.5L1763.5,1293.3L1765.0,1296.1L1766.5,1298.8L1768.0,1301.5L1769.5,1304.0L1771.0,1306.5L1772.5,1309.0L1774.0,1311.3L1775.5,1313.6L1777.0,1315.9L1778.5,1318.0L1780.0,1320.1L1781.5,1322.2L1783.0,1324.1L1784.5,1326.0L1786.0,1327.9L1787.5,1329.7L1789.0,1331.4L1790.5,1333.1L1792.0,1334.7L1793.5,1336.3L1795.0,1337.8L1796.5,1339.3L1798.0,1340.7L1799.5,1342.1L1801.0,1343.4L1802.5,1344.7L1804.0,1346.0L1805.5,1347.2L1807.0,1348.4L1808.5,1349.5L1810.0,1350.6L1811.5,1351.7L1813.0,1352.7L1814.5,1353.7L1816.0,1354.7L1817.5,1355.7L1819.0,1356.6L1820.5,1357.5L1822.0,1358.4L1823.5,1359.2L1825.0,1360.1L1826.5,1360.9L1828.0,1361.7L1829.5,1362.4L1831.0,1363.1L1832.5,1363.9L1834.0,1364.6L1835.5,1365.2L1837.0,1365.9L1838.5,1366.5L1840.0,1367.1L1841.5,1367.7L1843.0,1368.3L1844.5,1368.9L1846.0,1369.4L1847.5,1370.0L1849.0,1370.5L1850.5,1370.9L1852.0,1371.4L1853.5,1371.9L1855.0,1372.3L1856.5,1372.7L1858.0,1373.1L1859.5,1373.5L1861.0,1373.9L1862.5,1374.2L1864.0,1374.5L1865.5,1374.9L1867.0,1375.2L1868.5,1375.4L1870.0,1375.7L1871.5,1376.0L1873.0,1376.2L1874.5,1376.4L1876.0,1376.7L1877.5,1376.9L1879.0,1377.1L1880.5,1377.3L1882.0,1377.4L1883.5,1377.6L1885.0,1377.7L1886.5,1377.9L1888.0,1378.0L1889.5,1378.1L1891.0,1378.3L1892.5,1378.4L1894.0,1378.5L1895.5,1378.6L1897.0,1378.6L1898.5,1378.7L1900.0,1378.8L1901.5,1378.9L1903.0,1378.9L1904.5,1379.0L1906.0,1379.0L1907.5,1379.1L1909.0,1379.1L1910.5,1379.2L1912.0,1379.2L1913.5,1379.2L1915.0,1379.3L1916.5,1379.3L1918.0,1379.3L1919.5,1379.4L1921.0,1379.4L1922.5,1379.4L1924.0,1379.4L1925.5,1379.5L1927.0,1379.5L1928.5,1379.5L1930.0,1379.5L1931.5,1379.6L1933.0,1379.6L1934.5,1379.6L1936.0,1379.6L1937.5,1379.7L1939.0,1379.7L1940.5,1379.7L1942.0,1379.8L1943.5,1379.8L1945.0,1379.9L1946.5,1379.9L1948.0,1380.0L1949.5,1380.0L1951.0,1380.1L1952.5,1380.1L1954.0,1380.2L1955.5,1380.2L1957.0,1380.3L1958.5,1380.3L1960.0,1380.4L1961.5,1380.4L1963.0,1380.5L1964.5,1380.5L1966.0,1380.6L1967.5,1380.7L1969.0,1380.7L1970.5,1380.8L1972.0,1380.9L1973.5,1380.9L1975.0,1381.0L1976.5,1381.1L1978.0,1381.1L1979.5,1381.2L1981.0,1381.3L1982.5,1381.3L1984.0,1381.4L1985.5,1381.5L1987.0,1381.5L1988.5,1381.6L1990.0,1381.7L1991.5,1381.7L1993.0,1381.8L1994.5,1381.9L1996.0,1382.0L1997.5,1382.0L1999.0,1382.1L2000.5,1382.2L2002.0,1382.2L2003.5,1382.3L2005.0,1382.4L2006.5,1382.4L2008.0,1382.5L2009.5,1382.6L2011.0,1382.6L2012.5,1382.7L2014.0,1382.8L2015.5,1382.8L2017.0,1382.9L2018.5,1382.9L2020.0,1383.0L2021.5,1383.1L2023.0,1383.1L2024.5,1383.2L2026.0,1383.2L2027.5,1383.3L2029.0,1383.4L2030.5,1383.4L2032.0,1383.5L2033.5,1383.5L2035.0,1383.6L2036.5,1383.6L2038.0,1383.6L2039.5,1383.7L2041.0,1383.7L2042.5,1383.8L2044.0,1383.8L2045.5,1383.9L2047.0,1383.9L2048.5,1383.9L2050.0,1383.9L2051.5,1384.0L2053.0,1384.0L2054.5,1384.0L2056.0,1384.1L2057.5,1384.1L2059.0,1384.1L2060.5,1384.1L2062.0,1384.1L2063.5,1384.1L2065.0,1384.2L2066.5,1384.2L2068.0,1384.2L2069.5,1384.2L2071.0,1384.2L2072.5,1384.2L2074.0,1384.2L2075.5,1384.2L2077.0,1384.2L2078.5,1384.2L2080.0,1384.2L2081.5,1384.2L2083.0,1384.2L2084.5,1384.2L2086.0,1384.2L2087.5,1384.2L2089.0,1384.2L2090.5,1384.2L2092.0,1384.2L2093.5,1384.2L2095.0,1384.2L2096.5,1384.2L2098.0,1384.2L2099.5,1384.2L2101.0,1384.2L2102.5,1384.2L2104.0,1384.2L2105.5,1384.2L2107.0,1384.2L2108.5,1384.2L2110.0,1384.2L2111.5,1384.2L2113.0,1384.2L2114.5,1384.2L2116.0,1384.2L2117.5,1384.2L2119.0,1384.2L2120.5,1384.2L2122.0,1384.2L2123.5,1384.2L2125.0,1384.2L2126.5,1384.2L2128.0,1384.2L2129.5,1384.2L2131.0,1384.2L2132.5,1384.2L2134.0,1384.3L2135.5,1384.3L2137.0,1384.3L2138.5,1384.3L2140.0,1384.3L2141.5,1384.3L2143.0,1384.4L2144.5,1384.4L2146.0,1384.4L2147.5,1384.4L2149.0,1384.5L2150.5,1384.5L2152.0,1384.5L2153.5,1384.6L2155.0,1384.6L2156.5,1384.6L2158.0,1384.7L2159.5,1384.7L2161.0,1384.8L2162.5,1384.8L2164.0,1384.9L2165.5,1384.9L2167.0,1385.0" fill="none" stroke="#ffd812" stroke-width="14" stroke-linejoin="round"/>
<path d="M310.0,1181.9L311.5,1181.7L313.0,1181.0L314.5,1180.0L316.0,1178.7L317.5,1177.2L319.0,1175.5L320.5,1173.5L322.0,1171.4L323.5,1169.1L325.0,1166.7L326.5,1164.3L328.0,1161.8L329.5,1159.3L331.0,1156.8L332.5,1154.4L334.0,1152.0L335.5,1149.7L337.0,1147.4L338.5,1145.3L340.0,1143.2L341.5,1141.1L343.0,1139.2L344.5,1137.3L346.0,1135.5L347.5,1133.7L349.0,1132.1L350.5,1130.5L352.0,1129.0L353.5,1127.7L355.0,1126.5L356.5,1125.4L358.0,1124.5L359.5,1123.7L361.0,1123.2L362.5,1122.8L364.0,1122.6L365.5,1122.7L367.0,1123.0L368.5,1123.5L370.0,1124.2L371.5,1125.3L373.0,1126.7L374.5,1128.4L376.0,1130.5L377.5,1133.1L379.0,1136.4L380.5,1140.4L382.0,1145.4L383.5,1151.5L385.0,1158.3L386.5,1165.1L388.0,1171.1L389.5,1176.7L391.0,1182.0L392.5,1187.2L394.0,1192.4L395.5,1197.7L397.0,1203.1L398.5,1209.0L400.0,1215.5L401.5,1223.1L403.0,1231.7L404.5,1240.3L406.0,1247.8L407.5,1254.0L409.0,1259.3L410.5,1263.7L412.0,1267.5L413.5,1270.9L415.0,1273.9L416.5,1276.6L418.0,1279.0L419.5,1281.2L421.0,1283.1L422.5,1284.8L424.0,1286.3L425.5,1287.6L427.0,1288.7L428.5,1289.6L430.0,1290.3L431.5,1291.0L433.0,1291.5L434.5,1291.9L436.0,1292.2L437.5,1292.4L439.0,1292.5L440.5,1292.6L442.0,1292.6L443.5,1292.6L445.0,1292.5L446.5,1292.4L448.0,1292.3L449.5,1292.1L451.0,1291.8L452.5,1291.6L454.0,1291.3L455.5,1291.0L457.0,1290.6L458.5,1290.3L460.0,1289.9L461.5,1289.5L463.0,1289.0L464.5,1288.6L466.0,1288.1L467.5,1287.6L469.0,1287.1L470.5,1286.6L472.0,1286.1L473.5,1285.6L475.0,1285.1L476.5,1284.5L478.0,1284.0L479.5,1283.4L481.0,1282.9L482.5,1282.3L484.0,1281.7L485.5,1281.2L487.0,1280.6L488.5,1280.1L490.0,1279.5L491.5,1279.0L493.0,1278.5L494.5,1277.9L496.0,1277.4L497.5,1277.0L499.0,1276.5L500.5,1276.0L502.0,1275.6L503.5,1275.2L505.0,1274.8L506.5,1274.4L508.0,1274.1L509.5,1273.7L511.0,1273.4L512.5,1273.1L514.0,1272.8L515.5,1272.6L517.0,1272.3L518.5,1272.1L520.0,1271.9L521.5,1271.8L523.0,1271.6L524.5,1271.5L526.0,1271.3L527.5,1271.2L529.0,1271.2L530.5,1271.1L532.0,1271.1L533.5,1271.1L535.0,1271.1L536.5,1271.1L538.0,1271.1L539.5,1271.2L541.0,1271.3L542.5,1271.4L544.0,1271.6L545.5,1271.7L547.0,1271.9L548.5,1272.1L550.0,1272.4L551.5,1272.6L553.0,1272.9L554.5,1273.2L556.0,1273.5L557.5,1273.9L559.0,1274.2L560.5,1274.7L562.0,1275.1L563.5,1275.5L565.0,1276.0L566.5,1276.5L568.0,1277.1L569.5,1277.7L571.0,1278.2L572.5,1278.8L574.0,1279.4L575.5,1280.1L577.0,1280.7L578.5,1281.3L580.0,1281.9L581.5,1282.6L583.0,1283.2L584.5,1283.8L586.0,1284.3L587.5,1284.9L589.0,1285.4L590.5,1285.9L592.0,1286.3L593.5,1286.7L595.0,1287.1L596.5,1287.4L598.0,1287.7L599.5,1287.9L601.0,1288.0L602.5,1288.0L604.0,1288.0L605.5,1288.0L607.0,1287.8L608.5,1287.5L610.0,1287.2L611.5,1286.9L613.0,1286.4L614.5,1285.9L616.0,1285.4L617.5,1284.8L619.0,1284.1L620.5,1283.4L622.0,1282.7L623.5,1282.0L625.0,1281.2L626.5,1280.4L628.0,1279.5L629.5,1278.6L631.0,1277.7L632.5,1276.8L634.0,1275.9L635.5,1274.9L637.0,1273.9L638.5,1272.9L640.0,1271.8L641.5,1270.7L643.0,1269.6L644.5,1268.5L646.0,1267.3L647.5,1266.1L649.0,1264.9L650.5,1263.6L652.0,1262.3L653.5,1261.0L655.0,1259.7L656.5,1258.3L658.0,1256.9L659.5,1255.5L661.0,1254.0L662.5,1252.5L664.0,1251.0L665.5,1249.5L667.0,1247.9L668.5,1246.3L670.0,1244.6L671.5,1242.9L673.0,1241.2L674.5,1239.5L676.0,1237.7L677.5,1235.9L679.0,1234.0L680.5,1232.2L682.0,1230.3L683.5,1228.3L685.0,1226.4L686.5,1224.4L688.0,1222.4L689.5,1220.4L691.0,1218.4L692.5,1216.4L694.0,1214.4L695.5,1212.3L697.0,1210.2L698.5,1208.2L700.0,1206.1L701.5,1204.1L703.0,1202.0L704.5,1200.0L706.0,1198.0L707.5,1196.0L709.0,1194.0L710.5,1192.0L712.0,1190.0L713.5,1188.0L715.0,1186.1L716.5,1184.2L718.0,1182.3L719.5,1180.5L721.0,1178.6L722.5,1176.8L724.0,1175.0L725.5,1173.3L727.0,1171.6L728.5,1169.9L730.0,1168.2L731.5,1166.5L733.0,1164.9L734.5,1163.3L736.0,1161.7L737.5,1160.2L739.0,1158.7L740.5,1157.2L742.0,1155.7L743.5,1154.3L745.0,1152.9L746.5,1151.5L748.0,1150.1L749.5,1148.8L751.0,1147.5L752.5,1146.2L754.0,1145.0L755.5,1143.7L757.0,1142.5L758.5,1141.4L760.0,1140.2L761.5,1139.1L763.0,1138.0L764.5,1136.9L766.0,1135.8L767.5,1134.8L769.0,1133.8L770.5,1132.8L772.0,1131.8L773.5,1130.9L775.0,1130.0L776.5,1129.1L778.0,1128.2L779.5,1127.4L781.0,1126.5L782.5,1125.7L784.0,1124.9L785.5,1124.2L787.0,1123.5L788.5,1122.7L790.0,1122.1L791.5,1121.4L793.0,1120.8L794.5,1120.1L796.0,1119.6L797.5,1119.0L799.0,1118.5L800.5,1118.0L802.0,1117.5L803.5,1117.1L805.0,1116.7L806.5,1116.3L808.0,1116.0L809.5,1115.8L811.0,1115.5L812.5,1115.4L814.0,1115.3L815.5,1115.2L817.0,1115.2L818.5,1115.3L820.0,1115.5L821.5,1115.7L823.0,1116.0L824.5,1116.3L826.0,1116.8L827.5,1117.4L829.0,1118.0L830.5,1118.7L832.0,1119.5L833.5,1120.5L835.0,1121.5L836.5,1122.7L838.0,1123.9L839.5,1125.3L841.0,1126.9L842.5,1128.5L844.0,1130.2L845.5,1132.0L847.0,1133.9L848.5,1135.8L850.0,1137.8L851.5,1139.8L853.0,1141.8L854.5,1143.8L856.0,1145.7L857.5,1147.6L859.0,1149.5L860.5,1151.3L862.0,1153.1L863.5,1154.7L865.0,1156.3L866.5,1157.9L868.0,1159.3L869.5,1160.8L871.0,1162.1L872.5,1163.4L874.0,1164.7L875.5,1165.9L877.0,1167.1L878.5,1168.2L880.0,1169.2L881.5,1170.3L883.0,1171.3L884.5,1172.3L886.0,1173.2L887.5,1174.1L889.0,1175.0L890.5,1175.8L892.0,1176.6L893.5,1177.4L895.0,1178.2L896.5,1179.0L898.0,1179.7L899.5,1180.4L901.0,1181.1L902.5,1181.8L904.0,1182.5L905.5,1183.2L907.0,1183.9L908.5,1184.5L910.0,1185.2L911.5,1185.8L913.0,1186.5L914.5,1187.1L916.0,1187.7L917.5,1188.3L919.0,1188.9L920.5,1189.5L922.0,1190.1L923.5,1190.6L925.0,1191.1L926.5,1191.6L928.0,1192.1L929.5,1192.6L931.0,1193.0L932.5,1193.4L934.0,1193.8L935.5,1194.2L937.0,1194.6L938.5,1194.9L940.0,1195.3L941.5,1195.6L943.0,1195.9L944.5,1196.3L946.0,1196.6L947.5,1197.0L949.0,1197.4L950.5,1197.7L952.0,1198.1L953.5,1198.5L955.0,1198.9L956.5,1199.3L958.0,1199.7L959.5,1200.2L961.0,1200.6L962.5,1201.1L964.0,1201.6L965.5,1202.1L967.0,1202.6L968.5,1203.1L970.0,1203.7L971.5,1204.3L973.0,1204.8L974.5,1205.4L976.0,1206.1L977.5,1206.7L979.0,1207.4L980.5,1208.0L982.0,1208.7L983.5,1209.5L985.0,1210.2L986.5,1211.0L988.0,1211.9L989.5,1212.7L991.0,1213.6L992.5,1214.6L994.0,1215.6L995.5,1216.7L997.0,1217.8L998.5,1219.0L1000.0,1220.2L1001.5,1221.6L1003.0,1223.0L1004.5,1224.5L1006.0,1226.1L1007.5,1227.7L1009.0,1229.5L1010.5,1231.4L1012.0,1233.3L1013.5,1235.3L1015.0,1237.4L1016.5,1239.5L1018.0,1241.5L1019.5,1243.5L1021.0,1245.5L1022.5,1247.4L1024.0,1249.2L1025.5,1251.0L1027.0,1252.6L1028.5,1254.2L1030.0,1255.7L1031.5,1257.2L1033.0,1258.6L1034.5,1260.0L1036.0,1261.4L1037.5,1262.8L1039.0,1264.1L1040.5,1265.4L1042.0,1266.8L1043.5,1268.1L1045.0,1269.3L1046.5,1270.6L1048.0,1271.9L1049.5,1273.1L1051.0,1274.4L1052.5,1275.6L1054.0,1276.8L1055.5,1278.1L1057.0,1279.4L1058.5,1280.8L1060.0,1282.3L1061.5,1283.8L1063.0,1285.4L1064.5,1287.1L1066.0,1288.8L1067.5,1290.6L1069.0,1292.3L1070.5,1293.9L1072.0,1295.3L1073.5,1296.5L1075.0,1297.5L1076.5,1298.4L1078.0,1299.1L1079.5,1299.6L1081.0,1300.1L1082.5,1300.5L1084.0,1300.8L1085.5,1301.0L1087.0,1301.2L1088.5,1301.2L1090.0,1301.3L1091.5,1301.2L1093.0,1301.1L1094.5,1300.9L1096.0,1300.7L1097.5,1300.5L1099.0,1300.1L1100.5,1299.7L1102.0,1299.3L1103.5,1298.8L1105.0,1298.3L1106.5,1297.8L1108.0,1297.2L1109.5,1296.6L1111.0,1296.0L1112.5,1295.4L1114.0,1294.8L1115.5,1294.2L1117.0,1293.5L1118.5,1292.8L1120.0,1292.2L1121.5,1291.5L1123.0,1290.8L1124.5,1290.1L1126.0,1289.3L1127.5,1288.6L1129.0,1287.8L1130.5,1287.0L1132.0,1286.2L1133.5,1285.4L1135.0,1284.6L1136.5,1283.7L1138.0,1282.8L1139.5,1281.9L1141.0,1281.0L1142.5,1280.0L1144.0,1279.1L1145.5,1278.1L1147.0,1277.1L1148.5,1276.0L1150.0,1275.0L1151.5,1273.9L1153.0,1272.8L1154.5,1271.6L1156.0,1270.5L1157.5,1269.3L1159.0,1268.1L1160.5,1266.9L1162.0,1265.6L1163.5,1264.3L1165.0,1263.0L1166.5,1261.6L1168.0,1260.3L1169.5,1258.9L1171.0,1257.4L1172.5,1256.0L1174.0,1254.5L1175.5,1253.0L1177.0,1251.4L1178.5,1249.8L1180.0,1248.2L1181.5,1246.6L1183.0,1244.9L1184.5,1243.2L1186.0,1241.5L1187.5,1239.7L1189.0,1237.9L1190.5,1236.1L1192.0,1234.2L1193.5,1232.3L1195.0,1230.4L1196.5,1228.4L1198.0,1226.4L1199.5,1224.4L1201.0,1222.3L1202.5,1220.2L1204.0,1218.1L1205.5,1215.9L1207.0,1213.7L1208.5,1211.4L1210.0,1209.1L1211.5,1206.8L1213.0,1204.4L1214.5,1202.0L1216.0,1199.5L1217.5,1197.0L1219.0,1194.4L1220.5,1191.8L1222.0,1189.2L1223.5,1186.5L1225.0,1183.7L1226.5,1180.9L1228.0,1178.1L1229.5,1175.2L1231.0,1172.2L1232.5,1169.2L1234.0,1166.1L1235.5,1163.0L1237.0,1159.8L1238.5,1156.6L1240.0,1153.3L1241.5,1150.0L1243.0,1146.5L1244.5,1143.1L1246.0,1139.6L1247.5,1136.0L1249.0,1132.4L1250.5,1128.7L1252.0,1125.0L1253.5,1121.2L1255.0,1117.4L1256.5,1113.6L1258.0,1109.7L1259.5,1105.7L1261.0,1101.7L1262.5,1097.8L1264.0,1093.7L1265.5,1089.7L1267.0,1085.6L1268.5,1081.5L1270.0,1077.4L1271.5,1073.3L1273.0,1069.2L1274.5,1065.0L1276.0,1060.8L1277.5,1056.6L1279.0,1052.4L1280.5,1048.1L1282.0,1043.8L1283.5,1039.5L1285.0,1035.2L1286.5,1030.9L1288.0,1026.5L1289.5,1022.2L1291.0,1017.8L1292.5,1013.3L1294.0,1008.9L1295.5,1004.4L1297.0,1000.0L1298.5,995.5L1300.0,990.9L1301.5,986.4L1303.0,981.8L1304.5,977.2L1306.0,972.6L1307.5,968.0L1309.0,963.4L1310.5,958.7L1312.0,954.0L1313.5,949.3L1315.0,944.6L1316.5,939.8L1318.0,935.1L1319.5,930.3L1321.0,925.5L1322.5,920.7L1324.0,915.8L1325.5,910.9L1327.0,906.1L1328.5,901.2L1330.0,896.2L1331.5,891.3L1333.0,886.3L1334.5,881.4L1336.0,876.4L1337.5,871.4L1339.0,866.3L1340.5,861.3L1342.0,856.2L1343.5,851.1L1345.0,846.0L1346.5,840.9L1348.0,835.7L1349.5,830.5L1351.0,825.4L1352.5,820.2L1354.0,814.9L1355.5,809.7L1357.0,804.4L1358.5,799.1L1360.0,793.8L1361.5,788.5L1363.0,783.2L1364.5,777.8L1366.0,772.4L1367.5,767.1L1369.0,761.6L1370.5,756.2L1372.0,750.8L1373.5,745.3L1375.0,739.8L1376.5,734.3L1378.0,728.8L1379.5,723.2L1381.0,717.7L1382.5,712.1L1384.0,706.5L1385.5,700.9L1387.0,695.3L1388.5,689.7L1390.0,684.0L1391.5,678.3L1393.0,672.7L1394.5,667.0L1396.0,661.3L1397.5,655.5L1399.0,649.8L1400.5,644.1L1402.0,638.3L1403.5,632.5L1405.0,626.8L1406.5,621.0L1408.0,615.2L1409.5,609.4L1411.0,603.6L1412.5,597.7L1414.0,591.9L1415.5,586.1L1417.0,580.3L1418.5,574.4L1420.0,568.6L1421.5,562.7L1423.0,556.9L1424.5,551.0L1426.0,545.2L1427.5,539.3L1429.0,533.5L1430.5,527.6L1432.0,521.8L1433.5,515.9L1435.0,510.1L1436.5,504.3L1438.0,498.4L1439.5,492.6L1441.0,486.8L1442.5,480.9L1444.0,475.1L1445.5,469.3L1447.0,463.4L1448.5,457.6L1450.0,451.8L1451.5,445.9L1453.0,440.1L1454.5,434.3L1456.0,428.4L1457.5,422.5L1459.0,416.7L1460.5,410.8L1462.0,405.0L1463.5,399.1L1465.0,393.2L1466.5,387.3L1468.0,381.4L1469.5,375.5L1471.0,369.6L1472.5,363.7L1474.0,357.8L1475.5,351.9L1477.0,345.9L1478.5,340.1L1480.0,334.4L1481.5,329.0L1483.0,323.9L1484.5,319.1L1486.0,314.7L1487.5,310.6L1489.0,306.8L1490.5,303.3L1492.0,300.1L1493.5,297.1L1495.0,294.4L1496.5,291.8L1498.0,289.5L1499.5,287.3L1501.0,285.3L1502.5,283.4L1504.0,281.6L1505.5,280.0L1507.0,278.5L1508.5,277.1L1510.0,275.8L1511.5,274.6L1513.0,273.5L1514.5,272.5L1516.0,271.6L1517.5,270.7L1519.0,270.0L1520.5,269.4L1522.0,268.9L1523.5,268.5L1525.0,268.4L1526.5,268.4L1528.0,268.7L1529.5,269.1L1531.0,269.7L1532.5,270.5L1534.0,271.5L1535.5,272.7L1537.0,274.1L1538.5,275.7L1540.0,277.6L1541.5,279.7L1543.0,282.0L1544.5,284.6L1546.0,287.5L1547.5,290.5L1549.0,293.8L1550.5,297.4L1552.0,301.1L1553.5,305.0L1555.0,308.9L1556.5,313.0L1558.0,317.2L1559.5,321.4L1561.0,325.8L1562.5,330.3L1564.0,334.9L1565.5,339.7L1567.0,344.6L1568.5,349.6L1570.0,354.9L1571.5,360.3L1573.0,365.9L1574.5,371.7L1576.0,377.8L1577.5,384.1L1579.0,390.7L1580.5,397.6L1582.0,404.8L1583.5,412.3L1585.0,420.2L1586.5,428.5L1588.0,437.1L1589.5,445.9L1591.0,455.0L1592.5,464.2L1594.0,473.5L1595.5,482.8L1597.0,492.1L1598.5,501.5L1600.0,510.9L1601.5,520.4L1603.0,529.9L1604.5,539.3L1606.0,548.9L1607.5,558.4L1609.0,568.0L1610.5,577.5L1612.0,587.1L1613.5,596.7L1615.0,606.4L1616.5,616.0L1618.0,625.6L1619.5,635.2L1621.0,644.9L1622.5,654.5L1624.0,664.1L1625.5,673.8L1627.0,683.4L1628.5,693.0L1630.0,702.6L1631.5,712.2L1633.0,721.7L1634.5,731.3L1636.0,740.8L1637.5,750.3L1639.0,759.8L1640.5,769.2L1642.0,778.7L1643.5,788.0L1645.0,797.4L1646.5,806.7L1648.0,816.0L1649.5,825.3L1651.0,834.5L1652.5,843.6L1654.0,852.8L1655.5,861.9L1657.0,870.9L1658.5,879.9L1660.0,888.8L1661.5,897.7L1663.0,906.6L1664.5,915.4L1666.0,924.1L1667.5,932.8L1669.0,941.5L1670.5,950.1L1672.0,958.6L1673.5,967.0L1675.0,975.4L1676.5,983.6L1678.0,991.8L1679.5,999.8L1681.0,1007.8L1682.5,1015.6L1684.0,1023.3L1685.5,1030.9L1687.0,1038.4L1688.5,1045.8L1690.0,1053.0L1691.5,1060.2L1693.0,1067.2L1694.5,1074.1L1696.0,1080.9L1697.5,1087.5L1699.0,1094.1L1700.5,1100.5L1702.0,1106.9L1703.5,1113.1L1705.0,1119.2L1706.5,1125.3L1708.0,1131.2L1709.5,1137.0L1711.0,1142.7L1712.5,1148.4L1714.0,1153.9L1715.5,1159.4L1717.0,1164.8L1718.5,1170.1L1720.0,1175.3L1721.5,1180.4L1723.0,1185.4L1724.5,1190.4L1726.0,1195.3L1727.5,1200.0L1729.0,1204.7L1730.5,1209.3L1732.0,1213.8L1733.5,1218.3L1735.0,1222.6L1736.5,1226.9L1738.0,1231.0L1739.5,1235.1L1741.0,1239.1L1742.5,1243.0L1744.0,1246.9L1745.5,1250.7L1747.0,1254.4L1748.5,1258.0L1750.0,1261.5L1751.5,1265.0L1753.0,1268.5L1754.5,1271.8L1756.0,1275.2L1757.5,1278.4L1759.0,1281.6L1760.5,1284.7L1762.0,1287.8L1763.5,1290.8L1765.0,1293.7L1766.5,1296.5L1768.0,1299.3L1769.5,1302.0L1771.0,1304.6L1772.5,1307.1L1774.0,1309.5L1775.5,1311.9L1777.0,1314.2L1778.5,1316.4L1780.0,1318.6L1781.5,1320.7L1783.0,1322.7L1784.5,1324.7L1786.0,1326.6L1787.5,1328.4L1789.0,1330.2L1790.5,1331.9L1792.0,1333.6L1793.5,1335.2L1795.0,1336.7L1796.5,1338.2L1798.0,1339.7L1799.5,1341.1L1801.0,1342.5L1802.5,1343.8L1804.0,1345.1L1805.5,1346.3L1807.0,1347.5L1808.5,1348.7L1810.0,1349.8L1811.5,1350.9L1813.0,1352.0L1814.5,1353.1L1816.0,1354.1L1817.5,1355.1L1819.0,1356.0L1820.5,1356.9L1822.0,1357.8L1823.5,1358.7L1825.0,1359.6L1826.5,1360.4L1828.0,1361.2L1829.5,1362.0L1831.0,1362.7L1832.5,1363.5L1834.0,1364.2L1835.5,1364.9L1837.0,1365.5L1838.5,1366.2L1840.0,1366.8L1841.5,1367.4L1843.0,1368.0L1844.5,1368.6L1846.0,1369.1L1847.5,1369.7L1849.0,1370.2L1850.5,1370.7L1852.0,1371.1L1853.5,1371.6L1855.0,1372.0L1856.5,1372.4L1858.0,1372.8L1859.5,1373.2L1861.0,1373.6L1862.5,1373.9L1864.0,1374.2L1865.5,1374.5L1867.0,1374.8L1868.5,1375.1L1870.0,1375.4L1871.5,1375.6L1873.0,1375.9L1874.5,1376.1L1876.0,1376.3L1877.5,1376.5L1879.0,1376.7L1880.5,1376.9L1882.0,1377.0L1883.5,1377.2L1885.0,1377.3L1886.5,1377.4L1888.0,1377.6L1889.5,1377.7L1891.0,1377.8L1892.5,1377.9L1894.0,1378.0L1895.5,1378.1L1897.0,1378.2L1898.5,1378.2L1900.0,1378.3L1901.5,1378.4L1903.0,1378.4L1904.5,1378.5L1906.0,1378.5L1907.5,1378.6L1909.0,1378.6L1910.5,1378.6L1912.0,1378.7L1913.5,1378.7L1915.0,1378.7L1916.5,1378.8L1918.0,1378.8L1919.5,1378.8L1921.0,1378.8L1922.5,1378.9L1924.0,1378.9L1925.5,1378.9L1927.0,1378.9L1928.5,1379.0L1930.0,1379.0L1931.5,1379.0L1933.0,1379.1L1934.5,1379.1L1936.0,1379.1L1937.5,1379.2L1939.0,1379.2L1940.5,1379.3L1942.0,1379.3L1943.5,1379.4L1945.0,1379.4L1946.5,1379.5L1948.0,1379.5L1949.5,1379.6L1951.0,1379.6L1952.5,1379.7L1954.0,1379.8L1955.5,1379.8L1957.0,1379.9L1958.5,1379.9L1960.0,1380.0L1961.5,1380.1L1963.0,1380.1L1964.5,1380.2L1966.0,1380.3L1967.5,1380.3L1969.0,1380.4L1970.5,1380.5L1972.0,1380.6L1973.5,1380.6L1975.0,1380.7L1976.5,1380.8L1978.0,1380.9L1979.5,1380.9L1981.0,1381.0L1982.5,1381.1L1984.0,1381.2L1985.5,1381.2L1987.0,1381.3L1988.5,1381.4L1990.0,1381.5L1991.5,1381.6L1993.0,1381.6L1994.5,1381.7L1996.0,1381.8L1997.5,1381.9L1999.0,1381.9L2000.5,1382.0L2002.0,1382.1L2003.5,1382.2L2005.0,1382.2L2006.5,1382.3L2008.0,1382.4L2009.5,1382.5L2011.0,1382.5L2012.5,1382.6L2014.0,1382.7L2015.5,1382.7L2017.0,1382.8L2018.5,1382.9L2020.0,1382.9L2021.5,1383.0L2023.0,1383.1L2024.5,1383.1L2026.0,1383.2L2027.5,1383.3L2029.0,1383.3L2030.5,1383.4L2032.0,1383.4L2033.5,1383.5L2035.0,1383.5L2036.5,1383.6L2038.0,1383.6L2039.5,1383.7L2041.0,1383.7L2042.5,1383.7L2044.0,1383.8L2045.5,1383.8L2047.0,1383.9L2048.5,1383.9L2050.0,1383.9L2051.5,1383.9L2053.0,1384.0L2054.5,1384.0L2056.0,1384.0L2057.5,1384.0L2059.0,1384.1L2060.5,1384.1L2062.0,1384.1L2063.5,1384.1L2065.0,1384.1L2066.5,1384.1L2068.0,1384.1L2069.5,1384.1L2071.0,1384.1L2072.5,1384.2L2074.0,1384.2L2075.5,1384.2L2077.0,1384.2L2078.5,1384.2L2080.0,1384.2L2081.5,1384.2L2083.0,1384.2L2084.5,1384.2L2086.0,1384.2L2087.5,1384.2L2089.0,1384.2L2090.5,1384.1L2092.0,1384.1L2093.5,1384.1L2095.0,1384.1L2096.5,1384.1L2098.0,1384.1L2099.5,1384.1L2101.0,1384.1L2102.5,1384.1L2104.0,1384.1L2105.5,1384.1L2107.0,1384.1L2108.5,1384.1L2110.0,1384.1L2111.5,1384.1L2113.0,1384.1L2114.5,1384.1L2116.0,1384.1L2117.5,1384.1L2119.0,1384.1L2120.5,1384.1L2122.0,1384.1L2123.5,1384.1L2125.0,1384.1L2126.5,1384.1L2128.0,1384.1L2129.5,1384.1L2131.0,1384.1L2132.5,1384.2L2134.0,1384.2L2135.5,1384.2L2137.0,1384.2L2138.5,1384.2L2140.0,1384.2L2141.5,1384.3L2143.0,1384.3L2144.5,1384.3L2146.0,1384.3L2147.5,1384.4L2149.0,1384.4L2150.5,1384.4L2152.0,1384.5L2153.5,1384.5L2155.0,1384.6L2156.5,1384.6L2158.0,1384.7L2159.5,1384.7L2161.0,1384.8L2162.5,1384.8L2164.0,1384.9L2165.5,1384.9L2167.0,1385.0" fill="none" stroke="#857327" stroke-width="14" stroke-linejoin="round"/>
<path d="M310.0,1172.4L311.5,1171.6L313.0,1170.3L314.5,1168.8L316.0,1167.0L317.5,1165.0L319.0,1162.8L320.5,1160.4L322.0,1157.9L323.5,1155.2L325.0,1152.5L326.5,1149.8L328.0,1147.1L329.5,1144.5L331.0,1142.0L332.5,1139.5L334.0,1137.2L335.5,1135.0L337.0,1132.9L338.5,1131.0L340.0,1129.2L341.5,1127.6L343.0,1126.1L344.5,1124.7L346.0,1123.4L347.5,1122.3L349.0,1121.4L350.5,1120.5L352.0,1119.9L353.5,1119.4L355.0,1119.1L356.5,1119.0L358.0,1119.0L359.5,1119.3L361.0,1119.7L362.5,1120.3L364.0,1121.0L365.5,1122.0L367.0,1123.1L368.5,1124.4L370.0,1125.9L371.5,1127.7L373.0,1129.6L374.5,1131.8L376.0,1134.3L377.5,1137.3L379.0,1140.7L380.5,1144.8L382.0,1149.7L383.5,1155.6L385.0,1162.3L386.5,1168.8L388.0,1174.6L389.5,1179.9L391.0,1185.0L392.5,1189.9L394.0,1194.8L395.5,1199.7L397.0,1204.9L398.5,1210.4L400.0,1216.6L401.5,1223.9L403.0,1232.2L404.5,1240.5L406.0,1247.8L407.5,1253.9L409.0,1258.9L410.5,1263.3L412.0,1267.0L413.5,1270.3L415.0,1273.2L416.5,1275.9L418.0,1278.3L419.5,1280.4L421.0,1282.3L422.5,1284.0L424.0,1285.5L425.5,1286.8L427.0,1287.9L428.5,1288.8L430.0,1289.6L431.5,1290.2L433.0,1290.7L434.5,1291.1L436.0,1291.4L437.5,1291.6L439.0,1291.8L440.5,1291.8L442.0,1291.9L443.5,1291.8L445.0,1291.7L446.5,1291.6L448.0,1291.4L449.5,1291.2L451.0,1291.0L452.5,1290.7L454.0,1290.4L455.5,1290.0L457.0,1289.7L458.5,1289.3L460.0,1288.8L461.5,1288.4L463.0,1287.9L464.5,1287.4L466.0,1286.9L467.5,1286.4L469.0,1285.9L470.5,1285.3L472.0,1284.7L473.5,1284.2L475.0,1283.6L476.5,1283.0L478.0,1282.4L479.5,1281.7L481.0,1281.1L482.5,1280.5L484.0,1279.9L485.5,1279.3L487.0,1278.7L488.5,1278.1L490.0,1277.5L491.5,1276.9L493.0,1276.3L494.5,1275.8L496.0,1275.2L497.5,1274.7L499.0,1274.2L500.5,1273.7L502.0,1273.2L503.5,1272.8L505.0,1272.4L506.5,1272.0L508.0,1271.6L509.5,1271.3L511.0,1270.9L512.5,1270.6L514.0,1270.4L515.5,1270.1L517.0,1269.9L518.5,1269.7L520.0,1269.5L521.5,1269.3L523.0,1269.1L524.5,1269.0L526.0,1268.9L527.5,1268.8L529.0,1268.8L530.5,1268.8L532.0,1268.7L533.5,1268.7L535.0,1268.8L536.5,1268.8L538.0,1268.9L539.5,1269.0L541.0,1269.1L542.5,1269.3L544.0,1269.5L545.5,1269.7L547.0,1269.9L548.5,1270.1L550.0,1270.4L551.5,1270.7L553.0,1271.0L554.5,1271.3L556.0,1271.7L557.5,1272.1L559.0,1272.5L560.5,1273.0L562.0,1273.5L563.5,1274.0L565.0,1274.5L566.5,1275.1L568.0,1275.7L569.5,1276.3L571.0,1277.0L572.5,1277.7L574.0,1278.3L575.5,1279.0L577.0,1279.7L578.5,1280.4L580.0,1281.1L581.5,1281.8L583.0,1282.5L584.5,1283.1L586.0,1283.8L587.5,1284.4L589.0,1285.0L590.5,1285.6L592.0,1286.1L593.5,1286.5L595.0,1287.0L596.5,1287.3L598.0,1287.7L599.5,1287.9L601.0,1288.1L602.5,1288.2L604.0,1288.3L605.5,1288.3L607.0,1288.1L608.5,1288.0L610.0,1287.7L611.5,1287.4L613.0,1287.0L614.5,1286.5L616.0,1286.0L617.5,1285.5L619.0,1284.9L620.5,1284.2L622.0,1283.6L623.5,1282.9L625.0,1282.1L626.5,1281.4L628.0,1280.6L629.5,1279.8L631.0,1278.9L632.5,1278.1L634.0,1277.2L635.5,1276.3L637.0,1275.3L638.5,1274.3L640.0,1273.3L641.5,1272.3L643.0,1271.3L644.5,1270.2L646.0,1269.1L647.5,1268.0L649.0,1266.8L650.5,1265.6L652.0,1264.4L653.5,1263.2L655.0,1261.9L656.5,1260.6L658.0,1259.3L659.5,1258.0L661.0,1256.6L662.5,1255.2L664.0,1253.8L665.5,1252.3L667.0,1250.8L668.5,1249.3L670.0,1247.7L671.5,1246.2L673.0,1244.5L674.5,1242.9L676.0,1241.2L677.5,1239.5L679.0,1237.8L680.5,1236.0L682.0,1234.2L683.5,1232.4L685.0,1230.6L686.5,1228.7L688.0,1226.8L689.5,1224.9L691.0,1223.0L692.5,1221.1L694.0,1219.2L695.5,1217.3L697.0,1215.4L698.5,1213.5L700.0,1211.6L701.5,1209.6L703.0,1207.7L704.5,1205.9L706.0,1204.0L707.5,1202.1L709.0,1200.3L710.5,1198.5L712.0,1196.7L713.5,1194.9L715.0,1193.2L716.5,1191.5L718.0,1189.8L719.5,1188.1L721.0,1186.5L722.5,1184.9L724.0,1183.3L725.5,1181.7L727.0,1180.2L728.5,1178.7L730.0,1177.2L731.5,1175.8L733.0,1174.4L734.5,1173.0L736.0,1171.7L737.5,1170.4L739.0,1169.1L740.5,1167.8L742.0,1166.6L743.5,1165.3L745.0,1164.2L746.5,1163.0L748.0,1161.9L749.5,1160.8L751.0,1159.7L752.5,1158.7L754.0,1157.7L755.5,1156.7L757.0,1155.7L758.5,1154.7L760.0,1153.8L761.5,1152.9L763.0,1152.1L764.5,1151.2L766.0,1150.4L767.5,1149.6L769.0,1148.9L770.5,1148.1L772.0,1147.4L773.5,1146.7L775.0,1146.1L776.5,1145.4L778.0,1144.8L779.5,1144.2L781.0,1143.7L782.5,1143.1L784.0,1142.6L785.5,1142.1L787.0,1141.6L788.5,1141.2L790.0,1140.8L791.5,1140.4L793.0,1140.1L794.5,1139.7L796.0,1139.4L797.5,1139.2L799.0,1138.9L800.5,1138.7L802.0,1138.6L803.5,1138.5L805.0,1138.4L806.5,1138.3L808.0,1138.3L809.5,1138.4L811.0,1138.5L812.5,1138.7L814.0,1138.9L815.5,1139.3L817.0,1139.6L818.5,1140.1L820.0,1140.6L821.5,1141.2L823.0,1142.0L824.5,1142.7L826.0,1143.6L827.5,1144.6L829.0,1145.7L830.5,1146.9L832.0,1148.2L833.5,1149.6L835.0,1151.1L836.5,1152.8L838.0,1154.6L839.5,1156.4L841.0,1158.4L842.5,1160.5L844.0,1162.7L845.5,1165.0L847.0,1167.4L848.5,1169.7L850.0,1172.2L851.5,1174.6L853.0,1177.0L854.5,1179.3L856.0,1181.7L857.5,1183.9L859.0,1186.1L860.5,1188.3L862.0,1190.3L863.5,1192.3L865.0,1194.2L866.5,1196.0L868.0,1197.7L869.5,1199.4L871.0,1201.0L872.5,1202.5L874.0,1203.9L875.5,1205.3L877.0,1206.7L878.5,1208.0L880.0,1209.3L881.5,1210.5L883.0,1211.6L884.5,1212.7L886.0,1213.8L887.5,1214.8L889.0,1215.8L890.5,1216.8L892.0,1217.7L893.5,1218.6L895.0,1219.5L896.5,1220.3L898.0,1221.1L899.5,1221.9L901.0,1222.6L902.5,1223.4L904.0,1224.1L905.5,1224.8L907.0,1225.4L908.5,1226.1L910.0,1226.7L911.5,1227.3L913.0,1227.9L914.5,1228.4L916.0,1229.0L917.5,1229.5L919.0,1230.0L920.5,1230.5L922.0,1231.0L923.5,1231.4L925.0,1231.8L926.5,1232.2L928.0,1232.6L929.5,1233.0L931.0,1233.3L932.5,1233.6L934.0,1233.9L935.5,1234.1L937.0,1234.4L938.5,1234.6L940.0,1234.8L941.5,1235.0L943.0,1235.2L944.5,1235.4L946.0,1235.6L947.5,1235.8L949.0,1236.0L950.5,1236.2L952.0,1236.4L953.5,1236.6L955.0,1236.8L956.5,1237.0L958.0,1237.2L959.5,1237.4L961.0,1237.6L962.5,1237.9L964.0,1238.1L965.5,1238.3L967.0,1238.6L968.5,1238.8L970.0,1239.1L971.5,1239.4L973.0,1239.6L974.5,1239.9L976.0,1240.2L977.5,1240.5L979.0,1240.9L980.5,1241.2L982.0,1241.5L983.5,1241.9L985.0,1242.3L986.5,1242.7L988.0,1243.1L989.5,1243.6L991.0,1244.1L992.5,1244.6L994.0,1245.1L995.5,1245.7L997.0,1246.3L998.5,1247.0L1000.0,1247.7L1001.5,1248.4L1003.0,1249.2L1004.5,1250.1L1006.0,1251.0L1007.5,1252.0L1009.0,1253.0L1010.5,1254.2L1012.0,1255.3L1013.5,1256.5L1015.0,1257.7L1016.5,1259.0L1018.0,1260.3L1019.5,1261.5L1021.0,1262.7L1022.5,1263.9L1024.0,1265.0L1025.5,1266.1L1027.0,1267.2L1028.5,1268.1L1030.0,1269.1L1031.5,1270.0L1033.0,1270.9L1034.5,1271.8L1036.0,1272.6L1037.5,1273.5L1039.0,1274.3L1040.5,1275.1L1042.0,1275.9L1043.5,1276.7L1045.0,1277.5L1046.5,1278.2L1048.0,1279.0L1049.5,1279.8L1051.0,1280.5L1052.5,1281.3L1054.0,1282.0L1055.5,1282.7L1057.0,1283.5L1058.5,1284.4L1060.0,1285.4L1061.5,1286.5L1063.0,1287.6L1064.5,1288.7L1066.0,1289.9L1067.5,1291.1L1069.0,1292.3L1070.5,1293.4L1072.0,1294.3L1073.5,1295.1L1075.0,1295.8L1076.5,1296.3L1078.0,1296.7L1079.5,1297.0L1081.0,1297.2L1082.5,1297.4L1084.0,1297.4L1085.5,1297.5L1087.0,1297.4L1088.5,1297.3L1090.0,1297.2L1091.5,1297.0L1093.0,1296.8L1094.5,1296.5L1096.0,1296.1L1097.5,1295.7L1099.0,1295.3L1100.5,1294.9L1102.0,1294.3L1103.5,1293.8L1105.0,1293.2L1106.5,1292.6L1108.0,1292.0L1109.5,1291.4L1111.0,1290.7L1112.5,1290.1L1114.0,1289.4L1115.5,1288.7L1117.0,1288.0L1118.5,1287.3L1120.0,1286.6L1121.5,1285.8L1123.0,1285.1L1124.5,1284.3L1126.0,1283.5L1127.5,1282.7L1129.0,1281.9L1130.5,1281.1L1132.0,1280.2L1133.5,1279.4L1135.0,1278.5L1136.5,1277.6L1138.0,1276.6L1139.5,1275.7L1141.0,1274.7L1142.5,1273.7L1144.0,1272.7L1145.5,1271.6L1147.0,1270.6L1148.5,1269.5L1150.0,1268.4L1151.5,1267.2L1153.0,1266.0L1154.5,1264.9L1156.0,1263.6L1157.5,1262.4L1159.0,1261.1L1160.5,1259.8L1162.0,1258.5L1163.5,1257.1L1165.0,1255.7L1166.5,1254.3L1168.0,1252.8L1169.5,1251.3L1171.0,1249.8L1172.5,1248.3L1174.0,1246.7L1175.5,1245.1L1177.0,1243.4L1178.5,1241.8L1180.0,1240.0L1181.5,1238.3L1183.0,1236.5L1184.5,1234.7L1186.0,1232.9L1187.5,1231.0L1189.0,1229.1L1190.5,1227.1L1192.0,1225.2L1193.5,1223.1L1195.0,1221.1L1196.5,1219.0L1198.0,1216.8L1199.5,1214.7L1201.0,1212.4L1202.5,1210.2L1204.0,1207.9L1205.5,1205.6L1207.0,1203.2L1208.5,1200.8L1210.0,1198.3L1211.5,1195.8L1213.0,1193.2L1214.5,1190.6L1216.0,1187.9L1217.5,1185.2L1219.0,1182.5L1220.5,1179.7L1222.0,1176.8L1223.5,1173.9L1225.0,1170.9L1226.5,1167.9L1228.0,1164.8L1229.5,1161.6L1231.0,1158.4L1232.5,1155.2L1234.0,1151.8L1235.5,1148.5L1237.0,1145.0L1238.5,1141.5L1240.0,1137.9L1241.5,1134.3L1243.0,1130.6L1244.5,1126.8L1246.0,1123.0L1247.5,1119.1L1249.0,1115.2L1250.5,1111.2L1252.0,1107.1L1253.5,1103.0L1255.0,1098.9L1256.5,1094.7L1258.0,1090.4L1259.5,1086.1L1261.0,1081.8L1262.5,1077.5L1264.0,1073.1L1265.5,1068.7L1267.0,1064.3L1268.5,1059.9L1270.0,1055.4L1271.5,1050.9L1273.0,1046.4L1274.5,1041.9L1276.0,1037.3L1277.5,1032.8L1279.0,1028.2L1280.5,1023.5L1282.0,1018.9L1283.5,1014.2L1285.0,1009.5L1286.5,1004.8L1288.0,1000.1L1289.5,995.3L1291.0,990.5L1292.5,985.7L1294.0,980.9L1295.5,976.1L1297.0,971.2L1298.5,966.3L1300.0,961.4L1301.5,956.5L1303.0,951.5L1304.5,946.6L1306.0,941.6L1307.5,936.6L1309.0,931.6L1310.5,926.5L1312.0,921.4L1313.5,916.4L1315.0,911.2L1316.5,906.1L1318.0,901.0L1319.5,895.8L1321.0,890.6L1322.5,885.4L1324.0,880.2L1325.5,875.0L1327.0,869.7L1328.5,864.4L1330.0,859.1L1331.5,853.8L1333.0,848.5L1334.5,843.1L1336.0,837.8L1337.5,832.4L1339.0,826.9L1340.5,821.5L1342.0,816.1L1343.5,810.6L1345.0,805.1L1346.5,799.6L1348.0,794.1L1349.5,788.5L1351.0,783.0L1352.5,777.4L1354.0,771.8L1355.5,766.1L1357.0,760.5L1358.5,754.8L1360.0,749.1L1361.5,743.4L1363.0,737.7L1364.5,731.9L1366.0,726.2L1367.5,720.4L1369.0,714.6L1370.5,708.8L1372.0,702.9L1373.5,697.1L1375.0,691.2L1376.5,685.3L1378.0,679.4L1379.5,673.4L1381.0,667.5L1382.5,661.5L1384.0,655.5L1385.5,649.5L1387.0,643.5L1388.5,637.5L1390.0,631.4L1391.5,625.4L1393.0,619.3L1394.5,613.2L1396.0,607.1L1397.5,601.0L1399.0,594.8L1400.5,588.7L1402.0,582.6L1403.5,576.4L1405.0,570.2L1406.5,564.1L1408.0,557.9L1409.5,551.7L1411.0,545.5L1412.5,539.3L1414.0,533.1L1415.5,526.9L1417.0,520.6L1418.5,514.4L1420.0,508.2L1421.5,502.0L1423.0,495.8L1424.5,489.5L1426.0,483.3L1427.5,477.1L1429.0,470.9L1430.5,464.7L1432.0,458.5L1433.5,452.3L1435.0,446.1L1436.5,439.9L1438.0,433.7L1439.5,427.5L1441.0,421.3L1442.5,415.1L1444.0,408.9L1445.5,402.8L1447.0,396.6L1448.5,390.4L1450.0,384.2L1451.5,378.0L1453.0,371.8L1454.5,365.6L1456.0,359.4L1457.5,353.2L1459.0,347.0L1460.5,340.8L1462.0,334.6L1463.5,328.4L1465.0,322.1L1466.5,315.9L1468.0,309.7L1469.5,303.4L1471.0,297.1L1472.5,290.9L1474.0,284.6L1475.5,278.3L1477.0,272.1L1478.5,266.0L1480.0,260.2L1481.5,254.8L1483.0,249.6L1484.5,244.9L1486.0,240.5L1487.5,236.4L1489.0,232.7L1490.5,229.2L1492.0,226.0L1493.5,223.1L1495.0,220.4L1496.5,217.8L1498.0,215.5L1499.5,213.3L1501.0,211.3L1502.5,209.5L1504.0,207.7L1505.5,206.1L1507.0,204.6L1508.5,203.3L1510.0,202.0L1511.5,200.8L1513.0,199.7L1514.5,198.6L1516.0,197.7L1517.5,196.9L1519.0,196.2L1520.5,195.6L1522.0,195.2L1523.5,194.9L1525.0,194.9L1526.5,195.1L1528.0,195.4L1529.5,196.0L1531.0,196.7L1532.5,197.6L1534.0,198.8L1535.5,200.2L1537.0,201.8L1538.5,203.7L1540.0,205.8L1541.5,208.1L1543.0,210.8L1544.5,213.6L1546.0,216.8L1547.5,220.1L1549.0,223.7L1550.5,227.5L1552.0,231.5L1553.5,235.6L1555.0,239.8L1556.5,244.1L1558.0,248.5L1559.5,253.0L1561.0,257.6L1562.5,262.3L1564.0,267.2L1565.5,272.3L1567.0,277.5L1568.5,282.9L1570.0,288.4L1571.5,294.2L1573.0,300.3L1574.5,306.5L1576.0,313.1L1577.5,319.9L1579.0,327.1L1580.5,334.6L1582.0,342.4L1583.5,350.7L1585.0,359.3L1586.5,368.3L1588.0,377.6L1589.5,387.1L1591.0,396.9L1592.5,406.7L1594.0,416.5L1595.5,426.4L1597.0,436.4L1598.5,446.3L1600.0,456.3L1601.5,466.4L1603.0,476.5L1604.5,486.6L1606.0,496.8L1607.5,506.9L1609.0,517.1L1610.5,527.4L1612.0,537.6L1613.5,547.9L1615.0,558.2L1616.5,568.5L1618.0,578.8L1619.5,589.1L1621.0,599.4L1622.5,609.7L1624.0,620.0L1625.5,630.4L1627.0,640.7L1628.5,651.0L1630.0,661.3L1631.5,671.5L1633.0,681.8L1634.5,692.1L1636.0,702.3L1637.5,712.5L1639.0,722.7L1640.5,732.8L1642.0,742.9L1643.5,753.0L1645.0,763.1L1646.5,773.1L1648.0,783.1L1649.5,793.0L1651.0,802.9L1652.5,812.8L1654.0,822.6L1655.5,832.3L1657.0,842.0L1658.5,851.7L1660.0,861.3L1661.5,870.9L1663.0,880.4L1664.5,889.8L1666.0,899.2L1667.5,908.5L1669.0,917.8L1670.5,927.0L1672.0,936.1L1673.5,945.1L1675.0,954.0L1676.5,962.8L1678.0,971.5L1679.5,980.1L1681.0,988.5L1682.5,996.9L1684.0,1005.1L1685.5,1013.1L1687.0,1021.1L1688.5,1028.9L1690.0,1036.6L1691.5,1044.2L1693.0,1051.6L1694.5,1058.9L1696.0,1066.1L1697.5,1073.2L1699.0,1080.1L1700.5,1086.9L1702.0,1093.6L1703.5,1100.2L1705.0,1106.7L1706.5,1113.1L1708.0,1119.3L1709.5,1125.5L1711.0,1131.6L1712.5,1137.5L1714.0,1143.4L1715.5,1149.1L1717.0,1154.8L1718.5,1160.4L1720.0,1165.9L1721.5,1171.3L1723.0,1176.6L1724.5,1181.8L1726.0,1187.0L1727.5,1192.0L1729.0,1196.9L1730.5,1201.7L1732.0,1206.5L1733.5,1211.1L1735.0,1215.7L1736.5,1220.1L1738.0,1224.5L1739.5,1228.8L1741.0,1233.0L1742.5,1237.1L1744.0,1241.1L1745.5,1245.1L1747.0,1249.0L1748.5,1252.8L1750.0,1256.5L1751.5,1260.2L1753.0,1263.8L1754.5,1267.3L1756.0,1270.8L1757.5,1274.2L1759.0,1277.5L1760.5,1280.8L1762.0,1284.0L1763.5,1287.1L1765.0,1290.2L1766.5,1293.1L1768.0,1296.0L1769.5,1298.8L1771.0,1301.5L1772.5,1304.1L1774.0,1306.7L1775.5,1309.1L1777.0,1311.5L1778.5,1313.8L1780.0,1316.1L1781.5,1318.2L1783.0,1320.3L1784.5,1322.4L1786.0,1324.3L1787.5,1326.2L1789.0,1328.1L1790.5,1329.8L1792.0,1331.6L1793.5,1333.2L1795.0,1334.9L1796.5,1336.4L1798.0,1337.9L1799.5,1339.4L1801.0,1340.8L1802.5,1342.2L1804.0,1343.5L1805.5,1344.8L1807.0,1346.1L1808.5,1347.3L1810.0,1348.5L1811.5,1349.6L1813.0,1350.7L1814.5,1351.8L1816.0,1352.9L1817.5,1353.9L1819.0,1354.9L1820.5,1355.9L1822.0,1356.8L1823.5,1357.7L1825.0,1358.6L1826.5,1359.4L1828.0,1360.3L1829.5,1361.1L1831.0,1361.9L1832.5,1362.6L1834.0,1363.4L1835.5,1364.1L1837.0,1364.8L1838.5,1365.5L1840.0,1366.1L1841.5,1366.8L1843.0,1367.4L1844.5,1368.0L1846.0,1368.5L1847.5,1369.1L1849.0,1369.6L1850.5,1370.1L1852.0,1370.6L1853.5,1371.1L1855.0,1371.5L1856.5,1371.9L1858.0,1372.3L1859.5,1372.7L1861.0,1373.1L1862.5,1373.4L1864.0,1373.8L1865.5,1374.1L1867.0,1374.4L1868.5,1374.7L1870.0,1374.9L1871.5,1375.2L1873.0,1375.4L1874.5,1375.6L1876.0,1375.8L1877.5,1376.0L1879.0,1376.2L1880.5,1376.4L1882.0,1376.6L1883.5,1376.7L1885.0,1376.9L1886.5,1377.0L1888.0,1377.1L1889.5,1377.2L1891.0,1377.4L1892.5,1377.5L1894.0,1377.5L1895.5,1377.6L1897.0,1377.7L1898.5,1377.8L1900.0,1377.8L1901.5,1377.9L1903.0,1378.0L1904.5,1378.0L1906.0,1378.1L1907.5,1378.1L1909.0,1378.1L1910.5,1378.2L1912.0,1378.2L1913.5,1378.2L1915.0,1378.3L1916.5,1378.3L1918.0,1378.3L1919.5,1378.3L1921.0,1378.4L1922.5,1378.4L1924.0,1378.4L1925.5,1378.5L1927.0,1378.5L1928.5,1378.5L1930.0,1378.5L1931.5,1378.6L1933.0,1378.6L1934.5,1378.7L1936.0,1378.7L1937.5,1378.8L1939.0,1378.8L1940.5,1378.8L1942.0,1378.9L1943.5,1379.0L1945.0,1379.0L1946.5,1379.1L1948.0,1379.1L1949.5,1379.2L1951.0,1379.2L1952.5,1379.3L1954.0,1379.4L1955.5,1379.4L1957.0,1379.5L1958.5,1379.6L1960.0,1379.7L1961.5,1379.7L1963.0,1379.8L1964.5,1379.9L1966.0,1380.0L1967.5,1380.0L1969.0,1380.1L1970.5,1380.2L1972.0,1380.3L1973.5,1380.3L1975.0,1380.4L1976.5,1380.5L1978.0,1380.6L1979.5,1380.7L1981.0,1380.8L1982.5,1380.8L1984.0,1380.9L1985.5,1381.0L1987.0,1381.1L1988.5,1381.2L1990.0,1381.3L1991.5,1381.3L1993.0,1381.4L1994.5,1381.5L1996.0,1381.6L1997.5,1381.7L1999.0,1381.8L2000.5,1381.8L2002.0,1381.9L2003.5,1382.0L2005.0,1382.1L2006.5,1382.2L2008.0,1382.2L2009.5,1382.3L2011.0,1382.4L2012.5,1382.5L2014.0,1382.5L2015.5,1382.6L2017.0,1382.7L2018.5,1382.8L2020.0,1382.8L2021.5,1382.9L2023.0,1383.0L2024.5,1383.0L2026.0,1383.1L2027.5,1383.2L2029.0,1383.2L2030.5,1383.3L2032.0,1383.3L2033.5,1383.4L2035.0,1383.5L2036.5,1383.5L2038.0,1383.6L2039.5,1383.6L2041.0,1383.6L2042.5,1383.7L2044.0,1383.7L2045.5,1383.8L2047.0,1383.8L2048.5,1383.8L2050.0,1383.9L2051.5,1383.9L2053.0,1383.9L2054.5,1383.9L2056.0,1384.0L2057.5,1384.0L2059.0,1384.0L2060.5,1384.0L2062.0,1384.0L2063.5,1384.0L2065.0,1384.1L2066.5,1384.1L2068.0,1384.1L2069.5,1384.1L2071.0,1384.1L2072.5,1384.1L2074.0,1384.1L2075.5,1384.1L2077.0,1384.1L2078.5,1384.1L2080.0,1384.1L2081.5,1384.1L2083.0,1384.1L2084.5,1384.1L2086.0,1384.1L2087.5,1384.1L2089.0,1384.1L2090.5,1384.1L2092.0,1384.1L2093.5,1384.1L2095.0,1384.1L2096.5,1384.1L2098.0,1384.1L2099.5,1384.1L2101.0,1384.0L2102.5,1384.0L2104.0,1384.0L2105.5,1384.0L2107.0,1384.0L2108.5,1384.0L2110.0,1384.0L2111.5,1384.0L2113.0,1384.0L2114.5,1384.0L2116.0,1384.0L2117.5,1384.0L2119.0,1384.0L2120.5,1384.0L2122.0,1384.0L2123.5,1384.0L2125.0,1384.0L2126.5,1384.0L2128.0,1384.1L2129.5,1384.1L2131.0,1384.1L2132.5,1384.1L2134.0,1384.1L2135.5,1384.1L2137.0,1384.1L2138.5,1384.2L2140.0,1384.2L2141.5,1384.2L2143.0,1384.2L2144.5,1384.3L2146.0,1384.3L2147.5,1384.3L2149.0,1384.3L2150.5,1384.4L2152.0,1384.4L2153.5,1384.5L2155.0,1384.5L2156.5,1384.6L2158.0,1384.6L2159.5,1384.7L2161.0,1384.7L2162.5,1384.8L2164.0,1384.8L2165.5,1384.9L2167.0,1385.0" fill="none" stroke="#402b68" stroke-width="14" stroke-linejoin="round"/>
<path d="M310.0,1159.5L311.5,1158.1L313.0,1156.3L314.5,1154.5L316.0,1152.6L317.5,1150.6L319.0,1148.4L320.5,1146.3L322.0,1144.0L323.5,1141.8L325.0,1139.6L326.5,1137.4L328.0,1135.3L329.5,1133.3L331.0,1131.4L332.5,1129.6L334.0,1127.9L335.5,1126.3L337.0,1124.8L338.5,1123.3L340.0,1121.9L341.5,1120.5L343.0,1119.2L344.5,1117.7L346.0,1116.3L347.5,1114.8L349.0,1113.2L350.5,1111.6L352.0,1109.8L353.5,1108.1L355.0,1106.4L356.5,1104.7L358.0,1103.1L359.5,1101.6L361.0,1100.3L362.5,1099.2L364.0,1098.2L365.5,1097.6L367.0,1097.2L368.5,1097.1L370.0,1097.4L371.5,1098.1L373.0,1099.2L374.5,1100.9L376.0,1103.2L377.5,1106.2L379.0,1110.0L380.5,1114.9L382.0,1121.1L383.5,1128.7L385.0,1137.4L386.5,1146.0L388.0,1154.0L389.5,1161.5L391.0,1168.9L392.5,1176.2L394.0,1183.5L395.5,1190.6L397.0,1197.7L398.5,1205.0L400.0,1212.7L401.5,1221.4L403.0,1230.8L404.5,1240.0L406.0,1247.9L407.5,1254.4L409.0,1259.8L410.5,1264.4L412.0,1268.3L413.5,1271.7L415.0,1274.7L416.5,1277.4L418.0,1279.8L419.5,1281.9L421.0,1283.8L422.5,1285.4L424.0,1286.8L425.5,1288.0L427.0,1289.1L428.5,1289.9L430.0,1290.7L431.5,1291.2L433.0,1291.7L434.5,1292.0L436.0,1292.3L437.5,1292.5L439.0,1292.6L440.5,1292.6L442.0,1292.6L443.5,1292.5L445.0,1292.4L446.5,1292.2L448.0,1292.0L449.5,1291.7L451.0,1291.4L452.5,1291.1L454.0,1290.7L455.5,1290.3L457.0,1289.9L458.5,1289.5L460.0,1289.0L461.5,1288.5L463.0,1287.9L464.5,1287.3L466.0,1286.7L467.5,1286.1L469.0,1285.5L470.5,1284.8L472.0,1284.1L473.5,1283.4L475.0,1282.7L476.5,1282.0L478.0,1281.3L479.5,1280.5L481.0,1279.8L482.5,1279.0L484.0,1278.3L485.5,1277.5L487.0,1276.8L488.5,1276.0L490.0,1275.3L491.5,1274.6L493.0,1273.9L494.5,1273.3L496.0,1272.6L497.5,1272.0L499.0,1271.4L500.5,1270.9L502.0,1270.4L503.5,1269.9L505.0,1269.4L506.5,1269.0L508.0,1268.6L509.5,1268.3L511.0,1267.9L512.5,1267.6L514.0,1267.4L515.5,1267.1L517.0,1266.9L518.5,1266.7L520.0,1266.6L521.5,1266.4L523.0,1266.3L524.5,1266.2L526.0,1266.2L527.5,1266.1L529.0,1266.1L530.5,1266.1L532.0,1266.1L533.5,1266.1L535.0,1266.2L536.5,1266.3L538.0,1266.4L539.5,1266.5L541.0,1266.7L542.5,1266.8L544.0,1267.0L545.5,1267.2L547.0,1267.5L548.5,1267.8L550.0,1268.0L551.5,1268.4L553.0,1268.7L554.5,1269.1L556.0,1269.5L557.5,1269.9L559.0,1270.4L560.5,1270.9L562.0,1271.4L563.5,1272.0L565.0,1272.6L566.5,1273.2L568.0,1273.9L569.5,1274.6L571.0,1275.3L572.5,1276.0L574.0,1276.8L575.5,1277.6L577.0,1278.4L578.5,1279.1L580.0,1279.9L581.5,1280.7L583.0,1281.5L584.5,1282.3L586.0,1283.0L587.5,1283.7L589.0,1284.4L590.5,1285.1L592.0,1285.7L593.5,1286.3L595.0,1286.8L596.5,1287.3L598.0,1287.7L599.5,1288.0L601.0,1288.3L602.5,1288.5L604.0,1288.6L605.5,1288.7L607.0,1288.6L608.5,1288.5L610.0,1288.3L611.5,1288.0L613.0,1287.6L614.5,1287.2L616.0,1286.7L617.5,1286.2L619.0,1285.6L620.5,1285.0L622.0,1284.4L623.5,1283.7L625.0,1282.9L626.5,1282.2L628.0,1281.4L629.5,1280.6L631.0,1279.8L632.5,1279.0L634.0,1278.1L635.5,1277.2L637.0,1276.3L638.5,1275.4L640.0,1274.5L641.5,1273.5L643.0,1272.5L644.5,1271.5L646.0,1270.4L647.5,1269.3L649.0,1268.2L650.5,1267.1L652.0,1266.0L653.5,1264.8L655.0,1263.6L656.5,1262.3L658.0,1261.1L659.5,1259.8L661.0,1258.5L662.5,1257.1L664.0,1255.8L665.5,1254.4L667.0,1252.9L668.5,1251.5L670.0,1250.0L671.5,1248.5L673.0,1247.0L674.5,1245.4L676.0,1243.8L677.5,1242.2L679.0,1240.5L680.5,1238.8L682.0,1237.1L683.5,1235.4L685.0,1233.7L686.5,1231.9L688.0,1230.1L689.5,1228.3L691.0,1226.5L692.5,1224.7L694.0,1222.9L695.5,1221.1L697.0,1219.3L698.5,1217.5L700.0,1215.7L701.5,1213.9L703.0,1212.1L704.5,1210.3L706.0,1208.6L707.5,1206.9L709.0,1205.2L710.5,1203.5L712.0,1201.8L713.5,1200.2L715.0,1198.6L716.5,1197.1L718.0,1195.5L719.5,1194.0L721.0,1192.6L722.5,1191.1L724.0,1189.7L725.5,1188.4L727.0,1187.0L728.5,1185.7L730.0,1184.4L731.5,1183.2L733.0,1182.0L734.5,1180.8L736.0,1179.7L737.5,1178.6L739.0,1177.5L740.5,1176.4L742.0,1175.4L743.5,1174.4L745.0,1173.4L746.5,1172.5L748.0,1171.6L749.5,1170.7L751.0,1169.8L752.5,1169.0L754.0,1168.2L755.5,1167.4L757.0,1166.7L758.5,1166.0L760.0,1165.3L761.5,1164.6L763.0,1164.0L764.5,1163.4L766.0,1162.8L767.5,1162.2L769.0,1161.7L770.5,1161.2L772.0,1160.7L773.5,1160.3L775.0,1159.8L776.5,1159.4L778.0,1159.1L779.5,1158.7L781.0,1158.4L782.5,1158.1L784.0,1157.8L785.5,1157.5L787.0,1157.3L788.5,1157.1L790.0,1156.9L791.5,1156.8L793.0,1156.7L794.5,1156.6L796.0,1156.6L797.5,1156.6L799.0,1156.6L800.5,1156.6L802.0,1156.7L803.5,1156.9L805.0,1157.1L806.5,1157.3L808.0,1157.6L809.5,1157.9L811.0,1158.3L812.5,1158.7L814.0,1159.3L815.5,1159.9L817.0,1160.5L818.5,1161.3L820.0,1162.1L821.5,1163.0L823.0,1164.1L824.5,1165.2L826.0,1166.4L827.5,1167.7L829.0,1169.1L830.5,1170.7L832.0,1172.3L833.5,1174.1L835.0,1176.0L836.5,1178.1L838.0,1180.2L839.5,1182.5L841.0,1184.9L842.5,1187.4L844.0,1190.0L845.5,1192.7L847.0,1195.5L848.5,1198.2L850.0,1201.0L851.5,1203.8L853.0,1206.6L854.5,1209.3L856.0,1212.0L857.5,1214.6L859.0,1217.1L860.5,1219.6L862.0,1221.9L863.5,1224.2L865.0,1226.3L866.5,1228.4L868.0,1230.3L869.5,1232.2L871.0,1234.0L872.5,1235.7L874.0,1237.4L875.5,1238.9L877.0,1240.5L878.5,1241.9L880.0,1243.3L881.5,1244.6L883.0,1245.9L884.5,1247.2L886.0,1248.4L887.5,1249.5L889.0,1250.6L890.5,1251.7L892.0,1252.7L893.5,1253.7L895.0,1254.6L896.5,1255.5L898.0,1256.4L899.5,1257.2L901.0,1258.0L902.5,1258.8L904.0,1259.5L905.5,1260.3L907.0,1261.0L908.5,1261.6L910.0,1262.2L911.5,1262.8L913.0,1263.4L914.5,1264.0L916.0,1264.5L917.5,1265.0L919.0,1265.4L920.5,1265.8L922.0,1266.3L923.5,1266.6L925.0,1267.0L926.5,1267.3L928.0,1267.6L929.5,1267.9L931.0,1268.1L932.5,1268.3L934.0,1268.6L935.5,1268.7L937.0,1268.9L938.5,1269.1L940.0,1269.2L941.5,1269.4L943.0,1269.5L944.5,1269.6L946.0,1269.7L947.5,1269.9L949.0,1270.0L950.5,1270.1L952.0,1270.2L953.5,1270.2L955.0,1270.3L956.5,1270.4L958.0,1270.5L959.5,1270.6L961.0,1270.7L962.5,1270.7L964.0,1270.8L965.5,1270.9L967.0,1271.0L968.5,1271.1L970.0,1271.1L971.5,1271.2L973.0,1271.3L974.5,1271.4L976.0,1271.5L977.5,1271.6L979.0,1271.7L980.5,1271.8L982.0,1271.9L983.5,1272.1L985.0,1272.2L986.5,1272.3L988.0,1272.5L989.5,1272.7L991.0,1272.9L992.5,1273.1L994.0,1273.3L995.5,1273.6L997.0,1273.9L998.5,1274.2L1000.0,1274.5L1001.5,1274.9L1003.0,1275.3L1004.5,1275.7L1006.0,1276.2L1007.5,1276.7L1009.0,1277.3L1010.5,1277.8L1012.0,1278.4L1013.5,1279.0L1015.0,1279.6L1016.5,1280.2L1018.0,1280.8L1019.5,1281.3L1021.0,1281.8L1022.5,1282.2L1024.0,1282.6L1025.5,1283.0L1027.0,1283.3L1028.5,1283.6L1030.0,1284.0L1031.5,1284.3L1033.0,1284.6L1034.5,1284.9L1036.0,1285.2L1037.5,1285.5L1039.0,1285.8L1040.5,1286.1L1042.0,1286.5L1043.5,1286.7L1045.0,1287.0L1046.5,1287.3L1048.0,1287.6L1049.5,1287.9L1051.0,1288.2L1052.5,1288.5L1054.0,1288.7L1055.5,1289.0L1057.0,1289.3L1058.5,1289.7L1060.0,1290.1L1061.5,1290.6L1063.0,1291.1L1064.5,1291.7L1066.0,1292.3L1067.5,1292.9L1069.0,1293.5L1070.5,1294.0L1072.0,1294.3L1073.5,1294.6L1075.0,1294.8L1076.5,1294.9L1078.0,1294.9L1079.5,1294.8L1081.0,1294.7L1082.5,1294.6L1084.0,1294.5L1085.5,1294.3L1087.0,1294.0L1088.5,1293.8L1090.0,1293.5L1091.5,1293.1L1093.0,1292.8L1094.5,1292.4L1096.0,1292.0L1097.5,1291.5L1099.0,1291.0L1100.5,1290.5L1102.0,1290.0L1103.5,1289.4L1105.0,1288.8L1106.5,1288.2L1108.0,1287.6L1109.5,1286.9L1111.0,1286.3L1112.5,1285.6L1114.0,1284.9L1115.5,1284.2L1117.0,1283.5L1118.5,1282.8L1120.0,1282.0L1121.5,1281.3L1123.0,1280.5L1124.5,1279.7L1126.0,1278.9L1127.5,1278.1L1129.0,1277.2L1130.5,1276.4L1132.0,1275.5L1133.5,1274.6L1135.0,1273.7L1136.5,1272.7L1138.0,1271.7L1139.5,1270.7L1141.0,1269.7L1142.5,1268.7L1144.0,1267.6L1145.5,1266.5L1147.0,1265.4L1148.5,1264.2L1150.0,1263.0L1151.5,1261.8L1153.0,1260.6L1154.5,1259.3L1156.0,1258.0L1157.5,1256.7L1159.0,1255.4L1160.5,1254.0L1162.0,1252.6L1163.5,1251.1L1165.0,1249.7L1166.5,1248.2L1168.0,1246.6L1169.5,1245.1L1171.0,1243.5L1172.5,1241.8L1174.0,1240.2L1175.5,1238.5L1177.0,1236.7L1178.5,1235.0L1180.0,1233.2L1181.5,1231.3L1183.0,1229.5L1184.5,1227.6L1186.0,1225.6L1187.5,1223.6L1189.0,1221.6L1190.5,1219.6L1192.0,1217.5L1193.5,1215.3L1195.0,1213.2L1196.5,1210.9L1198.0,1208.7L1199.5,1206.4L1201.0,1204.0L1202.5,1201.7L1204.0,1199.2L1205.5,1196.8L1207.0,1194.3L1208.5,1191.7L1210.0,1189.1L1211.5,1186.4L1213.0,1183.7L1214.5,1181.0L1216.0,1178.2L1217.5,1175.3L1219.0,1172.4L1220.5,1169.4L1222.0,1166.4L1223.5,1163.3L1225.0,1160.1L1226.5,1156.9L1228.0,1153.6L1229.5,1150.3L1231.0,1146.9L1232.5,1143.4L1234.0,1139.9L1235.5,1136.3L1237.0,1132.6L1238.5,1128.9L1240.0,1125.1L1241.5,1121.2L1243.0,1117.3L1244.5,1113.3L1246.0,1109.3L1247.5,1105.1L1249.0,1101.0L1250.5,1096.7L1252.0,1092.4L1253.5,1088.1L1255.0,1083.7L1256.5,1079.3L1258.0,1074.8L1259.5,1070.3L1261.0,1065.7L1262.5,1061.2L1264.0,1056.6L1265.5,1051.9L1267.0,1047.3L1268.5,1042.6L1270.0,1037.9L1271.5,1033.2L1273.0,1028.4L1274.5,1023.7L1276.0,1018.9L1277.5,1014.1L1279.0,1009.2L1280.5,1004.4L1282.0,999.5L1283.5,994.6L1285.0,989.6L1286.5,984.7L1288.0,979.7L1289.5,974.7L1291.0,969.6L1292.5,964.6L1294.0,959.5L1295.5,954.4L1297.0,949.3L1298.5,944.2L1300.0,939.0L1301.5,933.9L1303.0,928.7L1304.5,923.5L1306.0,918.2L1307.5,913.0L1309.0,907.7L1310.5,902.4L1312.0,897.1L1313.5,891.8L1315.0,886.4L1316.5,881.1L1318.0,875.7L1319.5,870.3L1321.0,864.8L1322.5,859.4L1324.0,853.9L1325.5,848.4L1327.0,842.9L1328.5,837.4L1330.0,831.9L1331.5,826.3L1333.0,820.7L1334.5,815.1L1336.0,809.5L1337.5,803.9L1339.0,798.2L1340.5,792.5L1342.0,786.8L1343.5,781.1L1345.0,775.3L1346.5,769.6L1348.0,763.8L1349.5,758.0L1351.0,752.2L1352.5,746.3L1354.0,740.5L1355.5,734.6L1357.0,728.7L1358.5,722.7L1360.0,716.8L1361.5,710.8L1363.0,704.8L1364.5,698.8L1366.0,692.8L1367.5,686.7L1369.0,680.6L1370.5,674.5L1372.0,668.4L1373.5,662.3L1375.0,656.1L1376.5,649.9L1378.0,643.7L1379.5,637.5L1381.0,631.3L1382.5,625.0L1384.0,618.8L1385.5,612.5L1387.0,606.2L1388.5,599.8L1390.0,593.5L1391.5,587.1L1393.0,580.8L1394.5,574.4L1396.0,568.0L1397.5,561.6L1399.0,555.1L1400.5,548.7L1402.0,542.2L1403.5,535.8L1405.0,529.3L1406.5,522.8L1408.0,516.3L1409.5,509.8L1411.0,503.3L1412.5,496.8L1414.0,490.3L1415.5,483.7L1417.0,477.2L1418.5,470.7L1420.0,464.1L1421.5,457.6L1423.0,451.0L1424.5,444.5L1426.0,438.0L1427.5,431.4L1429.0,424.9L1430.5,418.3L1432.0,411.8L1433.5,405.3L1435.0,398.7L1436.5,392.2L1438.0,385.7L1439.5,379.2L1441.0,372.7L1442.5,366.2L1444.0,359.6L1445.5,353.1L1447.0,346.6L1448.5,340.1L1450.0,333.5L1451.5,327.0L1453.0,320.5L1454.5,313.9L1456.0,307.4L1457.5,300.8L1459.0,294.2L1460.5,287.7L1462.0,281.1L1463.5,274.5L1465.0,267.9L1466.5,261.3L1468.0,254.7L1469.5,248.0L1471.0,241.4L1472.5,234.7L1474.0,228.0L1475.5,221.4L1477.0,214.9L1478.5,208.7L1480.0,202.9L1481.5,197.4L1483.0,192.3L1484.5,187.5L1486.0,183.1L1487.5,179.0L1489.0,175.3L1490.5,171.8L1492.0,168.6L1493.5,165.6L1495.0,162.8L1496.5,160.2L1498.0,157.7L1499.5,155.5L1501.0,153.4L1502.5,151.4L1504.0,149.6L1505.5,147.8L1507.0,146.2L1508.5,144.7L1510.0,143.3L1511.5,141.9L1513.0,140.7L1514.5,139.5L1516.0,138.5L1517.5,137.6L1519.0,136.8L1520.5,136.2L1522.0,135.7L1523.5,135.5L1525.0,135.5L1526.5,135.7L1528.0,136.0L1529.5,136.6L1531.0,137.4L1532.5,138.5L1534.0,139.8L1535.5,141.3L1537.0,143.0L1538.5,145.1L1540.0,147.4L1541.5,150.0L1543.0,152.8L1544.5,155.9L1546.0,159.3L1547.5,162.9L1549.0,166.8L1550.5,170.8L1552.0,175.0L1553.5,179.3L1555.0,183.6L1556.5,188.1L1558.0,192.7L1559.5,197.5L1561.0,202.3L1562.5,207.4L1564.0,212.6L1565.5,217.9L1567.0,223.5L1568.5,229.2L1570.0,235.2L1571.5,241.4L1573.0,247.9L1574.5,254.7L1576.0,261.8L1577.5,269.3L1579.0,277.0L1580.5,285.2L1582.0,293.8L1583.5,302.8L1585.0,312.1L1586.5,321.8L1588.0,331.8L1589.5,342.0L1591.0,352.3L1592.5,362.6L1594.0,373.0L1595.5,383.4L1597.0,393.8L1598.5,404.3L1600.0,414.9L1601.5,425.4L1603.0,436.0L1604.5,446.7L1606.0,457.4L1607.5,468.0L1609.0,478.8L1610.5,489.5L1612.0,500.3L1613.5,511.1L1615.0,521.9L1616.5,532.7L1618.0,543.5L1619.5,554.3L1621.0,565.1L1622.5,576.0L1624.0,586.8L1625.5,597.6L1627.0,608.5L1628.5,619.3L1630.0,630.1L1631.5,640.9L1633.0,651.6L1634.5,662.4L1636.0,673.1L1637.5,683.8L1639.0,694.5L1640.5,705.1L1642.0,715.8L1643.5,726.3L1645.0,736.9L1646.5,747.4L1648.0,757.9L1649.5,768.3L1651.0,778.7L1652.5,789.1L1654.0,799.4L1655.5,809.6L1657.0,819.8L1658.5,830.0L1660.0,840.0L1661.5,850.1L1663.0,860.1L1664.5,870.0L1666.0,879.9L1667.5,889.7L1669.0,899.4L1670.5,909.0L1672.0,918.6L1673.5,928.0L1675.0,937.3L1676.5,946.5L1678.0,955.6L1679.5,964.6L1681.0,973.4L1682.5,982.1L1684.0,990.7L1685.5,999.2L1687.0,1007.5L1688.5,1015.6L1690.0,1023.7L1691.5,1031.6L1693.0,1039.3L1694.5,1047.0L1696.0,1054.5L1697.5,1061.8L1699.0,1069.1L1700.5,1076.2L1702.0,1083.2L1703.5,1090.1L1705.0,1096.9L1706.5,1103.6L1708.0,1110.1L1709.5,1116.6L1711.0,1122.9L1712.5,1129.1L1714.0,1135.3L1715.5,1141.3L1717.0,1147.2L1718.5,1153.1L1720.0,1158.8L1721.5,1164.5L1723.0,1170.0L1724.5,1175.5L1726.0,1180.8L1727.5,1186.1L1729.0,1191.2L1730.5,1196.2L1732.0,1201.2L1733.5,1206.0L1735.0,1210.7L1736.5,1215.4L1738.0,1219.9L1739.5,1224.4L1741.0,1228.7L1742.5,1233.0L1744.0,1237.2L1745.5,1241.3L1747.0,1245.4L1748.5,1249.3L1750.0,1253.2L1751.5,1257.0L1753.0,1260.8L1754.5,1264.5L1756.0,1268.1L1757.5,1271.6L1759.0,1275.1L1760.5,1278.5L1762.0,1281.8L1763.5,1285.0L1765.0,1288.1L1766.5,1291.1L1768.0,1294.1L1769.5,1296.9L1771.0,1299.7L1772.5,1302.4L1774.0,1305.0L1775.5,1307.5L1777.0,1310.0L1778.5,1312.3L1780.0,1314.6L1781.5,1316.8L1783.0,1319.0L1784.5,1321.1L1786.0,1323.1L1787.5,1325.0L1789.0,1326.9L1790.5,1328.7L1792.0,1330.5L1793.5,1332.2L1795.0,1333.8L1796.5,1335.4L1798.0,1337.0L1799.5,1338.5L1801.0,1339.9L1802.5,1341.3L1804.0,1342.7L1805.5,1344.0L1807.0,1345.3L1808.5,1346.5L1810.0,1347.7L1811.5,1348.9L1813.0,1350.0L1814.5,1351.1L1816.0,1352.2L1817.5,1353.3L1819.0,1354.3L1820.5,1355.3L1822.0,1356.2L1823.5,1357.2L1825.0,1358.1L1826.5,1358.9L1828.0,1359.8L1829.5,1360.6L1831.0,1361.4L1832.5,1362.2L1834.0,1363.0L1835.5,1363.7L1837.0,1364.4L1838.5,1365.1L1840.0,1365.8L1841.5,1366.4L1843.0,1367.0L1844.5,1367.6L1846.0,1368.2L1847.5,1368.8L1849.0,1369.3L1850.5,1369.8L1852.0,1370.3L1853.5,1370.8L1855.0,1371.2L1856.5,1371.6L1858.0,1372.0L1859.5,1372.4L1861.0,1372.8L1862.5,1373.1L1864.0,1373.5L1865.5,1373.8L1867.0,1374.1L1868.5,1374.4L1870.0,1374.6L1871.5,1374.9L1873.0,1375.1L1874.5,1375.3L1876.0,1375.5L1877.5,1375.7L1879.0,1375.9L1880.5,1376.1L1882.0,1376.3L1883.5,1376.4L1885.0,1376.6L1886.5,1376.7L1888.0,1376.8L1889.5,1376.9L1891.0,1377.0L1892.5,1377.1L1894.0,1377.2L1895.5,1377.3L1897.0,1377.4L1898.5,1377.4L1900.0,1377.5L1901.5,1377.5L1903.0,1377.6L1904.5,1377.6L1906.0,1377.7L1907.5,1377.7L1909.0,1377.8L1910.5,1377.8L1912.0,1377.8L1913.5,1377.9L1915.0,1377.9L1916.5,1377.9L1918.0,1378.0L1919.5,1378.0L1921.0,1378.0L1922.5,1378.0L1924.0,1378.1L1925.5,1378.1L1927.0,1378.1L1928.5,1378.2L1930.0,1378.2L1931.5,1378.2L1933.0,1378.3L1934.5,1378.3L1936.0,1378.4L1937.5,1378.4L1939.0,1378.5L1940.5,1378.5L1942.0,1378.6L1943.5,1378.6L1945.0,1378.7L1946.5,1378.8L1948.0,1378.8L1949.5,1378.9L1951.0,1379.0L1952.5,1379.0L1954.0,1379.1L1955.5,1379.2L1957.0,1379.3L1958.5,1379.3L1960.0,1379.4L1961.5,1379.5L1963.0,1379.6L1964.5,1379.6L1966.0,1379.7L1967.5,1379.8L1969.0,1379.9L1970.5,1380.0L1972.0,1380.1L1973.5,1380.1L1975.0,1380.2L1976.5,1380.3L1978.0,1380.4L1979.5,1380.5L1981.0,1380.6L1982.5,1380.7L1984.0,1380.8L1985.5,1380.8L1987.0,1380.9L1988.5,1381.0L1990.0,1381.1L1991.5,1381.2L1993.0,1381.3L1994.5,1381.4L1996.0,1381.5L1997.5,1381.6L1999.0,1381.6L2000.5,1381.7L2002.0,1381.8L2003.5,1381.9L2005.0,1382.0L2006.5,1382.1L2008.0,1382.2L2009.5,1382.2L2011.0,1382.3L2012.5,1382.4L2014.0,1382.5L2015.5,1382.6L2017.0,1382.6L2018.5,1382.7L2020.0,1382.8L2021.5,1382.8L2023.0,1382.9L2024.5,1383.0L2026.0,1383.1L2027.5,1383.1L2029.0,1383.2L2030.5,1383.2L2032.0,1383.3L2033.5,1383.4L2035.0,1383.4L2036.5,1383.5L2038.0,1383.5L2039.5,1383.6L2041.0,1383.6L2042.5,1383.7L2044.0,1383.7L2045.5,1383.7L2047.0,1383.8L2048.5,1383.8L2050.0,1383.8L2051.5,1383.9L2053.0,1383.9L2054.5,1383.9L2056.0,1383.9L2057.5,1384.0L2059.0,1384.0L2060.5,1384.0L2062.0,1384.0L2063.5,1384.0L2065.0,1384.0L2066.5,1384.0L2068.0,1384.0L2069.5,1384.0L2071.0,1384.1L2072.5,1384.1L2074.0,1384.1L2075.5,1384.1L2077.0,1384.1L2078.5,1384.1L2080.0,1384.1L2081.5,1384.1L2083.0,1384.1L2084.5,1384.1L2086.0,1384.1L2087.5,1384.0L2089.0,1384.0L2090.5,1384.0L2092.0,1384.0L2093.5,1384.0L2095.0,1384.0L2096.5,1384.0L2098.0,1384.0L2099.5,1384.0L2101.0,1384.0L2102.5,1384.0L2104.0,1384.0L2105.5,1384.0L2107.0,1384.0L2108.5,1384.0L2110.0,1384.0L2111.5,1384.0L2113.0,1384.0L2114.5,1384.0L2116.0,1384.0L2117.5,1384.0L2119.0,1384.0L2120.5,1384.0L2122.0,1384.0L2123.5,1384.0L2125.0,1384.0L2126.5,1384.0L2128.0,1384.0L2129.5,1384.0L2131.0,1384.0L2132.5,1384.0L2134.0,1384.0L2135.5,1384.1L2137.0,1384.1L2138.5,1384.1L2140.0,1384.1L2141.5,1384.2L2143.0,1384.2L2144.5,1384.2L2146.0,1384.2L2147.5,1384.3L2149.0,1384.3L2150.5,1384.4L2152.0,1384.4L2153.5,1384.4L2155.0,1384.5L2156.5,1384.5L2158.0,1384.6L2159.5,1384.6L2161.0,1384.7L2162.5,1384.8L2164.0,1384.8L2165.5,1384.9L2167.0,1385.0" fill="none" stroke="#902a7c" stroke-width="14" stroke-linejoin="round"/>
<path d="M310.0,1142.6L311.5,1142.0L313.0,1140.9L314.5,1139.5L316.0,1137.9L317.5,1136.1L319.0,1134.0L320.5,1131.7L322.0,1129.3L323.5,1126.8L325.0,1124.3L326.5,1121.8L328.0,1119.3L329.5,1116.9L331.0,1114.6L332.5,1112.4L334.0,1110.4L335.5,1108.5L337.0,1106.8L338.5,1105.3L340.0,1103.9L341.5,1102.7L343.0,1101.6L344.5,1100.7L346.0,1099.9L347.5,1099.2L349.0,1098.7L350.5,1098.3L352.0,1098.1L353.5,1098.1L355.0,1098.3L356.5,1098.6L358.0,1099.1L359.5,1099.8L361.0,1100.7L362.5,1101.8L364.0,1103.0L365.5,1104.4L367.0,1106.0L368.5,1107.8L370.0,1109.7L371.5,1111.9L373.0,1114.3L374.5,1116.9L376.0,1119.9L377.5,1123.2L379.0,1127.1L380.5,1131.7L382.0,1137.2L383.5,1143.7L385.0,1151.0L386.5,1158.0L388.0,1164.3L389.5,1170.0L391.0,1175.3L392.5,1180.5L394.0,1185.7L395.5,1191.0L397.0,1196.5L398.5,1202.3L400.0,1209.0L401.5,1216.8L403.0,1225.8L404.5,1234.8L406.0,1242.7L407.5,1249.3L409.0,1254.8L410.5,1259.4L412.0,1263.5L413.5,1267.0L415.0,1270.2L416.5,1273.1L418.0,1275.7L419.5,1278.0L421.0,1280.1L422.5,1281.9L424.0,1283.5L425.5,1284.9L427.0,1286.1L428.5,1287.1L430.0,1287.9L431.5,1288.6L433.0,1289.2L434.5,1289.6L436.0,1289.9L437.5,1290.2L439.0,1290.3L440.5,1290.4L442.0,1290.5L443.5,1290.4L445.0,1290.3L446.5,1290.2L448.0,1290.0L449.5,1289.8L451.0,1289.5L452.5,1289.2L454.0,1288.8L455.5,1288.4L457.0,1288.0L458.5,1287.6L460.0,1287.1L461.5,1286.6L463.0,1286.1L464.5,1285.5L466.0,1284.9L467.5,1284.3L469.0,1283.7L470.5,1283.0L472.0,1282.4L473.5,1281.7L475.0,1281.0L476.5,1280.3L478.0,1279.6L479.5,1278.9L481.0,1278.1L482.5,1277.4L484.0,1276.7L485.5,1276.0L487.0,1275.3L488.5,1274.6L490.0,1273.9L491.5,1273.2L493.0,1272.5L494.5,1271.8L496.0,1271.2L497.5,1270.6L499.0,1270.0L500.5,1269.4L502.0,1268.9L503.5,1268.4L505.0,1267.9L506.5,1267.4L508.0,1267.0L509.5,1266.6L511.0,1266.2L512.5,1265.8L514.0,1265.5L515.5,1265.2L517.0,1264.9L518.5,1264.7L520.0,1264.5L521.5,1264.3L523.0,1264.1L524.5,1264.0L526.0,1263.9L527.5,1263.8L529.0,1263.8L530.5,1263.7L532.0,1263.7L533.5,1263.8L535.0,1263.8L536.5,1263.9L538.0,1264.0L539.5,1264.2L541.0,1264.3L542.5,1264.5L544.0,1264.7L545.5,1265.0L547.0,1265.3L548.5,1265.6L550.0,1265.9L551.5,1266.3L553.0,1266.7L554.5,1267.1L556.0,1267.6L557.5,1268.1L559.0,1268.6L560.5,1269.2L562.0,1269.8L563.5,1270.4L565.0,1271.1L566.5,1271.8L568.0,1272.5L569.5,1273.3L571.0,1274.1L572.5,1274.9L574.0,1275.8L575.5,1276.6L577.0,1277.5L578.5,1278.3L580.0,1279.2L581.5,1280.1L583.0,1280.9L584.5,1281.7L586.0,1282.5L587.5,1283.3L589.0,1284.1L590.5,1284.8L592.0,1285.5L593.5,1286.1L595.0,1286.7L596.5,1287.2L598.0,1287.7L599.5,1288.1L601.0,1288.4L602.5,1288.7L604.0,1288.8L605.5,1288.9L607.0,1288.9L608.5,1288.8L610.0,1288.7L611.5,1288.4L613.0,1288.1L614.5,1287.8L616.0,1287.3L617.5,1286.9L619.0,1286.3L620.5,1285.8L622.0,1285.2L623.5,1284.5L625.0,1283.9L626.5,1283.2L628.0,1282.5L629.5,1281.7L631.0,1281.0L632.5,1280.2L634.0,1279.4L635.5,1278.5L637.0,1277.7L638.5,1276.8L640.0,1275.9L641.5,1274.9L643.0,1274.0L644.5,1273.0L646.0,1272.0L647.5,1271.0L649.0,1270.0L650.5,1268.9L652.0,1267.8L653.5,1266.7L655.0,1265.5L656.5,1264.4L658.0,1263.2L659.5,1262.0L661.0,1260.7L662.5,1259.5L664.0,1258.2L665.5,1256.9L667.0,1255.5L668.5,1254.1L670.0,1252.7L671.5,1251.3L673.0,1249.9L674.5,1248.4L676.0,1246.9L677.5,1245.3L679.0,1243.8L680.5,1242.2L682.0,1240.6L683.5,1239.0L685.0,1237.3L686.5,1235.6L688.0,1234.0L689.5,1232.3L691.0,1230.6L692.5,1228.9L694.0,1227.2L695.5,1225.5L697.0,1223.8L698.5,1222.1L700.0,1220.4L701.5,1218.8L703.0,1217.1L704.5,1215.5L706.0,1213.9L707.5,1212.3L709.0,1210.8L710.5,1209.2L712.0,1207.7L713.5,1206.3L715.0,1204.8L716.5,1203.5L718.0,1202.1L719.5,1200.8L721.0,1199.5L722.5,1198.2L724.0,1197.0L725.5,1195.8L727.0,1194.7L728.5,1193.5L730.0,1192.5L731.5,1191.4L733.0,1190.4L734.5,1189.4L736.0,1188.4L737.5,1187.5L739.0,1186.6L740.5,1185.8L742.0,1184.9L743.5,1184.1L745.0,1183.4L746.5,1182.6L748.0,1181.9L749.5,1181.2L751.0,1180.6L752.5,1180.0L754.0,1179.4L755.5,1178.8L757.0,1178.3L758.5,1177.8L760.0,1177.3L761.5,1176.8L763.0,1176.4L764.5,1176.0L766.0,1175.6L767.5,1175.3L769.0,1175.0L770.5,1174.7L772.0,1174.4L773.5,1174.2L775.0,1174.0L776.5,1173.8L778.0,1173.7L779.5,1173.5L781.0,1173.4L782.5,1173.4L784.0,1173.3L785.5,1173.3L787.0,1173.3L788.5,1173.3L790.0,1173.4L791.5,1173.5L793.0,1173.7L794.5,1173.8L796.0,1174.0L797.5,1174.3L799.0,1174.5L800.5,1174.9L802.0,1175.2L803.5,1175.6L805.0,1176.1L806.5,1176.6L808.0,1177.1L809.5,1177.7L811.0,1178.4L812.5,1179.2L814.0,1180.0L815.5,1180.9L817.0,1181.9L818.5,1182.9L820.0,1184.1L821.5,1185.4L823.0,1186.7L824.5,1188.2L826.0,1189.7L827.5,1191.4L829.0,1193.2L830.5,1195.2L832.0,1197.2L833.5,1199.4L835.0,1201.7L836.5,1204.1L838.0,1206.6L839.5,1209.2L841.0,1212.0L842.5,1214.8L844.0,1217.8L845.5,1220.8L847.0,1223.8L848.5,1226.9L850.0,1229.9L851.5,1233.0L853.0,1236.0L854.5,1238.9L856.0,1241.8L857.5,1244.6L859.0,1247.3L860.5,1249.9L862.0,1252.4L863.5,1254.8L865.0,1257.1L866.5,1259.2L868.0,1261.3L869.5,1263.2L871.0,1265.1L872.5,1266.9L874.0,1268.6L875.5,1270.3L877.0,1271.9L878.5,1273.4L880.0,1274.8L881.5,1276.2L883.0,1277.6L884.5,1278.8L886.0,1280.1L887.5,1281.3L889.0,1282.4L890.5,1283.5L892.0,1284.5L893.5,1285.5L895.0,1286.4L896.5,1287.3L898.0,1288.2L899.5,1289.0L901.0,1289.8L902.5,1290.6L904.0,1291.3L905.5,1291.9L907.0,1292.6L908.5,1293.2L910.0,1293.7L911.5,1294.3L913.0,1294.7L914.5,1295.2L916.0,1295.6L917.5,1296.1L919.0,1296.4L920.5,1296.8L922.0,1297.1L923.5,1297.4L925.0,1297.7L926.5,1297.9L928.0,1298.2L929.5,1298.4L931.0,1298.6L932.5,1298.8L934.0,1298.9L935.5,1299.1L937.0,1299.2L938.5,1299.3L940.0,1299.4L941.5,1299.4L943.0,1299.5L944.5,1299.5L946.0,1299.6L947.5,1299.6L949.0,1299.6L950.5,1299.6L952.0,1299.6L953.5,1299.6L955.0,1299.5L956.5,1299.5L958.0,1299.4L959.5,1299.4L961.0,1299.3L962.5,1299.2L964.0,1299.1L965.5,1299.0L967.0,1298.9L968.5,1298.8L970.0,1298.7L971.5,1298.6L973.0,1298.5L974.5,1298.3L976.0,1298.2L977.5,1298.1L979.0,1297.9L980.5,1297.8L982.0,1297.6L983.5,1297.5L985.0,1297.4L986.5,1297.2L988.0,1297.1L989.5,1296.9L991.0,1296.8L992.5,1296.6L994.0,1296.5L995.5,1296.3L997.0,1296.2L998.5,1296.0L1000.0,1295.9L1001.5,1295.7L1003.0,1295.6L1004.5,1295.5L1006.0,1295.3L1007.5,1295.2L1009.0,1295.1L1010.5,1295.0L1012.0,1294.8L1013.5,1294.7L1015.0,1294.6L1016.5,1294.5L1018.0,1294.4L1019.5,1294.3L1021.0,1294.2L1022.5,1294.1L1024.0,1294.0L1025.5,1293.9L1027.0,1293.8L1028.5,1293.7L1030.0,1293.7L1031.5,1293.6L1033.0,1293.5L1034.5,1293.4L1036.0,1293.3L1037.5,1293.2L1039.0,1293.1L1040.5,1293.0L1042.0,1292.9L1043.5,1292.8L1045.0,1292.7L1046.5,1292.6L1048.0,1292.5L1049.5,1292.3L1051.0,1292.2L1052.5,1292.1L1054.0,1292.0L1055.5,1291.8L1057.0,1291.7L1058.5,1291.5L1060.0,1291.4L1061.5,1291.2L1063.0,1291.0L1064.5,1290.8L1066.0,1290.6L1067.5,1290.4L1069.0,1290.2L1070.5,1290.0L1072.0,1289.8L1073.5,1289.6L1075.0,1289.3L1076.5,1289.0L1078.0,1288.8L1079.5,1288.5L1081.0,1288.2L1082.5,1287.9L1084.0,1287.5L1085.5,1287.2L1087.0,1286.8L1088.5,1286.4L1090.0,1286.0L1091.5,1285.6L1093.0,1285.2L1094.5,1284.7L1096.0,1284.3L1097.5,1283.8L1099.0,1283.3L1100.5,1282.7L1102.0,1282.2L1103.5,1281.6L1105.0,1281.0L1106.5,1280.4L1108.0,1279.7L1109.5,1279.0L1111.0,1278.3L1112.5,1277.6L1114.0,1276.9L1115.5,1276.1L1117.0,1275.3L1118.5,1274.5L1120.0,1273.6L1121.5,1272.8L1123.0,1271.9L1124.5,1271.0L1126.0,1270.0L1127.5,1269.1L1129.0,1268.1L1130.5,1267.1L1132.0,1266.0L1133.5,1264.9L1135.0,1263.8L1136.5,1262.7L1138.0,1261.6L1139.5,1260.4L1141.0,1259.2L1142.5,1258.0L1144.0,1256.7L1145.5,1255.4L1147.0,1254.1L1148.5,1252.8L1150.0,1251.4L1151.5,1250.0L1153.0,1248.6L1154.5,1247.2L1156.0,1245.7L1157.5,1244.2L1159.0,1242.6L1160.5,1241.1L1162.0,1239.5L1163.5,1237.9L1165.0,1236.2L1166.5,1234.5L1168.0,1232.8L1169.5,1231.0L1171.0,1229.3L1172.5,1227.4L1174.0,1225.6L1175.5,1223.7L1177.0,1221.8L1178.5,1219.9L1180.0,1217.9L1181.5,1215.9L1183.0,1213.8L1184.5,1211.7L1186.0,1209.6L1187.5,1207.4L1189.0,1205.3L1190.5,1203.0L1192.0,1200.8L1193.5,1198.4L1195.0,1196.1L1196.5,1193.7L1198.0,1191.3L1199.5,1188.8L1201.0,1186.3L1202.5,1183.8L1204.0,1181.2L1205.5,1178.5L1207.0,1175.8L1208.5,1173.1L1210.0,1170.3L1211.5,1167.5L1213.0,1164.6L1214.5,1161.6L1216.0,1158.7L1217.5,1155.6L1219.0,1152.5L1220.5,1149.3L1222.0,1146.1L1223.5,1142.8L1225.0,1139.5L1226.5,1136.1L1228.0,1132.6L1229.5,1129.1L1231.0,1125.5L1232.5,1121.8L1234.0,1118.1L1235.5,1114.3L1237.0,1110.4L1238.5,1106.5L1240.0,1102.5L1241.5,1098.4L1243.0,1094.3L1244.5,1090.1L1246.0,1085.9L1247.5,1081.6L1249.0,1077.2L1250.5,1072.9L1252.0,1068.4L1253.5,1063.9L1255.0,1059.4L1256.5,1054.9L1258.0,1050.3L1259.5,1045.7L1261.0,1041.1L1262.5,1036.4L1264.0,1031.7L1265.5,1027.1L1267.0,1022.3L1268.5,1017.6L1270.0,1012.9L1271.5,1008.1L1273.0,1003.3L1274.5,998.4L1276.0,993.6L1277.5,988.7L1279.0,983.8L1280.5,978.9L1282.0,974.0L1283.5,969.0L1285.0,964.0L1286.5,959.0L1288.0,953.9L1289.5,948.9L1291.0,943.8L1292.5,938.7L1294.0,933.5L1295.5,928.4L1297.0,923.2L1298.5,918.0L1300.0,912.8L1301.5,907.5L1303.0,902.2L1304.5,896.9L1306.0,891.6L1307.5,886.2L1309.0,880.8L1310.5,875.4L1312.0,870.0L1313.5,864.5L1315.0,859.0L1316.5,853.5L1318.0,848.0L1319.5,842.4L1321.0,836.9L1322.5,831.2L1324.0,825.6L1325.5,820.0L1327.0,814.3L1328.5,808.6L1330.0,802.8L1331.5,797.1L1333.0,791.3L1334.5,785.5L1336.0,779.6L1337.5,773.8L1339.0,767.9L1340.5,762.0L1342.0,756.1L1343.5,750.1L1345.0,744.1L1346.5,738.1L1348.0,732.1L1349.5,726.1L1351.0,720.0L1352.5,713.9L1354.0,707.8L1355.5,701.7L1357.0,695.5L1358.5,689.3L1360.0,683.1L1361.5,676.9L1363.0,670.6L1364.5,664.4L1366.0,658.1L1367.5,651.8L1369.0,645.4L1370.5,639.1L1372.0,632.7L1373.5,626.3L1375.0,619.9L1376.5,613.5L1378.0,607.1L1379.5,600.6L1381.0,594.1L1382.5,587.6L1384.0,581.1L1385.5,574.6L1387.0,568.1L1388.5,561.5L1390.0,554.9L1391.5,548.4L1393.0,541.8L1394.5,535.2L1396.0,528.6L1397.5,522.0L1399.0,515.3L1400.5,508.7L1402.0,502.0L1403.5,495.4L1405.0,488.7L1406.5,482.1L1408.0,475.4L1409.5,468.7L1411.0,462.0L1412.5,455.3L1414.0,448.7L1415.5,442.0L1417.0,435.3L1418.5,428.6L1420.0,421.9L1421.5,415.2L1423.0,408.5L1424.5,401.8L1426.0,395.2L1427.5,388.5L1429.0,381.8L1430.5,375.1L1432.0,368.5L1433.5,361.8L1435.0,355.2L1436.5,348.5L1438.0,341.9L1439.5,335.2L1441.0,328.6L1442.5,321.9L1444.0,315.3L1445.5,308.6L1447.0,301.9L1448.5,295.3L1450.0,288.6L1451.5,281.9L1453.0,275.2L1454.5,268.5L1456.0,261.8L1457.5,255.1L1459.0,248.4L1460.5,241.6L1462.0,234.8L1463.5,228.1L1465.0,221.3L1466.5,214.5L1468.0,207.6L1469.5,200.8L1471.0,194.0L1472.5,187.2L1474.0,180.6L1475.5,174.4L1477.0,168.5L1478.5,162.9L1480.0,157.8L1481.5,153.0L1483.0,148.6L1484.5,144.5L1486.0,140.7L1487.5,137.1L1489.0,133.9L1490.5,130.8L1492.0,128.0L1493.5,125.3L1495.0,122.8L1496.5,120.5L1498.0,118.3L1499.5,116.3L1501.0,114.4L1502.5,112.6L1504.0,110.9L1505.5,109.3L1507.0,107.9L1508.5,106.5L1510.0,105.1L1511.5,103.9L1513.0,102.8L1514.5,101.9L1516.0,101.0L1517.5,100.4L1519.0,99.9L1520.5,99.7L1522.0,99.7L1523.5,99.9L1525.0,100.3L1526.5,100.9L1528.0,101.7L1529.5,102.8L1531.0,104.1L1532.5,105.7L1534.0,107.5L1535.5,109.6L1537.0,112.0L1538.5,114.7L1540.0,117.7L1541.5,120.9L1543.0,124.4L1544.5,128.1L1546.0,132.1L1547.5,136.2L1549.0,140.5L1550.5,144.8L1552.0,149.3L1553.5,153.9L1555.0,158.7L1556.5,163.5L1558.0,168.5L1559.5,173.7L1561.0,179.0L1562.5,184.6L1564.0,190.3L1565.5,196.3L1567.0,202.5L1568.5,208.9L1570.0,215.7L1571.5,222.7L1573.0,230.1L1574.5,237.9L1576.0,246.0L1577.5,254.5L1579.0,263.5L1580.5,272.8L1582.0,282.6L1583.5,292.7L1585.0,303.1L1586.5,313.6L1588.0,324.2L1589.5,334.8L1591.0,345.5L1592.5,356.3L1594.0,367.1L1595.5,377.9L1597.0,388.8L1598.5,399.7L1600.0,410.7L1601.5,421.7L1603.0,432.7L1604.5,443.7L1606.0,454.8L1607.5,465.9L1609.0,477.1L1610.5,488.2L1612.0,499.3L1613.5,510.5L1615.0,521.7L1616.5,532.9L1618.0,544.1L1619.5,555.3L1621.0,566.4L1622.5,577.6L1624.0,588.8L1625.5,600.0L1627.0,611.1L1628.5,622.2L1630.0,633.3L1631.5,644.4L1633.0,655.5L1634.5,666.5L1636.0,677.5L1637.5,688.5L1639.0,699.5L1640.5,710.4L1642.0,721.2L1643.5,732.1L1645.0,742.8L1646.5,753.6L1648.0,764.3L1649.5,774.9L1651.0,785.5L1652.5,796.0L1654.0,806.5L1655.5,817.0L1657.0,827.3L1658.5,837.6L1660.0,847.9L1661.5,858.1L1663.0,868.2L1664.5,878.3L1666.0,888.3L1667.5,898.2L1669.0,907.9L1670.5,917.6L1672.0,927.2L1673.5,936.6L1675.0,945.9L1676.5,955.1L1678.0,964.2L1679.5,973.1L1681.0,981.8L1682.5,990.5L1684.0,999.0L1685.5,1007.3L1687.0,1015.6L1688.5,1023.6L1690.0,1031.6L1691.5,1039.4L1693.0,1047.1L1694.5,1054.6L1696.0,1062.0L1697.5,1069.3L1699.0,1076.5L1700.5,1083.6L1702.0,1090.5L1703.5,1097.3L1705.0,1104.0L1706.5,1110.6L1708.0,1117.1L1709.5,1123.5L1711.0,1129.8L1712.5,1135.9L1714.0,1142.0L1715.5,1148.0L1717.0,1153.9L1718.5,1159.7L1720.0,1165.3L1721.5,1170.9L1723.0,1176.4L1724.5,1181.7L1726.0,1187.0L1727.5,1192.1L1729.0,1197.2L1730.5,1202.1L1732.0,1206.9L1733.5,1211.7L1735.0,1216.3L1736.5,1220.9L1738.0,1225.4L1739.5,1229.7L1741.0,1234.0L1742.5,1238.2L1744.0,1242.4L1745.5,1246.4L1747.0,1250.4L1748.5,1254.3L1750.0,1258.1L1751.5,1261.9L1753.0,1265.6L1754.5,1269.2L1756.0,1272.8L1757.5,1276.2L1759.0,1279.6L1760.5,1282.9L1762.0,1286.0L1763.5,1289.1L1765.0,1292.2L1766.5,1295.1L1768.0,1297.9L1769.5,1300.6L1771.0,1303.3L1772.5,1305.9L1774.0,1308.4L1775.5,1310.8L1777.0,1313.1L1778.5,1315.3L1780.0,1317.5L1781.5,1319.6L1783.0,1321.7L1784.5,1323.7L1786.0,1325.6L1787.5,1327.4L1789.0,1329.2L1790.5,1331.0L1792.0,1332.7L1793.5,1334.3L1795.0,1335.9L1796.5,1337.4L1798.0,1338.9L1799.5,1340.3L1801.0,1341.7L1802.5,1343.0L1804.0,1344.4L1805.5,1345.6L1807.0,1346.9L1808.5,1348.1L1810.0,1349.2L1811.5,1350.3L1813.0,1351.4L1814.5,1352.5L1816.0,1353.6L1817.5,1354.6L1819.0,1355.5L1820.5,1356.5L1822.0,1357.4L1823.5,1358.3L1825.0,1359.2L1826.5,1360.0L1828.0,1360.9L1829.5,1361.7L1831.0,1362.4L1832.5,1363.2L1834.0,1363.9L1835.5,1364.6L1837.0,1365.3L1838.5,1365.9L1840.0,1366.6L1841.5,1367.2L1843.0,1367.8L1844.5,1368.3L1846.0,1368.9L1847.5,1369.4L1849.0,1369.9L1850.5,1370.4L1852.0,1370.8L1853.5,1371.3L1855.0,1371.7L1856.5,1372.1L1858.0,1372.4L1859.5,1372.8L1861.0,1373.1L1862.5,1373.5L1864.0,1373.8L1865.5,1374.0L1867.0,1374.3L1868.5,1374.6L1870.0,1374.8L1871.5,1375.0L1873.0,1375.2L1874.5,1375.4L1876.0,1375.6L1877.5,1375.8L1879.0,1376.0L1880.5,1376.1L1882.0,1376.3L1883.5,1376.4L1885.0,1376.5L1886.5,1376.6L1888.0,1376.7L1889.5,1376.8L1891.0,1376.9L1892.5,1377.0L1894.0,1377.1L1895.5,1377.2L1897.0,1377.2L1898.5,1377.3L1900.0,1377.3L1901.5,1377.4L1903.0,1377.4L1904.5,1377.5L1906.0,1377.5L1907.5,1377.5L1909.0,1377.6L1910.5,1377.6L1912.0,1377.6L1913.5,1377.7L1915.0,1377.7L1916.5,1377.7L1918.0,1377.8L1919.5,1377.8L1921.0,1377.8L1922.5,1377.9L1924.0,1377.9L1925.5,1377.9L1927.0,1378.0L1928.5,1378.0L1930.0,1378.1L1931.5,1378.1L1933.0,1378.2L1934.5,1378.2L1936.0,1378.3L1937.5,1378.3L1939.0,1378.4L1940.5,1378.5L1942.0,1378.5L1943.5,1378.6L1945.0,1378.7L1946.5,1378.7L1948.0,1378.8L1949.5,1378.9L1951.0,1378.9L1952.5,1379.0L1954.0,1379.1L1955.5,1379.2L1957.0,1379.3L1958.5,1379.3L1960.0,1379.4L1961.5,1379.5L1963.0,1379.6L1964.5,1379.7L1966.0,1379.8L1967.5,1379.8L1969.0,1379.9L1970.5,1380.0L1972.0,1380.1L1973.5,1380.2L1975.0,1380.3L1976.5,1380.4L1978.0,1380.5L1979.5,1380.6L1981.0,1380.7L1982.5,1380.8L1984.0,1380.9L1985.5,1380.9L1987.0,1381.0L1988.5,1381.1L1990.0,1381.2L1991.5,1381.3L1993.0,1381.4L1994.5,1381.5L1996.0,1381.6L1997.5,1381.7L1999.0,1381.8L2000.5,1381.8L2002.0,1381.9L2003.5,1382.0L2005.0,1382.1L2006.5,1382.2L2008.0,1382.3L2009.5,1382.4L2011.0,1382.4L2012.5,1382.5L2014.0,1382.6L2015.5,1382.7L2017.0,1382.8L2018.5,1382.8L2020.0,1382.9L2021.5,1383.0L2023.0,1383.0L2024.5,1383.1L2026.0,1383.2L2027.5,1383.2L2029.0,1383.3L2030.5,1383.3L2032.0,1383.4L2033.5,1383.5L2035.0,1383.5L2036.5,1383.6L2038.0,1383.6L2039.5,1383.6L2041.0,1383.7L2042.5,1383.7L2044.0,1383.8L2045.5,1383.8L2047.0,1383.8L2048.5,1383.9L2050.0,1383.9L2051.5,1383.9L2053.0,1383.9L2054.5,1383.9L2056.0,1384.0L2057.5,1384.0L2059.0,1384.0L2060.5,1384.0L2062.0,1384.0L2063.5,1384.0L2065.0,1384.0L2066.5,1384.0L2068.0,1384.0L2069.5,1384.0L2071.0,1384.1L2072.5,1384.1L2074.0,1384.1L2075.5,1384.1L2077.0,1384.0L2078.5,1384.0L2080.0,1384.0L2081.5,1384.0L2083.0,1384.0L2084.5,1384.0L2086.0,1384.0L2087.5,1384.0L2089.0,1384.0L2090.5,1384.0L2092.0,1384.0L2093.5,1384.0L2095.0,1384.0L2096.5,1384.0L2098.0,1384.0L2099.5,1384.0L2101.0,1384.0L2102.5,1383.9L2104.0,1383.9L2105.5,1383.9L2107.0,1383.9L2108.5,1383.9L2110.0,1383.9L2111.5,1383.9L2113.0,1383.9L2114.5,1383.9L2116.0,1383.9L2117.5,1383.9L2119.0,1383.9L2120.5,1383.9L2122.0,1383.9L2123.5,1383.9L2125.0,1383.9L2126.5,1384.0L2128.0,1384.0L2129.5,1384.0L2131.0,1384.0L2132.5,1384.0L2134.0,1384.0L2135.5,1384.0L2137.0,1384.1L2138.5,1384.1L2140.0,1384.1L2141.5,1384.1L2143.0,1384.2L2144.5,1384.2L2146.0,1384.2L2147.5,1384.3L2149.0,1384.3L2150.5,1384.4L2152.0,1384.4L2153.5,1384.5L2155.0,1384.5L2156.5,1384.6L2158.0,1384.6L2159.5,1384.7L2161.0,1384.8L2162.5,1384.8L2164.0,1384.9L2165.5,1385.0L2167.0,1385.1" fill="none" stroke="#3a772e" stroke-width="14" stroke-linejoin="round"/>
<line x1="307.5" y1="22" x2="307.5" y2="1408.3" stroke="#0a0a08" stroke-width="4.5"/>
<line x1="305.3" y1="1406" x2="2166" y2="1406" stroke="#0a0a08" stroke-width="4.5"/>
<line x1="2165" y1="24" x2="2165" y2="1404" stroke="#3a3a36" stroke-width="2.2"/>
<line x1="277.5" y1="1384.6" x2="307.5" y2="1384.6" stroke="#0a0a08" stroke-width="4.5"/>
<text x="263" y="1400.1" font-size="58.5" text-anchor="end">0.0</text>
<line x1="291.5" y1="1285.5" x2="307.5" y2="1285.5" stroke="#0a0a08" stroke-width="4.5"/>
<line x1="277.5" y1="1186.4" x2="307.5" y2="1186.4" stroke="#0a0a08" stroke-width="4.5"/>
<text x="263" y="1201.9" font-size="58.5" text-anchor="end">0.1</text>
<line x1="291.5" y1="1087.3" x2="307.5" y2="1087.3" stroke="#0a0a08" stroke-width="4.5"/>
<line x1="277.5" y1="988.2" x2="307.5" y2="988.2" stroke="#0a0a08" stroke-width="4.5"/>
<text x="263" y="1003.7" font-size="58.5" text-anchor="end">0.2</text>
<line x1="291.5" y1="889.1" x2="307.5" y2="889.1" stroke="#0a0a08" stroke-width="4.5"/>
<line x1="277.5" y1="790.0" x2="307.5" y2="790.0" stroke="#0a0a08" stroke-width="4.5"/>
<text x="263" y="805.5" font-size="58.5" text-anchor="end">0.3</text>
<line x1="291.5" y1="690.9" x2="307.5" y2="690.9" stroke="#0a0a08" stroke-width="4.5"/>
<line x1="277.5" y1="591.8" x2="307.5" y2="591.8" stroke="#0a0a08" stroke-width="4.5"/>
<text x="263" y="607.3" font-size="58.5" text-anchor="end">0.4</text>
<line x1="291.5" y1="492.7" x2="307.5" y2="492.7" stroke="#0a0a08" stroke-width="4.5"/>
<line x1="277.5" y1="393.6" x2="307.5" y2="393.6" stroke="#0a0a08" stroke-width="4.5"/>
<text x="263" y="409.1" font-size="58.5" text-anchor="end">0.5</text>
<line x1="291.5" y1="294.5" x2="307.5" y2="294.5" stroke="#0a0a08" stroke-width="4.5"/>
<line x1="277.5" y1="195.4" x2="307.5" y2="195.4" stroke="#0a0a08" stroke-width="4.5"/>
<text x="263" y="210.9" font-size="58.5" text-anchor="end">0.6</text>
<line x1="291.5" y1="96.3" x2="307.5" y2="96.3" stroke="#0a0a08" stroke-width="4.5"/>
<line x1="309.8" y1="1406" x2="309.8" y2="1434.5" stroke="#0a0a08" stroke-width="4.5"/>
<text x="309.8" y="1497" font-size="58.5" text-anchor="middle">300</text>
<line x1="398.9" y1="1406" x2="398.9" y2="1422" stroke="#0a0a08" stroke-width="4.5"/>
<line x1="488.1" y1="1406" x2="488.1" y2="1434.5" stroke="#0a0a08" stroke-width="4.5"/>
<text x="488.1" y="1497" font-size="58.5" text-anchor="middle">350</text>
<line x1="577.2" y1="1406" x2="577.2" y2="1422" stroke="#0a0a08" stroke-width="4.5"/>
<line x1="666.4" y1="1406" x2="666.4" y2="1434.5" stroke="#0a0a08" stroke-width="4.5"/>
<text x="666.4" y="1497" font-size="58.5" text-anchor="middle">400</text>
<line x1="755.5" y1="1406" x2="755.5" y2="1422" stroke="#0a0a08" stroke-width="4.5"/>
<line x1="844.7" y1="1406" x2="844.7" y2="1434.5" stroke="#0a0a08" stroke-width="4.5"/>
<text x="844.7" y="1497" font-size="58.5" text-anchor="middle">450</text>
<line x1="933.8" y1="1406" x2="933.8" y2="1422" stroke="#0a0a08" stroke-width="4.5"/>
<line x1="1023.0" y1="1406" x2="1023.0" y2="1434.5" stroke="#0a0a08" stroke-width="4.5"/>
<text x="1023.0" y="1497" font-size="58.5" text-anchor="middle">500</text>
<line x1="1112.1" y1="1406" x2="1112.1" y2="1422" stroke="#0a0a08" stroke-width="4.5"/>
<line x1="1201.2" y1="1406" x2="1201.2" y2="1434.5" stroke="#0a0a08" stroke-width="4.5"/>
<text x="1201.2" y="1497" font-size="58.5" text-anchor="middle">550</text>
<line x1="1290.4" y1="1406" x2="1290.4" y2="1422" stroke="#0a0a08" stroke-width="4.5"/>
<line x1="1379.5" y1="1406" x2="1379.5" y2="1434.5" stroke="#0a0a08" stroke-width="4.5"/>
<text x="1379.5" y="1497" font-size="58.5" text-anchor="middle">600</text>
<line x1="1468.7" y1="1406" x2="1468.7" y2="1422" stroke="#0a0a08" stroke-width="4.5"/>
<line x1="1557.8" y1="1406" x2="1557.8" y2="1434.5" stroke="#0a0a08" stroke-width="4.5"/>
<text x="1557.8" y="1497" font-size="58.5" text-anchor="middle">650</text>
<line x1="1647.0" y1="1406" x2="1647.0" y2="1422" stroke="#0a0a08" stroke-width="4.5"/>
<line x1="1736.1" y1="1406" x2="1736.1" y2="1434.5" stroke="#0a0a08" stroke-width="4.5"/>
<text x="1736.1" y="1497" font-size="58.5" text-anchor="middle">700</text>
<line x1="1825.3" y1="1406" x2="1825.3" y2="1422" stroke="#0a0a08" stroke-width="4.5"/>
<line x1="1914.4" y1="1406" x2="1914.4" y2="1434.5" stroke="#0a0a08" stroke-width="4.5"/>
<text x="1914.4" y="1497" font-size="58.5" text-anchor="middle">750</text>
<line x1="2003.6" y1="1406" x2="2003.6" y2="1422" stroke="#0a0a08" stroke-width="4.5"/>
<line x1="2092.7" y1="1406" x2="2092.7" y2="1434.5" stroke="#0a0a08" stroke-width="4.5"/>
<text x="2092.7" y="1497" font-size="58.5" text-anchor="middle">800</text>
<text transform="translate(74,713.5) rotate(-90)" font-size="72" text-anchor="middle">Absorbance</text>
<text x="1133" y="1617.5" font-size="72"><tspan font-family="Liberation Serif" font-size="74">λ</tspan> (nm)</text>
<line x1="1657" y1="39" x2="2148" y2="39" stroke="#6a6a66" stroke-width="2.2"/>
<line x1="1657" y1="38" x2="1657" y2="747" stroke="#6a6a66" stroke-width="2.2"/>
<line x1="2148" y1="38" x2="2148" y2="748" stroke="#0a0a08" stroke-width="2.5"/>
<line x1="1656" y1="747" x2="2149" y2="747" stroke="#0a0a08" stroke-width="2.5"/>
<line x1="1689" y1="80.7" x2="1791" y2="80.7" stroke="#070b06" stroke-width="12" stroke-linecap="round"/>
<text x="1816" y="97.0" font-size="46">0 mol.dm<tspan font-size="26" dy="-24">-3</tspan><tspan dy="24" font-size="46"> </tspan><tspan font-style="italic">F</tspan></text>
<line x1="1689" y1="143.2" x2="1791" y2="143.2" stroke="#2e3f85" stroke-width="12" stroke-linecap="round"/>
<text x="1816" y="159.5" font-size="46">1×10<tspan font-size="26" dy="-24">-6</tspan><tspan dy="24" font-size="46"> mol.dm</tspan><tspan font-size="26" dy="-24">-3</tspan></text>
<line x1="1689" y1="205.7" x2="1791" y2="205.7" stroke="#fe4524" stroke-width="12" stroke-linecap="round"/>
<text x="1816" y="222.0" font-size="46">5×10<tspan font-size="26" dy="-24">-6</tspan><tspan dy="24" font-size="46"> mol.dm</tspan><tspan font-size="26" dy="-24">-3</tspan></text>
<line x1="1689" y1="268.3" x2="1791" y2="268.3" stroke="#55b545" stroke-width="12" stroke-linecap="round"/>
<text x="1816" y="284.6" font-size="46">7×10<tspan font-size="26" dy="-24">-6</tspan><tspan dy="24" font-size="46"> mol.dm</tspan><tspan font-size="26" dy="-24">-3</tspan></text>
<line x1="1689" y1="330.8" x2="1791" y2="330.8" stroke="#8ed4c6" stroke-width="12" stroke-linecap="round"/>
<text x="1816" y="347.1" font-size="46">9×10<tspan font-size="26" dy="-24">-6</tspan><tspan dy="24" font-size="46"> mol.dm</tspan><tspan font-size="26" dy="-24">-3</tspan></text>
<line x1="1689" y1="393.3" x2="1791" y2="393.3" stroke="#ab6aa0" stroke-width="12" stroke-linecap="round"/>
<text x="1816" y="409.6" font-size="46">1×10<tspan font-size="26" dy="-24">-5</tspan><tspan dy="24" font-size="46"> mol.dm</tspan><tspan font-size="26" dy="-24">-3</tspan></text>
<line x1="1689" y1="455.8" x2="1791" y2="455.8" stroke="#ffd812" stroke-width="12" stroke-linecap="round"/>
<text x="1816" y="472.1" font-size="46">2×10<tspan font-size="26" dy="-24">-5</tspan><tspan dy="24" font-size="46"> mol.dm</tspan><tspan font-size="26" dy="-24">-3</tspan></text>
<line x1="1689" y1="518.3" x2="1791" y2="518.3" stroke="#857327" stroke-width="12" stroke-linecap="round"/>
<text x="1816" y="534.6" font-size="46">3×10<tspan font-size="26" dy="-24">-5</tspan><tspan dy="24" font-size="46"> mol.dm</tspan><tspan font-size="26" dy="-24">-3</tspan></text>
<line x1="1689" y1="580.9" x2="1791" y2="580.9" stroke="#402b68" stroke-width="12" stroke-linecap="round"/>
<text x="1816" y="597.2" font-size="46">5×10<tspan font-size="26" dy="-24">-5</tspan><tspan dy="24" font-size="46"> mol.dm</tspan><tspan font-size="26" dy="-24">-3</tspan></text>
<line x1="1689" y1="643.4" x2="1791" y2="643.4" stroke="#902a7c" stroke-width="12" stroke-linecap="round"/>
<text x="1816" y="659.7" font-size="46">1×10<tspan font-size="26" dy="-24">-4</tspan><tspan dy="24" font-size="46"> mol.dm</tspan><tspan font-size="26" dy="-24">-3</tspan></text>
<line x1="1689" y1="705.9" x2="1791" y2="705.9" stroke="#3a772e" stroke-width="12" stroke-linecap="round"/>
<text x="1816" y="722.2" font-size="46">1×10<tspan font-size="26" dy="-24">-3</tspan><tspan dy="24" font-size="46"> mol.dm</tspan><tspan font-size="26" dy="-24">-3</tspan></text>
<line x1="439" y1="41.7" x2="1077" y2="41.7" stroke="#b8b8b4" stroke-width="2"/>
<line x1="1077" y1="41" x2="1077" y2="555" stroke="#9a9a96" stroke-width="2"/>
<line x1="439" y1="41" x2="439" y2="555.6" stroke="#0a0a08" stroke-width="2.4"/>
<line x1="438" y1="554.5" x2="1078" y2="554.5" stroke="#0a0a08" stroke-width="2.4"/>
<line x1="435.5" y1="522.6" x2="439" y2="522.6" stroke="#333" stroke-width="1.6"/>
<line x1="432.5" y1="486.6" x2="439" y2="486.6" stroke="#222" stroke-width="1.6"/>
<text x="424.5" y="494.9" font-size="23.5" text-anchor="end">0.1</text>
<line x1="435.5" y1="450.6" x2="439" y2="450.6" stroke="#333" stroke-width="1.6"/>
<line x1="432.5" y1="414.6" x2="439" y2="414.6" stroke="#222" stroke-width="1.6"/>
<text x="424.5" y="422.9" font-size="23.5" text-anchor="end">0.2</text>
<line x1="435.5" y1="378.7" x2="439" y2="378.7" stroke="#333" stroke-width="1.6"/>
<line x1="432.5" y1="342.7" x2="439" y2="342.7" stroke="#222" stroke-width="1.6"/>
<text x="424.5" y="351.0" font-size="23.5" text-anchor="end">0.3</text>
<line x1="435.5" y1="306.7" x2="439" y2="306.7" stroke="#333" stroke-width="1.6"/>
<line x1="432.5" y1="270.7" x2="439" y2="270.7" stroke="#222" stroke-width="1.6"/>
<text x="424.5" y="279.0" font-size="23.5" text-anchor="end">0.4</text>
<line x1="435.5" y1="234.8" x2="439" y2="234.8" stroke="#333" stroke-width="1.6"/>
<line x1="432.5" y1="198.8" x2="439" y2="198.8" stroke="#222" stroke-width="1.6"/>
<text x="424.5" y="207.1" font-size="23.5" text-anchor="end">0.5</text>
<line x1="435.5" y1="162.8" x2="439" y2="162.8" stroke="#333" stroke-width="1.6"/>
<line x1="432.5" y1="126.8" x2="439" y2="126.8" stroke="#222" stroke-width="1.6"/>
<text x="424.5" y="135.1" font-size="23.5" text-anchor="end">0.6</text>
<line x1="435.5" y1="90.9" x2="439" y2="90.9" stroke="#333" stroke-width="1.6"/>
<line x1="432.5" y1="54.9" x2="439" y2="54.9" stroke="#222" stroke-width="1.6"/>
<text x="424.5" y="63.2" font-size="23.5" text-anchor="end">0.7</text>
<line x1="487.5" y1="554.5" x2="487.5" y2="561" stroke="#444" stroke-width="1.6"/>
<text x="487.5" y="586" font-size="23.5" text-anchor="middle" textLength="81" lengthAdjust="spacingAndGlyphs">0.0000</text>
<line x1="543.0" y1="554.5" x2="543.0" y2="558.5" stroke="#444" stroke-width="1.6"/>
<line x1="598.5" y1="554.5" x2="598.5" y2="561" stroke="#444" stroke-width="1.6"/>
<text x="598.5" y="586" font-size="23.5" text-anchor="middle" textLength="81" lengthAdjust="spacingAndGlyphs">0.0002</text>
<line x1="654.0" y1="554.5" x2="654.0" y2="558.5" stroke="#444" stroke-width="1.6"/>
<line x1="709.5" y1="554.5" x2="709.5" y2="561" stroke="#444" stroke-width="1.6"/>
<text x="709.5" y="586" font-size="23.5" text-anchor="middle" textLength="81" lengthAdjust="spacingAndGlyphs">0.0004</text>
<line x1="765.0" y1="554.5" x2="765.0" y2="558.5" stroke="#444" stroke-width="1.6"/>
<line x1="820.5" y1="554.5" x2="820.5" y2="561" stroke="#444" stroke-width="1.6"/>
<text x="820.5" y="586" font-size="23.5" text-anchor="middle" textLength="81" lengthAdjust="spacingAndGlyphs">0.0006</text>
<line x1="876.0" y1="554.5" x2="876.0" y2="558.5" stroke="#444" stroke-width="1.6"/>
<line x1="931.5" y1="554.5" x2="931.5" y2="561" stroke="#444" stroke-width="1.6"/>
<text x="931.5" y="586" font-size="23.5" text-anchor="middle" textLength="81" lengthAdjust="spacingAndGlyphs">0.0008</text>
<line x1="987.0" y1="554.5" x2="987.0" y2="558.5" stroke="#444" stroke-width="1.6"/>
<line x1="1042.5" y1="554.5" x2="1042.5" y2="561" stroke="#444" stroke-width="1.6"/>
<text x="1042.5" y="586" font-size="23.5" text-anchor="middle" textLength="81" lengthAdjust="spacingAndGlyphs">0.0010</text>
<text transform="translate(369.5,320) rotate(-90)" font-size="33" text-anchor="middle">Absorbance</text>
<text x="606.5" y="637.7" font-size="35">c<tspan font-size="20" dy="10.5">TRAF</tspan><tspan dy="-10.5" font-size="35"> (mol.dm</tspan><tspan font-size="19" dy="-19">-3</tspan><tspan font-size="35" dy="19">)</tspan></text>
<path d="M486.6,303.5C486.7,305.1 486.6,305.3 487.1,313.4C487.6,321.5 489.2,342.4 489.8,352.2C490.4,362.0 490.5,365.1 490.8,372.0C491.1,378.9 491.2,382.9 491.6,393.7C492.0,404.5 492.2,423.6 493.4,437.0C494.5,450.4 496.7,465.0 498.5,474.0C500.3,483.0 501.6,485.9 504.3,491.2C507.0,496.5 508.3,501.2 514.7,505.6C521.1,510.1 500.9,514.5 542.5,517.9C584.1,521.3 681.3,524.6 764.6,526.3C847.9,528.0 996.2,528.0 1042.5,528.3" fill="none" stroke="#111" stroke-width="2.3"/>
<path d="M488.0,519.7C488.0,515.0 487.8,509.0 488.0,491.2C488.2,473.4 488.9,432.8 489.5,412.7C490.1,392.6 490.9,383.2 491.3,370.3C491.8,357.4 491.9,354.3 492.2,335.0C492.5,315.7 492.1,279.4 493.1,254.7C494.2,230.0 496.8,203.6 498.5,186.7C500.2,169.8 500.8,163.5 503.4,153.3C506.0,143.1 507.7,133.6 514.2,125.7C520.7,117.8 500.5,112.0 542.2,105.8C583.9,99.6 681.2,91.3 764.6,88.6C848.0,85.8 996.2,89.2 1042.5,89.3" fill="none" stroke="#111" stroke-width="2.3"/>
<circle cx="486.6" cy="303.5" r="6" fill="#0a0a08"/>
<circle cx="487.1" cy="313.4" r="6" fill="#0a0a08"/>
<circle cx="489.8" cy="352.2" r="6" fill="#0a0a08"/>
<circle cx="490.8" cy="372" r="6" fill="#0a0a08"/>
<circle cx="491.6" cy="393.7" r="6" fill="#0a0a08"/>
<circle cx="493.4" cy="437" r="6" fill="#0a0a08"/>
<circle cx="498.5" cy="474" r="6" fill="#0a0a08"/>
<circle cx="504.3" cy="491.2" r="6" fill="#0a0a08"/>
<circle cx="514.7" cy="505.6" r="6" fill="#0a0a08"/>
<circle cx="542.5" cy="517.9" r="6" fill="#0a0a08"/>
<circle cx="764.6" cy="526.3" r="6" fill="#0a0a08"/>
<circle cx="1042.5" cy="528.3" r="6" fill="#0a0a08"/>
<circle cx="488" cy="519.7" r="6.3" fill="#fe4524"/>
<circle cx="488" cy="491.2" r="6.3" fill="#fe4524"/>
<circle cx="489.5" cy="412.7" r="6.3" fill="#fe4524"/>
<circle cx="491.3" cy="370.3" r="6.3" fill="#fe4524"/>
<circle cx="492.2" cy="335" r="6.3" fill="#fe4524"/>
<circle cx="493.1" cy="254.7" r="6.3" fill="#fe4524"/>
<circle cx="498.5" cy="186.7" r="6.3" fill="#fe4524"/>
<circle cx="503.4" cy="153.3" r="6.3" fill="#fe4524"/>
<circle cx="514.2" cy="125.7" r="6.3" fill="#fe4524"/>
<circle cx="542.2" cy="105.8" r="6.3" fill="#fe4524"/>
<circle cx="764.6" cy="88.6" r="6.3" fill="#fe4524"/>
<rect x="1036.9" y="83.7" width="11.2" height="11.2" fill="#fe4524"/>
<line x1="716" y1="173" x2="752" y2="173" stroke="#222" stroke-width="3.5"/><line x1="769.5" y1="173" x2="807" y2="173" stroke="#222" stroke-width="3.5"/>
<rect x="755.5" y="167.7" width="10.6" height="10.6" fill="#0a0a08"/>
<text x="817.5" y="186.4" font-size="38.7">A (480 nm)</text>
<line x1="716" y1="222" x2="752" y2="222" stroke="#222" stroke-width="3.5"/><line x1="769.5" y1="222" x2="807" y2="222" stroke="#222" stroke-width="3.5"/>
<circle cx="760.7" cy="222" r="5.8" fill="#fe4524"/>
<text x="817.5" y="235.5" font-size="38.7">A (640 nm)</text>
</svg></body></html>
